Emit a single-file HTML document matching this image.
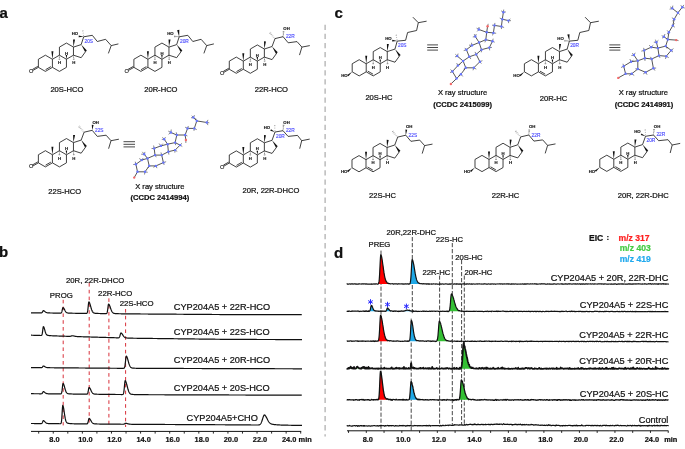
<!DOCTYPE html>
<html><head><meta charset="utf-8"><style>
html,body{margin:0;padding:0;background:#fff;}
svg{display:block;font-family:"Liberation Sans",sans-serif;will-change:transform;}
</style></head><body>
<svg width="685" height="449" viewBox="0 0 685 449">
<rect width="685" height="449" fill="#fff"/>
<line x1="45.40" y1="55.20" x2="38.39" y2="59.25" stroke="#111" stroke-width="0.8"/>
<line x1="38.39" y1="59.25" x2="38.39" y2="67.35" stroke="#111" stroke-width="0.8"/>
<line x1="38.39" y1="67.35" x2="45.40" y2="71.40" stroke="#111" stroke-width="0.8"/>
<line x1="45.40" y1="71.40" x2="52.41" y2="67.35" stroke="#111" stroke-width="0.8"/>
<line x1="52.41" y1="67.35" x2="52.41" y2="59.25" stroke="#111" stroke-width="0.8"/>
<line x1="52.41" y1="59.25" x2="45.40" y2="55.20" stroke="#111" stroke-width="0.8"/>
<line x1="52.41" y1="67.35" x2="59.43" y2="71.40" stroke="#111" stroke-width="0.8"/>
<line x1="59.43" y1="71.40" x2="66.44" y2="67.35" stroke="#111" stroke-width="0.8"/>
<line x1="66.44" y1="67.35" x2="66.44" y2="59.25" stroke="#111" stroke-width="0.8"/>
<line x1="66.44" y1="59.25" x2="59.43" y2="55.20" stroke="#111" stroke-width="0.8"/>
<line x1="59.43" y1="55.20" x2="52.41" y2="59.25" stroke="#111" stroke-width="0.8"/>
<line x1="59.43" y1="55.20" x2="59.43" y2="47.10" stroke="#111" stroke-width="0.8"/>
<line x1="59.43" y1="47.10" x2="66.44" y2="43.05" stroke="#111" stroke-width="0.8"/>
<line x1="66.44" y1="43.05" x2="73.46" y2="47.10" stroke="#111" stroke-width="0.8"/>
<line x1="73.46" y1="47.10" x2="73.46" y2="55.20" stroke="#111" stroke-width="0.8"/>
<line x1="73.46" y1="55.20" x2="66.44" y2="59.25" stroke="#111" stroke-width="0.8"/>
<line x1="73.46" y1="55.20" x2="81.16" y2="57.70" stroke="#111" stroke-width="0.8"/>
<line x1="81.16" y1="57.70" x2="85.93" y2="51.15" stroke="#111" stroke-width="0.8"/>
<line x1="81.16" y1="44.60" x2="73.46" y2="47.10" stroke="#111" stroke-width="0.8"/>
<polygon points="81.16,44.60 84.99,51.83 86.86,50.47" fill="#111"/>
<polygon points="52.41,59.25 53.41,51.25 51.41,51.25" fill="#111"/>
<polygon points="73.46,47.10 75.06,39.58 73.06,39.42" fill="#111"/>
<polygon points="66.44,59.25 67.19,55.05 65.69,55.05" fill="#111"/>
<text x="66.44" y="54.65" font-size="4.3" font-weight="bold" fill="#111" stroke="#111" stroke-width="0.13" text-anchor="middle" >H</text>
<line x1="59.03" y1="56.12" x2="59.83" y2="56.12" stroke="#111" stroke-width="0.55"/>
<line x1="58.95" y1="57.65" x2="59.91" y2="57.65" stroke="#111" stroke-width="0.55"/>
<line x1="58.65" y1="59.19" x2="60.21" y2="59.19" stroke="#111" stroke-width="0.55"/>
<text x="59.43" y="64.00" font-size="4.3" font-weight="bold" fill="#111" stroke="#111" stroke-width="0.13" text-anchor="middle" >H</text>
<line x1="73.12" y1="56.15" x2="73.92" y2="56.09" stroke="#111" stroke-width="0.55"/>
<line x1="73.14" y1="57.68" x2="74.10" y2="57.62" stroke="#111" stroke-width="0.55"/>
<line x1="72.94" y1="59.24" x2="74.50" y2="59.14" stroke="#111" stroke-width="0.55"/>
<text x="73.86" y="64.00" font-size="4.3" font-weight="bold" fill="#111" stroke="#111" stroke-width="0.13" text-anchor="middle" >H</text>
<line x1="45.54" y1="69.70" x2="50.87" y2="66.62" stroke="#111" stroke-width="0.8"/>
<line x1="38.39" y1="67.35" x2="33.09" y2="70.35" stroke="#111" stroke-width="0.8"/>
<line x1="37.84" y1="66.39" x2="32.54" y2="69.39" stroke="#111" stroke-width="0.8"/>
<text x="31.29" y="72.95" font-size="5.6" font-weight="normal" fill="#111" stroke="#111" stroke-width="0.13" text-anchor="middle" >O</text>
<line x1="81.16" y1="44.60" x2="83.70" y2="36.80" stroke="#111" stroke-width="0.8"/>
<line x1="83.70" y1="36.80" x2="92.30" y2="35.30" stroke="#111" stroke-width="0.8"/>
<line x1="92.30" y1="35.30" x2="97.30" y2="41.50" stroke="#111" stroke-width="0.8"/>
<line x1="97.30" y1="41.50" x2="105.60" y2="39.30" stroke="#111" stroke-width="0.8"/>
<line x1="105.60" y1="39.30" x2="111.20" y2="45.60" stroke="#111" stroke-width="0.8"/>
<line x1="111.20" y1="45.60" x2="118.40" y2="43.90" stroke="#111" stroke-width="0.8"/>
<line x1="111.20" y1="45.60" x2="108.40" y2="53.40" stroke="#111" stroke-width="0.8"/>
<polygon points="83.70,36.80 78.77,35.50 78.63,37.30" fill="#111"/>
<line x1="83.90" y1="35.38" x2="83.10" y2="35.50" stroke="#444" stroke-width="0.5"/>
<line x1="83.56" y1="33.12" x2="82.77" y2="33.23" stroke="#444" stroke-width="0.5"/>
<line x1="83.48" y1="30.81" x2="82.19" y2="31.00" stroke="#444" stroke-width="0.5"/>
<text x="78.10" y="35.40" font-size="4.3" font-weight="bold" fill="#111" stroke="#111" stroke-width="0.13" text-anchor="end" >HO</text>
<text x="84.50" y="43.10" font-size="4.8" font-weight="normal" fill="#4a4aff" stroke="#4a4aff" stroke-width="0.13" text-anchor="start" >20S</text>
<line x1="140.90" y1="55.20" x2="133.89" y2="59.25" stroke="#111" stroke-width="0.8"/>
<line x1="133.89" y1="59.25" x2="133.89" y2="67.35" stroke="#111" stroke-width="0.8"/>
<line x1="133.89" y1="67.35" x2="140.90" y2="71.40" stroke="#111" stroke-width="0.8"/>
<line x1="140.90" y1="71.40" x2="147.91" y2="67.35" stroke="#111" stroke-width="0.8"/>
<line x1="147.91" y1="67.35" x2="147.91" y2="59.25" stroke="#111" stroke-width="0.8"/>
<line x1="147.91" y1="59.25" x2="140.90" y2="55.20" stroke="#111" stroke-width="0.8"/>
<line x1="147.91" y1="67.35" x2="154.93" y2="71.40" stroke="#111" stroke-width="0.8"/>
<line x1="154.93" y1="71.40" x2="161.94" y2="67.35" stroke="#111" stroke-width="0.8"/>
<line x1="161.94" y1="67.35" x2="161.94" y2="59.25" stroke="#111" stroke-width="0.8"/>
<line x1="161.94" y1="59.25" x2="154.93" y2="55.20" stroke="#111" stroke-width="0.8"/>
<line x1="154.93" y1="55.20" x2="147.91" y2="59.25" stroke="#111" stroke-width="0.8"/>
<line x1="154.93" y1="55.20" x2="154.93" y2="47.10" stroke="#111" stroke-width="0.8"/>
<line x1="154.93" y1="47.10" x2="161.94" y2="43.05" stroke="#111" stroke-width="0.8"/>
<line x1="161.94" y1="43.05" x2="168.96" y2="47.10" stroke="#111" stroke-width="0.8"/>
<line x1="168.96" y1="47.10" x2="168.96" y2="55.20" stroke="#111" stroke-width="0.8"/>
<line x1="168.96" y1="55.20" x2="161.94" y2="59.25" stroke="#111" stroke-width="0.8"/>
<line x1="168.96" y1="55.20" x2="176.66" y2="57.70" stroke="#111" stroke-width="0.8"/>
<line x1="176.66" y1="57.70" x2="181.43" y2="51.15" stroke="#111" stroke-width="0.8"/>
<line x1="176.66" y1="44.60" x2="168.96" y2="47.10" stroke="#111" stroke-width="0.8"/>
<polygon points="176.66,44.60 180.49,51.83 182.36,50.47" fill="#111"/>
<polygon points="147.91,59.25 148.91,51.25 146.91,51.25" fill="#111"/>
<polygon points="168.96,47.10 170.56,39.58 168.56,39.42" fill="#111"/>
<polygon points="161.94,59.25 162.69,55.05 161.19,55.05" fill="#111"/>
<text x="161.94" y="54.65" font-size="4.3" font-weight="bold" fill="#111" stroke="#111" stroke-width="0.13" text-anchor="middle" >H</text>
<line x1="154.53" y1="56.12" x2="155.33" y2="56.12" stroke="#111" stroke-width="0.55"/>
<line x1="154.45" y1="57.65" x2="155.41" y2="57.65" stroke="#111" stroke-width="0.55"/>
<line x1="154.15" y1="59.19" x2="155.71" y2="59.19" stroke="#111" stroke-width="0.55"/>
<text x="154.93" y="64.00" font-size="4.3" font-weight="bold" fill="#111" stroke="#111" stroke-width="0.13" text-anchor="middle" >H</text>
<line x1="168.62" y1="56.15" x2="169.42" y2="56.09" stroke="#111" stroke-width="0.55"/>
<line x1="168.64" y1="57.68" x2="169.60" y2="57.62" stroke="#111" stroke-width="0.55"/>
<line x1="168.44" y1="59.24" x2="170.00" y2="59.14" stroke="#111" stroke-width="0.55"/>
<text x="169.36" y="64.00" font-size="4.3" font-weight="bold" fill="#111" stroke="#111" stroke-width="0.13" text-anchor="middle" >H</text>
<line x1="141.04" y1="69.70" x2="146.37" y2="66.62" stroke="#111" stroke-width="0.8"/>
<line x1="133.89" y1="67.35" x2="128.59" y2="70.35" stroke="#111" stroke-width="0.8"/>
<line x1="133.34" y1="66.39" x2="128.04" y2="69.39" stroke="#111" stroke-width="0.8"/>
<text x="126.79" y="72.95" font-size="5.6" font-weight="normal" fill="#111" stroke="#111" stroke-width="0.13" text-anchor="middle" >O</text>
<line x1="176.66" y1="44.60" x2="179.20" y2="36.80" stroke="#111" stroke-width="0.8"/>
<line x1="179.20" y1="36.80" x2="187.80" y2="35.30" stroke="#111" stroke-width="0.8"/>
<line x1="187.80" y1="35.30" x2="192.80" y2="41.50" stroke="#111" stroke-width="0.8"/>
<line x1="192.80" y1="41.50" x2="201.10" y2="39.30" stroke="#111" stroke-width="0.8"/>
<line x1="201.10" y1="39.30" x2="206.70" y2="45.60" stroke="#111" stroke-width="0.8"/>
<line x1="206.70" y1="45.60" x2="213.90" y2="43.90" stroke="#111" stroke-width="0.8"/>
<line x1="206.70" y1="45.60" x2="203.90" y2="53.40" stroke="#111" stroke-width="0.8"/>
<line x1="178.48" y1="36.34" x2="178.42" y2="37.14" stroke="#111" stroke-width="0.55"/>
<line x1="177.23" y1="36.24" x2="177.17" y2="37.04" stroke="#111" stroke-width="0.55"/>
<line x1="176.00" y1="35.96" x2="175.90" y2="37.12" stroke="#111" stroke-width="0.55"/>
<line x1="174.76" y1="35.63" x2="174.64" y2="37.25" stroke="#111" stroke-width="0.55"/>
<polygon points="179.20,36.80 179.29,29.84 177.11,30.16" fill="#111"/>
<text x="173.60" y="35.40" font-size="4.3" font-weight="bold" fill="#111" stroke="#111" stroke-width="0.13" text-anchor="end" >HO</text>
<text x="180.00" y="43.10" font-size="4.8" font-weight="normal" fill="#4a4aff" stroke="#4a4aff" stroke-width="0.13" text-anchor="start" >20R</text>
<line x1="236.30" y1="57.10" x2="229.29" y2="61.15" stroke="#111" stroke-width="0.8"/>
<line x1="229.29" y1="61.15" x2="229.29" y2="69.25" stroke="#111" stroke-width="0.8"/>
<line x1="229.29" y1="69.25" x2="236.30" y2="73.30" stroke="#111" stroke-width="0.8"/>
<line x1="236.30" y1="73.30" x2="243.31" y2="69.25" stroke="#111" stroke-width="0.8"/>
<line x1="243.31" y1="69.25" x2="243.31" y2="61.15" stroke="#111" stroke-width="0.8"/>
<line x1="243.31" y1="61.15" x2="236.30" y2="57.10" stroke="#111" stroke-width="0.8"/>
<line x1="243.31" y1="69.25" x2="250.33" y2="73.30" stroke="#111" stroke-width="0.8"/>
<line x1="250.33" y1="73.30" x2="257.34" y2="69.25" stroke="#111" stroke-width="0.8"/>
<line x1="257.34" y1="69.25" x2="257.34" y2="61.15" stroke="#111" stroke-width="0.8"/>
<line x1="257.34" y1="61.15" x2="250.33" y2="57.10" stroke="#111" stroke-width="0.8"/>
<line x1="250.33" y1="57.10" x2="243.31" y2="61.15" stroke="#111" stroke-width="0.8"/>
<line x1="250.33" y1="57.10" x2="250.33" y2="49.00" stroke="#111" stroke-width="0.8"/>
<line x1="250.33" y1="49.00" x2="257.34" y2="44.95" stroke="#111" stroke-width="0.8"/>
<line x1="257.34" y1="44.95" x2="264.36" y2="49.00" stroke="#111" stroke-width="0.8"/>
<line x1="264.36" y1="49.00" x2="264.36" y2="57.10" stroke="#111" stroke-width="0.8"/>
<line x1="264.36" y1="57.10" x2="257.34" y2="61.15" stroke="#111" stroke-width="0.8"/>
<line x1="264.36" y1="57.10" x2="272.06" y2="59.60" stroke="#111" stroke-width="0.8"/>
<line x1="272.06" y1="59.60" x2="276.83" y2="53.05" stroke="#111" stroke-width="0.8"/>
<line x1="272.06" y1="46.50" x2="264.36" y2="49.00" stroke="#111" stroke-width="0.8"/>
<polygon points="272.06,46.50 275.89,53.73 277.76,52.37" fill="#111"/>
<polygon points="243.31,61.15 244.31,53.15 242.31,53.15" fill="#111"/>
<polygon points="264.36,49.00 265.96,41.48 263.96,41.32" fill="#111"/>
<polygon points="257.34,61.15 258.09,56.95 256.59,56.95" fill="#111"/>
<text x="257.34" y="56.55" font-size="4.3" font-weight="bold" fill="#111" stroke="#111" stroke-width="0.13" text-anchor="middle" >H</text>
<line x1="249.93" y1="58.02" x2="250.73" y2="58.02" stroke="#111" stroke-width="0.55"/>
<line x1="249.85" y1="59.55" x2="250.81" y2="59.55" stroke="#111" stroke-width="0.55"/>
<line x1="249.55" y1="61.09" x2="251.11" y2="61.09" stroke="#111" stroke-width="0.55"/>
<text x="250.33" y="65.90" font-size="4.3" font-weight="bold" fill="#111" stroke="#111" stroke-width="0.13" text-anchor="middle" >H</text>
<line x1="264.02" y1="58.05" x2="264.82" y2="57.99" stroke="#111" stroke-width="0.55"/>
<line x1="264.04" y1="59.58" x2="265.00" y2="59.52" stroke="#111" stroke-width="0.55"/>
<line x1="263.84" y1="61.14" x2="265.40" y2="61.04" stroke="#111" stroke-width="0.55"/>
<text x="264.76" y="65.90" font-size="4.3" font-weight="bold" fill="#111" stroke="#111" stroke-width="0.13" text-anchor="middle" >H</text>
<line x1="236.44" y1="71.60" x2="241.77" y2="68.52" stroke="#111" stroke-width="0.8"/>
<line x1="229.29" y1="69.25" x2="223.99" y2="72.25" stroke="#111" stroke-width="0.8"/>
<line x1="228.74" y1="68.29" x2="223.44" y2="71.29" stroke="#111" stroke-width="0.8"/>
<text x="222.19" y="74.85" font-size="5.6" font-weight="normal" fill="#111" stroke="#111" stroke-width="0.13" text-anchor="middle" >O</text>
<line x1="272.06" y1="46.50" x2="275.00" y2="38.60" stroke="#111" stroke-width="0.8"/>
<line x1="275.00" y1="38.60" x2="283.10" y2="36.70" stroke="#111" stroke-width="0.8"/>
<line x1="283.10" y1="36.70" x2="288.20" y2="42.80" stroke="#111" stroke-width="0.8"/>
<line x1="288.20" y1="42.80" x2="297.00" y2="41.60" stroke="#111" stroke-width="0.8"/>
<line x1="297.00" y1="41.60" x2="301.90" y2="47.10" stroke="#111" stroke-width="0.8"/>
<line x1="301.90" y1="47.10" x2="309.80" y2="45.60" stroke="#111" stroke-width="0.8"/>
<line x1="301.90" y1="47.10" x2="299.50" y2="55.10" stroke="#111" stroke-width="0.8"/>
<line x1="274.83" y1="37.82" x2="274.24" y2="38.35" stroke="#555" stroke-width="0.5"/>
<line x1="274.06" y1="36.96" x2="273.47" y2="37.50" stroke="#555" stroke-width="0.5"/>
<line x1="273.29" y1="36.10" x2="272.70" y2="36.64" stroke="#555" stroke-width="0.5"/>
<line x1="272.57" y1="35.20" x2="271.88" y2="35.82" stroke="#555" stroke-width="0.5"/>
<line x1="271.89" y1="34.26" x2="271.01" y2="35.05" stroke="#555" stroke-width="0.5"/>
<line x1="271.22" y1="33.32" x2="270.14" y2="34.28" stroke="#555" stroke-width="0.5"/>
<line x1="270.54" y1="32.38" x2="269.28" y2="33.51" stroke="#555" stroke-width="0.5"/>
<line x1="283.57" y1="35.91" x2="282.78" y2="35.84" stroke="#111" stroke-width="0.55"/>
<line x1="283.70" y1="34.54" x2="282.90" y2="34.46" stroke="#111" stroke-width="0.55"/>
<line x1="284.01" y1="33.18" x2="282.84" y2="33.07" stroke="#111" stroke-width="0.55"/>
<line x1="284.36" y1="31.82" x2="282.74" y2="31.68" stroke="#111" stroke-width="0.55"/>
<text x="283.30" y="29.90" font-size="4.3" font-weight="bold" fill="#111" stroke="#111" stroke-width="0.13" text-anchor="start" >OH</text>
<text x="285.90" y="38.30" font-size="4.8" font-weight="normal" fill="#4a4aff" stroke="#4a4aff" stroke-width="0.13" text-anchor="start" >22R</text>
<line x1="45.40" y1="150.70" x2="38.39" y2="154.75" stroke="#111" stroke-width="0.8"/>
<line x1="38.39" y1="154.75" x2="38.39" y2="162.85" stroke="#111" stroke-width="0.8"/>
<line x1="38.39" y1="162.85" x2="45.40" y2="166.90" stroke="#111" stroke-width="0.8"/>
<line x1="45.40" y1="166.90" x2="52.41" y2="162.85" stroke="#111" stroke-width="0.8"/>
<line x1="52.41" y1="162.85" x2="52.41" y2="154.75" stroke="#111" stroke-width="0.8"/>
<line x1="52.41" y1="154.75" x2="45.40" y2="150.70" stroke="#111" stroke-width="0.8"/>
<line x1="52.41" y1="162.85" x2="59.43" y2="166.90" stroke="#111" stroke-width="0.8"/>
<line x1="59.43" y1="166.90" x2="66.44" y2="162.85" stroke="#111" stroke-width="0.8"/>
<line x1="66.44" y1="162.85" x2="66.44" y2="154.75" stroke="#111" stroke-width="0.8"/>
<line x1="66.44" y1="154.75" x2="59.43" y2="150.70" stroke="#111" stroke-width="0.8"/>
<line x1="59.43" y1="150.70" x2="52.41" y2="154.75" stroke="#111" stroke-width="0.8"/>
<line x1="59.43" y1="150.70" x2="59.43" y2="142.60" stroke="#111" stroke-width="0.8"/>
<line x1="59.43" y1="142.60" x2="66.44" y2="138.55" stroke="#111" stroke-width="0.8"/>
<line x1="66.44" y1="138.55" x2="73.46" y2="142.60" stroke="#111" stroke-width="0.8"/>
<line x1="73.46" y1="142.60" x2="73.46" y2="150.70" stroke="#111" stroke-width="0.8"/>
<line x1="73.46" y1="150.70" x2="66.44" y2="154.75" stroke="#111" stroke-width="0.8"/>
<line x1="73.46" y1="150.70" x2="81.16" y2="153.20" stroke="#111" stroke-width="0.8"/>
<line x1="81.16" y1="153.20" x2="85.93" y2="146.65" stroke="#111" stroke-width="0.8"/>
<line x1="81.16" y1="140.10" x2="73.46" y2="142.60" stroke="#111" stroke-width="0.8"/>
<polygon points="81.16,140.10 84.99,147.33 86.86,145.97" fill="#111"/>
<polygon points="52.41,154.75 53.41,146.75 51.41,146.75" fill="#111"/>
<polygon points="73.46,142.60 75.06,135.08 73.06,134.92" fill="#111"/>
<polygon points="66.44,154.75 67.19,150.55 65.69,150.55" fill="#111"/>
<text x="66.44" y="150.15" font-size="4.3" font-weight="bold" fill="#111" stroke="#111" stroke-width="0.13" text-anchor="middle" >H</text>
<line x1="59.03" y1="151.62" x2="59.83" y2="151.62" stroke="#111" stroke-width="0.55"/>
<line x1="58.95" y1="153.15" x2="59.91" y2="153.15" stroke="#111" stroke-width="0.55"/>
<line x1="58.65" y1="154.69" x2="60.21" y2="154.69" stroke="#111" stroke-width="0.55"/>
<text x="59.43" y="159.50" font-size="4.3" font-weight="bold" fill="#111" stroke="#111" stroke-width="0.13" text-anchor="middle" >H</text>
<line x1="73.12" y1="151.65" x2="73.92" y2="151.59" stroke="#111" stroke-width="0.55"/>
<line x1="73.14" y1="153.18" x2="74.10" y2="153.12" stroke="#111" stroke-width="0.55"/>
<line x1="72.94" y1="154.74" x2="74.50" y2="154.64" stroke="#111" stroke-width="0.55"/>
<text x="73.86" y="159.50" font-size="4.3" font-weight="bold" fill="#111" stroke="#111" stroke-width="0.13" text-anchor="middle" >H</text>
<line x1="45.54" y1="165.20" x2="50.87" y2="162.12" stroke="#111" stroke-width="0.8"/>
<line x1="38.39" y1="162.85" x2="33.09" y2="165.85" stroke="#111" stroke-width="0.8"/>
<line x1="37.84" y1="161.89" x2="32.54" y2="164.89" stroke="#111" stroke-width="0.8"/>
<text x="31.29" y="168.45" font-size="5.6" font-weight="normal" fill="#111" stroke="#111" stroke-width="0.13" text-anchor="middle" >O</text>
<line x1="81.16" y1="140.10" x2="84.10" y2="132.20" stroke="#111" stroke-width="0.8"/>
<line x1="84.10" y1="132.20" x2="92.20" y2="130.30" stroke="#111" stroke-width="0.8"/>
<line x1="92.20" y1="130.30" x2="97.30" y2="136.40" stroke="#111" stroke-width="0.8"/>
<line x1="97.30" y1="136.40" x2="106.10" y2="135.20" stroke="#111" stroke-width="0.8"/>
<line x1="106.10" y1="135.20" x2="111.00" y2="140.70" stroke="#111" stroke-width="0.8"/>
<line x1="111.00" y1="140.70" x2="118.90" y2="139.20" stroke="#111" stroke-width="0.8"/>
<line x1="111.00" y1="140.70" x2="108.60" y2="148.70" stroke="#111" stroke-width="0.8"/>
<line x1="83.93" y1="131.42" x2="83.34" y2="131.95" stroke="#555" stroke-width="0.5"/>
<line x1="83.16" y1="130.56" x2="82.57" y2="131.10" stroke="#555" stroke-width="0.5"/>
<line x1="82.39" y1="129.70" x2="81.80" y2="130.24" stroke="#555" stroke-width="0.5"/>
<line x1="81.67" y1="128.80" x2="80.98" y2="129.42" stroke="#555" stroke-width="0.5"/>
<line x1="80.99" y1="127.86" x2="80.11" y2="128.65" stroke="#555" stroke-width="0.5"/>
<line x1="80.32" y1="126.92" x2="79.24" y2="127.88" stroke="#555" stroke-width="0.5"/>
<line x1="79.64" y1="125.98" x2="78.38" y2="127.11" stroke="#555" stroke-width="0.5"/>
<polygon points="92.20,130.30 93.60,124.88 91.80,124.72" fill="#111"/>
<text x="92.40" y="123.50" font-size="4.3" font-weight="bold" fill="#111" stroke="#111" stroke-width="0.13" text-anchor="start" >OH</text>
<text x="95.00" y="131.90" font-size="4.8" font-weight="normal" fill="#4a4aff" stroke="#4a4aff" stroke-width="0.13" text-anchor="start" >22S</text>
<line x1="236.30" y1="150.90" x2="229.29" y2="154.95" stroke="#111" stroke-width="0.8"/>
<line x1="229.29" y1="154.95" x2="229.29" y2="163.05" stroke="#111" stroke-width="0.8"/>
<line x1="229.29" y1="163.05" x2="236.30" y2="167.10" stroke="#111" stroke-width="0.8"/>
<line x1="236.30" y1="167.10" x2="243.31" y2="163.05" stroke="#111" stroke-width="0.8"/>
<line x1="243.31" y1="163.05" x2="243.31" y2="154.95" stroke="#111" stroke-width="0.8"/>
<line x1="243.31" y1="154.95" x2="236.30" y2="150.90" stroke="#111" stroke-width="0.8"/>
<line x1="243.31" y1="163.05" x2="250.33" y2="167.10" stroke="#111" stroke-width="0.8"/>
<line x1="250.33" y1="167.10" x2="257.34" y2="163.05" stroke="#111" stroke-width="0.8"/>
<line x1="257.34" y1="163.05" x2="257.34" y2="154.95" stroke="#111" stroke-width="0.8"/>
<line x1="257.34" y1="154.95" x2="250.33" y2="150.90" stroke="#111" stroke-width="0.8"/>
<line x1="250.33" y1="150.90" x2="243.31" y2="154.95" stroke="#111" stroke-width="0.8"/>
<line x1="250.33" y1="150.90" x2="250.33" y2="142.80" stroke="#111" stroke-width="0.8"/>
<line x1="250.33" y1="142.80" x2="257.34" y2="138.75" stroke="#111" stroke-width="0.8"/>
<line x1="257.34" y1="138.75" x2="264.36" y2="142.80" stroke="#111" stroke-width="0.8"/>
<line x1="264.36" y1="142.80" x2="264.36" y2="150.90" stroke="#111" stroke-width="0.8"/>
<line x1="264.36" y1="150.90" x2="257.34" y2="154.95" stroke="#111" stroke-width="0.8"/>
<line x1="264.36" y1="150.90" x2="272.06" y2="153.40" stroke="#111" stroke-width="0.8"/>
<line x1="272.06" y1="153.40" x2="276.83" y2="146.85" stroke="#111" stroke-width="0.8"/>
<line x1="272.06" y1="140.30" x2="264.36" y2="142.80" stroke="#111" stroke-width="0.8"/>
<polygon points="272.06,140.30 275.89,147.53 277.76,146.17" fill="#111"/>
<polygon points="243.31,154.95 244.31,146.95 242.31,146.95" fill="#111"/>
<polygon points="264.36,142.80 265.96,135.28 263.96,135.12" fill="#111"/>
<polygon points="257.34,154.95 258.09,150.75 256.59,150.75" fill="#111"/>
<text x="257.34" y="150.35" font-size="4.3" font-weight="bold" fill="#111" stroke="#111" stroke-width="0.13" text-anchor="middle" >H</text>
<line x1="249.93" y1="151.82" x2="250.73" y2="151.82" stroke="#111" stroke-width="0.55"/>
<line x1="249.85" y1="153.35" x2="250.81" y2="153.35" stroke="#111" stroke-width="0.55"/>
<line x1="249.55" y1="154.89" x2="251.11" y2="154.89" stroke="#111" stroke-width="0.55"/>
<text x="250.33" y="159.70" font-size="4.3" font-weight="bold" fill="#111" stroke="#111" stroke-width="0.13" text-anchor="middle" >H</text>
<line x1="264.02" y1="151.85" x2="264.82" y2="151.79" stroke="#111" stroke-width="0.55"/>
<line x1="264.04" y1="153.38" x2="265.00" y2="153.32" stroke="#111" stroke-width="0.55"/>
<line x1="263.84" y1="154.94" x2="265.40" y2="154.84" stroke="#111" stroke-width="0.55"/>
<text x="264.76" y="159.70" font-size="4.3" font-weight="bold" fill="#111" stroke="#111" stroke-width="0.13" text-anchor="middle" >H</text>
<line x1="236.44" y1="165.40" x2="241.77" y2="162.32" stroke="#111" stroke-width="0.8"/>
<line x1="229.29" y1="163.05" x2="223.99" y2="166.05" stroke="#111" stroke-width="0.8"/>
<line x1="228.74" y1="162.09" x2="223.44" y2="165.09" stroke="#111" stroke-width="0.8"/>
<text x="222.19" y="168.65" font-size="5.6" font-weight="normal" fill="#111" stroke="#111" stroke-width="0.13" text-anchor="middle" >O</text>
<line x1="272.06" y1="140.30" x2="275.00" y2="132.00" stroke="#111" stroke-width="0.8"/>
<line x1="275.00" y1="132.00" x2="283.00" y2="130.70" stroke="#111" stroke-width="0.8"/>
<line x1="283.00" y1="130.70" x2="288.10" y2="136.40" stroke="#111" stroke-width="0.8"/>
<line x1="288.10" y1="136.40" x2="297.50" y2="135.40" stroke="#111" stroke-width="0.8"/>
<line x1="297.50" y1="135.40" x2="301.70" y2="140.70" stroke="#111" stroke-width="0.8"/>
<line x1="301.70" y1="140.70" x2="309.70" y2="139.10" stroke="#111" stroke-width="0.8"/>
<line x1="301.70" y1="140.70" x2="299.70" y2="148.70" stroke="#111" stroke-width="0.8"/>
<polygon points="275.00,132.00 270.97,129.18 270.23,130.82" fill="#111"/>
<line x1="275.34" y1="130.52" x2="274.54" y2="130.56" stroke="#444" stroke-width="0.5"/>
<line x1="275.24" y1="128.09" x2="274.44" y2="128.12" stroke="#444" stroke-width="0.5"/>
<line x1="275.39" y1="125.65" x2="274.09" y2="125.70" stroke="#444" stroke-width="0.5"/>
<line x1="283.49" y1="129.84" x2="282.69" y2="129.76" stroke="#111" stroke-width="0.55"/>
<line x1="283.64" y1="128.34" x2="282.84" y2="128.26" stroke="#111" stroke-width="0.55"/>
<line x1="283.97" y1="126.86" x2="282.81" y2="126.74" stroke="#111" stroke-width="0.55"/>
<line x1="284.35" y1="125.38" x2="282.73" y2="125.22" stroke="#111" stroke-width="0.55"/>
<text x="270.10" y="128.70" font-size="4.3" font-weight="bold" fill="#111" stroke="#111" stroke-width="0.13" text-anchor="end" >HO</text>
<text x="283.30" y="123.50" font-size="4.3" font-weight="bold" fill="#111" stroke="#111" stroke-width="0.13" text-anchor="start" >OH</text>
<text x="276.00" y="137.80" font-size="4.8" font-weight="normal" fill="#4a4aff" stroke="#4a4aff" stroke-width="0.13" text-anchor="start" >20R</text>
<text x="285.90" y="131.70" font-size="4.8" font-weight="normal" fill="#4a4aff" stroke="#4a4aff" stroke-width="0.13" text-anchor="start" >22R</text>
<line x1="359.20" y1="59.70" x2="352.19" y2="63.75" stroke="#111" stroke-width="0.8"/>
<line x1="352.19" y1="63.75" x2="352.19" y2="71.85" stroke="#111" stroke-width="0.8"/>
<line x1="352.19" y1="71.85" x2="359.20" y2="75.90" stroke="#111" stroke-width="0.8"/>
<line x1="359.20" y1="75.90" x2="366.21" y2="71.85" stroke="#111" stroke-width="0.8"/>
<line x1="366.21" y1="71.85" x2="366.21" y2="63.75" stroke="#111" stroke-width="0.8"/>
<line x1="366.21" y1="63.75" x2="359.20" y2="59.70" stroke="#111" stroke-width="0.8"/>
<line x1="366.21" y1="71.85" x2="373.23" y2="75.90" stroke="#111" stroke-width="0.8"/>
<line x1="373.23" y1="75.90" x2="380.24" y2="71.85" stroke="#111" stroke-width="0.8"/>
<line x1="380.24" y1="71.85" x2="380.24" y2="63.75" stroke="#111" stroke-width="0.8"/>
<line x1="380.24" y1="63.75" x2="373.23" y2="59.70" stroke="#111" stroke-width="0.8"/>
<line x1="373.23" y1="59.70" x2="366.21" y2="63.75" stroke="#111" stroke-width="0.8"/>
<line x1="373.23" y1="59.70" x2="373.23" y2="51.60" stroke="#111" stroke-width="0.8"/>
<line x1="373.23" y1="51.60" x2="380.24" y2="47.55" stroke="#111" stroke-width="0.8"/>
<line x1="380.24" y1="47.55" x2="387.26" y2="51.60" stroke="#111" stroke-width="0.8"/>
<line x1="387.26" y1="51.60" x2="387.26" y2="59.70" stroke="#111" stroke-width="0.8"/>
<line x1="387.26" y1="59.70" x2="380.24" y2="63.75" stroke="#111" stroke-width="0.8"/>
<line x1="387.26" y1="59.70" x2="394.96" y2="62.20" stroke="#111" stroke-width="0.8"/>
<line x1="394.96" y1="62.20" x2="399.73" y2="55.65" stroke="#111" stroke-width="0.8"/>
<line x1="394.96" y1="49.10" x2="387.26" y2="51.60" stroke="#111" stroke-width="0.8"/>
<polygon points="394.96,49.10 398.79,56.33 400.66,54.97" fill="#111"/>
<polygon points="366.21,63.75 367.21,55.75 365.21,55.75" fill="#111"/>
<polygon points="387.26,51.60 388.86,44.08 386.86,43.92" fill="#111"/>
<polygon points="380.24,63.75 380.99,59.55 379.49,59.55" fill="#111"/>
<text x="380.24" y="59.15" font-size="4.3" font-weight="bold" fill="#111" stroke="#111" stroke-width="0.13" text-anchor="middle" >H</text>
<line x1="372.83" y1="60.62" x2="373.63" y2="60.62" stroke="#111" stroke-width="0.55"/>
<line x1="372.75" y1="62.15" x2="373.71" y2="62.15" stroke="#111" stroke-width="0.55"/>
<line x1="372.45" y1="63.69" x2="374.01" y2="63.69" stroke="#111" stroke-width="0.55"/>
<text x="373.23" y="68.50" font-size="4.3" font-weight="bold" fill="#111" stroke="#111" stroke-width="0.13" text-anchor="middle" >H</text>
<line x1="386.92" y1="60.65" x2="387.72" y2="60.59" stroke="#111" stroke-width="0.55"/>
<line x1="386.94" y1="62.18" x2="387.90" y2="62.12" stroke="#111" stroke-width="0.55"/>
<line x1="386.74" y1="63.74" x2="388.30" y2="63.64" stroke="#111" stroke-width="0.55"/>
<text x="387.66" y="68.50" font-size="4.3" font-weight="bold" fill="#111" stroke="#111" stroke-width="0.13" text-anchor="middle" >H</text>
<line x1="367.76" y1="71.12" x2="373.09" y2="74.20" stroke="#111" stroke-width="0.8"/>
<polygon points="352.19,71.85 347.20,74.97 348.37,76.33" fill="#111"/>
<text x="347.59" y="77.15" font-size="4.3" font-weight="bold" fill="#111" stroke="#111" stroke-width="0.13" text-anchor="end" >HO</text>
<line x1="394.96" y1="49.10" x2="397.20" y2="41.10" stroke="#111" stroke-width="0.8"/>
<line x1="397.20" y1="41.10" x2="405.60" y2="40.30" stroke="#111" stroke-width="0.8"/>
<line x1="405.60" y1="40.30" x2="407.60" y2="32.50" stroke="#111" stroke-width="0.8"/>
<line x1="407.60" y1="32.50" x2="416.60" y2="30.50" stroke="#111" stroke-width="0.8"/>
<line x1="416.60" y1="30.50" x2="418.30" y2="22.70" stroke="#111" stroke-width="0.8"/>
<line x1="418.30" y1="22.70" x2="426.60" y2="21.20" stroke="#111" stroke-width="0.8"/>
<line x1="418.30" y1="22.70" x2="412.90" y2="17.20" stroke="#111" stroke-width="0.8"/>
<polygon points="397.20,41.10 392.27,39.80 392.13,41.60" fill="#111"/>
<line x1="397.40" y1="39.68" x2="396.60" y2="39.80" stroke="#444" stroke-width="0.5"/>
<line x1="397.06" y1="37.42" x2="396.27" y2="37.53" stroke="#444" stroke-width="0.5"/>
<line x1="396.98" y1="35.11" x2="395.69" y2="35.30" stroke="#444" stroke-width="0.5"/>
<text x="391.60" y="39.70" font-size="4.3" font-weight="bold" fill="#111" stroke="#111" stroke-width="0.13" text-anchor="end" >HO</text>
<text x="398.00" y="47.40" font-size="4.8" font-weight="normal" fill="#4a4aff" stroke="#4a4aff" stroke-width="0.13" text-anchor="start" >20S</text>
<line x1="531.40" y1="59.70" x2="524.39" y2="63.75" stroke="#111" stroke-width="0.8"/>
<line x1="524.39" y1="63.75" x2="524.39" y2="71.85" stroke="#111" stroke-width="0.8"/>
<line x1="524.39" y1="71.85" x2="531.40" y2="75.90" stroke="#111" stroke-width="0.8"/>
<line x1="531.40" y1="75.90" x2="538.41" y2="71.85" stroke="#111" stroke-width="0.8"/>
<line x1="538.41" y1="71.85" x2="538.41" y2="63.75" stroke="#111" stroke-width="0.8"/>
<line x1="538.41" y1="63.75" x2="531.40" y2="59.70" stroke="#111" stroke-width="0.8"/>
<line x1="538.41" y1="71.85" x2="545.43" y2="75.90" stroke="#111" stroke-width="0.8"/>
<line x1="545.43" y1="75.90" x2="552.44" y2="71.85" stroke="#111" stroke-width="0.8"/>
<line x1="552.44" y1="71.85" x2="552.44" y2="63.75" stroke="#111" stroke-width="0.8"/>
<line x1="552.44" y1="63.75" x2="545.43" y2="59.70" stroke="#111" stroke-width="0.8"/>
<line x1="545.43" y1="59.70" x2="538.41" y2="63.75" stroke="#111" stroke-width="0.8"/>
<line x1="545.43" y1="59.70" x2="545.43" y2="51.60" stroke="#111" stroke-width="0.8"/>
<line x1="545.43" y1="51.60" x2="552.44" y2="47.55" stroke="#111" stroke-width="0.8"/>
<line x1="552.44" y1="47.55" x2="559.46" y2="51.60" stroke="#111" stroke-width="0.8"/>
<line x1="559.46" y1="51.60" x2="559.46" y2="59.70" stroke="#111" stroke-width="0.8"/>
<line x1="559.46" y1="59.70" x2="552.44" y2="63.75" stroke="#111" stroke-width="0.8"/>
<line x1="559.46" y1="59.70" x2="567.16" y2="62.20" stroke="#111" stroke-width="0.8"/>
<line x1="567.16" y1="62.20" x2="571.93" y2="55.65" stroke="#111" stroke-width="0.8"/>
<line x1="567.16" y1="49.10" x2="559.46" y2="51.60" stroke="#111" stroke-width="0.8"/>
<polygon points="567.16,49.10 570.99,56.33 572.86,54.97" fill="#111"/>
<polygon points="538.41,63.75 539.41,55.75 537.41,55.75" fill="#111"/>
<polygon points="559.46,51.60 561.06,44.08 559.06,43.92" fill="#111"/>
<polygon points="552.44,63.75 553.19,59.55 551.69,59.55" fill="#111"/>
<text x="552.44" y="59.15" font-size="4.3" font-weight="bold" fill="#111" stroke="#111" stroke-width="0.13" text-anchor="middle" >H</text>
<line x1="545.03" y1="60.62" x2="545.83" y2="60.62" stroke="#111" stroke-width="0.55"/>
<line x1="544.95" y1="62.15" x2="545.91" y2="62.15" stroke="#111" stroke-width="0.55"/>
<line x1="544.65" y1="63.69" x2="546.21" y2="63.69" stroke="#111" stroke-width="0.55"/>
<text x="545.43" y="68.50" font-size="4.3" font-weight="bold" fill="#111" stroke="#111" stroke-width="0.13" text-anchor="middle" >H</text>
<line x1="559.12" y1="60.65" x2="559.92" y2="60.59" stroke="#111" stroke-width="0.55"/>
<line x1="559.14" y1="62.18" x2="560.10" y2="62.12" stroke="#111" stroke-width="0.55"/>
<line x1="558.94" y1="63.74" x2="560.50" y2="63.64" stroke="#111" stroke-width="0.55"/>
<text x="559.86" y="68.50" font-size="4.3" font-weight="bold" fill="#111" stroke="#111" stroke-width="0.13" text-anchor="middle" >H</text>
<line x1="539.96" y1="71.12" x2="545.29" y2="74.20" stroke="#111" stroke-width="0.8"/>
<polygon points="524.39,71.85 519.40,74.97 520.57,76.33" fill="#111"/>
<text x="519.79" y="77.15" font-size="4.3" font-weight="bold" fill="#111" stroke="#111" stroke-width="0.13" text-anchor="end" >HO</text>
<line x1="567.16" y1="49.10" x2="569.40" y2="41.10" stroke="#111" stroke-width="0.8"/>
<line x1="569.40" y1="41.10" x2="577.80" y2="40.30" stroke="#111" stroke-width="0.8"/>
<line x1="577.80" y1="40.30" x2="579.80" y2="32.50" stroke="#111" stroke-width="0.8"/>
<line x1="579.80" y1="32.50" x2="588.80" y2="30.50" stroke="#111" stroke-width="0.8"/>
<line x1="588.80" y1="30.50" x2="590.50" y2="22.70" stroke="#111" stroke-width="0.8"/>
<line x1="590.50" y1="22.70" x2="598.80" y2="21.20" stroke="#111" stroke-width="0.8"/>
<line x1="590.50" y1="22.70" x2="585.10" y2="17.20" stroke="#111" stroke-width="0.8"/>
<line x1="568.68" y1="40.64" x2="568.62" y2="41.44" stroke="#111" stroke-width="0.55"/>
<line x1="567.43" y1="40.54" x2="567.37" y2="41.34" stroke="#111" stroke-width="0.55"/>
<line x1="566.20" y1="40.26" x2="566.10" y2="41.42" stroke="#111" stroke-width="0.55"/>
<line x1="564.96" y1="39.93" x2="564.84" y2="41.55" stroke="#111" stroke-width="0.55"/>
<polygon points="569.40,41.10 569.49,34.14 567.31,34.46" fill="#111"/>
<text x="563.80" y="39.70" font-size="4.3" font-weight="bold" fill="#111" stroke="#111" stroke-width="0.13" text-anchor="end" >HO</text>
<text x="570.20" y="47.40" font-size="4.8" font-weight="normal" fill="#4a4aff" stroke="#4a4aff" stroke-width="0.13" text-anchor="start" >20R</text>
<line x1="359.00" y1="155.60" x2="351.99" y2="159.65" stroke="#111" stroke-width="0.8"/>
<line x1="351.99" y1="159.65" x2="351.99" y2="167.75" stroke="#111" stroke-width="0.8"/>
<line x1="351.99" y1="167.75" x2="359.00" y2="171.80" stroke="#111" stroke-width="0.8"/>
<line x1="359.00" y1="171.80" x2="366.01" y2="167.75" stroke="#111" stroke-width="0.8"/>
<line x1="366.01" y1="167.75" x2="366.01" y2="159.65" stroke="#111" stroke-width="0.8"/>
<line x1="366.01" y1="159.65" x2="359.00" y2="155.60" stroke="#111" stroke-width="0.8"/>
<line x1="366.01" y1="167.75" x2="373.03" y2="171.80" stroke="#111" stroke-width="0.8"/>
<line x1="373.03" y1="171.80" x2="380.04" y2="167.75" stroke="#111" stroke-width="0.8"/>
<line x1="380.04" y1="167.75" x2="380.04" y2="159.65" stroke="#111" stroke-width="0.8"/>
<line x1="380.04" y1="159.65" x2="373.03" y2="155.60" stroke="#111" stroke-width="0.8"/>
<line x1="373.03" y1="155.60" x2="366.01" y2="159.65" stroke="#111" stroke-width="0.8"/>
<line x1="373.03" y1="155.60" x2="373.03" y2="147.50" stroke="#111" stroke-width="0.8"/>
<line x1="373.03" y1="147.50" x2="380.04" y2="143.45" stroke="#111" stroke-width="0.8"/>
<line x1="380.04" y1="143.45" x2="387.06" y2="147.50" stroke="#111" stroke-width="0.8"/>
<line x1="387.06" y1="147.50" x2="387.06" y2="155.60" stroke="#111" stroke-width="0.8"/>
<line x1="387.06" y1="155.60" x2="380.04" y2="159.65" stroke="#111" stroke-width="0.8"/>
<line x1="387.06" y1="155.60" x2="394.76" y2="158.10" stroke="#111" stroke-width="0.8"/>
<line x1="394.76" y1="158.10" x2="399.53" y2="151.55" stroke="#111" stroke-width="0.8"/>
<line x1="394.76" y1="145.00" x2="387.06" y2="147.50" stroke="#111" stroke-width="0.8"/>
<polygon points="394.76,145.00 398.59,152.23 400.46,150.87" fill="#111"/>
<polygon points="366.01,159.65 367.01,151.65 365.01,151.65" fill="#111"/>
<polygon points="387.06,147.50 388.66,139.98 386.66,139.82" fill="#111"/>
<polygon points="380.04,159.65 380.79,155.45 379.29,155.45" fill="#111"/>
<text x="380.04" y="155.05" font-size="4.3" font-weight="bold" fill="#111" stroke="#111" stroke-width="0.13" text-anchor="middle" >H</text>
<line x1="372.63" y1="156.52" x2="373.43" y2="156.52" stroke="#111" stroke-width="0.55"/>
<line x1="372.55" y1="158.05" x2="373.51" y2="158.05" stroke="#111" stroke-width="0.55"/>
<line x1="372.25" y1="159.59" x2="373.81" y2="159.59" stroke="#111" stroke-width="0.55"/>
<text x="373.03" y="164.40" font-size="4.3" font-weight="bold" fill="#111" stroke="#111" stroke-width="0.13" text-anchor="middle" >H</text>
<line x1="386.72" y1="156.55" x2="387.52" y2="156.49" stroke="#111" stroke-width="0.55"/>
<line x1="386.74" y1="158.08" x2="387.70" y2="158.02" stroke="#111" stroke-width="0.55"/>
<line x1="386.54" y1="159.64" x2="388.10" y2="159.54" stroke="#111" stroke-width="0.55"/>
<text x="387.46" y="164.40" font-size="4.3" font-weight="bold" fill="#111" stroke="#111" stroke-width="0.13" text-anchor="middle" >H</text>
<line x1="367.56" y1="167.02" x2="372.89" y2="170.10" stroke="#111" stroke-width="0.8"/>
<polygon points="351.99,167.75 347.00,170.87 348.17,172.23" fill="#111"/>
<text x="347.39" y="173.05" font-size="4.3" font-weight="bold" fill="#111" stroke="#111" stroke-width="0.13" text-anchor="end" >HO</text>
<line x1="394.76" y1="145.00" x2="397.70" y2="137.10" stroke="#111" stroke-width="0.8"/>
<line x1="397.70" y1="137.10" x2="405.80" y2="135.20" stroke="#111" stroke-width="0.8"/>
<line x1="405.80" y1="135.20" x2="410.90" y2="141.30" stroke="#111" stroke-width="0.8"/>
<line x1="410.90" y1="141.30" x2="419.70" y2="140.10" stroke="#111" stroke-width="0.8"/>
<line x1="419.70" y1="140.10" x2="424.60" y2="145.60" stroke="#111" stroke-width="0.8"/>
<line x1="424.60" y1="145.60" x2="432.50" y2="144.10" stroke="#111" stroke-width="0.8"/>
<line x1="424.60" y1="145.60" x2="422.20" y2="153.60" stroke="#111" stroke-width="0.8"/>
<line x1="397.53" y1="136.32" x2="396.94" y2="136.85" stroke="#555" stroke-width="0.5"/>
<line x1="396.76" y1="135.46" x2="396.17" y2="136.00" stroke="#555" stroke-width="0.5"/>
<line x1="395.99" y1="134.60" x2="395.40" y2="135.14" stroke="#555" stroke-width="0.5"/>
<line x1="395.27" y1="133.70" x2="394.58" y2="134.32" stroke="#555" stroke-width="0.5"/>
<line x1="394.59" y1="132.76" x2="393.71" y2="133.55" stroke="#555" stroke-width="0.5"/>
<line x1="393.92" y1="131.82" x2="392.84" y2="132.78" stroke="#555" stroke-width="0.5"/>
<line x1="393.24" y1="130.88" x2="391.98" y2="132.01" stroke="#555" stroke-width="0.5"/>
<polygon points="405.80,135.20 407.20,129.78 405.40,129.62" fill="#111"/>
<text x="406.00" y="128.40" font-size="4.3" font-weight="bold" fill="#111" stroke="#111" stroke-width="0.13" text-anchor="start" >OH</text>
<text x="408.60" y="136.80" font-size="4.8" font-weight="normal" fill="#4a4aff" stroke="#4a4aff" stroke-width="0.13" text-anchor="start" >22S</text>
<line x1="482.00" y1="155.40" x2="474.99" y2="159.45" stroke="#111" stroke-width="0.8"/>
<line x1="474.99" y1="159.45" x2="474.99" y2="167.55" stroke="#111" stroke-width="0.8"/>
<line x1="474.99" y1="167.55" x2="482.00" y2="171.60" stroke="#111" stroke-width="0.8"/>
<line x1="482.00" y1="171.60" x2="489.01" y2="167.55" stroke="#111" stroke-width="0.8"/>
<line x1="489.01" y1="167.55" x2="489.01" y2="159.45" stroke="#111" stroke-width="0.8"/>
<line x1="489.01" y1="159.45" x2="482.00" y2="155.40" stroke="#111" stroke-width="0.8"/>
<line x1="489.01" y1="167.55" x2="496.03" y2="171.60" stroke="#111" stroke-width="0.8"/>
<line x1="496.03" y1="171.60" x2="503.04" y2="167.55" stroke="#111" stroke-width="0.8"/>
<line x1="503.04" y1="167.55" x2="503.04" y2="159.45" stroke="#111" stroke-width="0.8"/>
<line x1="503.04" y1="159.45" x2="496.03" y2="155.40" stroke="#111" stroke-width="0.8"/>
<line x1="496.03" y1="155.40" x2="489.01" y2="159.45" stroke="#111" stroke-width="0.8"/>
<line x1="496.03" y1="155.40" x2="496.03" y2="147.30" stroke="#111" stroke-width="0.8"/>
<line x1="496.03" y1="147.30" x2="503.04" y2="143.25" stroke="#111" stroke-width="0.8"/>
<line x1="503.04" y1="143.25" x2="510.06" y2="147.30" stroke="#111" stroke-width="0.8"/>
<line x1="510.06" y1="147.30" x2="510.06" y2="155.40" stroke="#111" stroke-width="0.8"/>
<line x1="510.06" y1="155.40" x2="503.04" y2="159.45" stroke="#111" stroke-width="0.8"/>
<line x1="510.06" y1="155.40" x2="517.76" y2="157.90" stroke="#111" stroke-width="0.8"/>
<line x1="517.76" y1="157.90" x2="522.53" y2="151.35" stroke="#111" stroke-width="0.8"/>
<line x1="517.76" y1="144.80" x2="510.06" y2="147.30" stroke="#111" stroke-width="0.8"/>
<polygon points="517.76,144.80 521.59,152.03 523.46,150.67" fill="#111"/>
<polygon points="489.01,159.45 490.01,151.45 488.01,151.45" fill="#111"/>
<polygon points="510.06,147.30 511.66,139.78 509.66,139.62" fill="#111"/>
<polygon points="503.04,159.45 503.79,155.25 502.29,155.25" fill="#111"/>
<text x="503.04" y="154.85" font-size="4.3" font-weight="bold" fill="#111" stroke="#111" stroke-width="0.13" text-anchor="middle" >H</text>
<line x1="495.63" y1="156.32" x2="496.43" y2="156.32" stroke="#111" stroke-width="0.55"/>
<line x1="495.55" y1="157.85" x2="496.51" y2="157.85" stroke="#111" stroke-width="0.55"/>
<line x1="495.25" y1="159.39" x2="496.81" y2="159.39" stroke="#111" stroke-width="0.55"/>
<text x="496.03" y="164.20" font-size="4.3" font-weight="bold" fill="#111" stroke="#111" stroke-width="0.13" text-anchor="middle" >H</text>
<line x1="509.72" y1="156.35" x2="510.52" y2="156.29" stroke="#111" stroke-width="0.55"/>
<line x1="509.74" y1="157.88" x2="510.70" y2="157.82" stroke="#111" stroke-width="0.55"/>
<line x1="509.54" y1="159.44" x2="511.10" y2="159.34" stroke="#111" stroke-width="0.55"/>
<text x="510.46" y="164.20" font-size="4.3" font-weight="bold" fill="#111" stroke="#111" stroke-width="0.13" text-anchor="middle" >H</text>
<line x1="490.56" y1="166.82" x2="495.89" y2="169.90" stroke="#111" stroke-width="0.8"/>
<polygon points="474.99,167.55 470.00,170.67 471.17,172.03" fill="#111"/>
<text x="470.39" y="172.85" font-size="4.3" font-weight="bold" fill="#111" stroke="#111" stroke-width="0.13" text-anchor="end" >HO</text>
<line x1="517.76" y1="144.80" x2="520.70" y2="136.90" stroke="#111" stroke-width="0.8"/>
<line x1="520.70" y1="136.90" x2="528.80" y2="135.00" stroke="#111" stroke-width="0.8"/>
<line x1="528.80" y1="135.00" x2="533.90" y2="141.10" stroke="#111" stroke-width="0.8"/>
<line x1="533.90" y1="141.10" x2="542.70" y2="139.90" stroke="#111" stroke-width="0.8"/>
<line x1="542.70" y1="139.90" x2="547.60" y2="145.40" stroke="#111" stroke-width="0.8"/>
<line x1="547.60" y1="145.40" x2="555.50" y2="143.90" stroke="#111" stroke-width="0.8"/>
<line x1="547.60" y1="145.40" x2="545.20" y2="153.40" stroke="#111" stroke-width="0.8"/>
<line x1="520.53" y1="136.12" x2="519.94" y2="136.65" stroke="#555" stroke-width="0.5"/>
<line x1="519.76" y1="135.26" x2="519.17" y2="135.80" stroke="#555" stroke-width="0.5"/>
<line x1="518.99" y1="134.40" x2="518.40" y2="134.94" stroke="#555" stroke-width="0.5"/>
<line x1="518.27" y1="133.50" x2="517.58" y2="134.12" stroke="#555" stroke-width="0.5"/>
<line x1="517.59" y1="132.56" x2="516.71" y2="133.35" stroke="#555" stroke-width="0.5"/>
<line x1="516.92" y1="131.62" x2="515.84" y2="132.58" stroke="#555" stroke-width="0.5"/>
<line x1="516.24" y1="130.68" x2="514.98" y2="131.81" stroke="#555" stroke-width="0.5"/>
<line x1="529.27" y1="134.21" x2="528.48" y2="134.14" stroke="#111" stroke-width="0.55"/>
<line x1="529.40" y1="132.84" x2="528.60" y2="132.76" stroke="#111" stroke-width="0.55"/>
<line x1="529.71" y1="131.48" x2="528.54" y2="131.37" stroke="#111" stroke-width="0.55"/>
<line x1="530.06" y1="130.12" x2="528.44" y2="129.98" stroke="#111" stroke-width="0.55"/>
<text x="529.00" y="128.20" font-size="4.3" font-weight="bold" fill="#111" stroke="#111" stroke-width="0.13" text-anchor="start" >OH</text>
<text x="531.60" y="136.60" font-size="4.8" font-weight="normal" fill="#4a4aff" stroke="#4a4aff" stroke-width="0.13" text-anchor="start" >22R</text>
<line x1="606.80" y1="155.20" x2="599.79" y2="159.25" stroke="#111" stroke-width="0.8"/>
<line x1="599.79" y1="159.25" x2="599.79" y2="167.35" stroke="#111" stroke-width="0.8"/>
<line x1="599.79" y1="167.35" x2="606.80" y2="171.40" stroke="#111" stroke-width="0.8"/>
<line x1="606.80" y1="171.40" x2="613.81" y2="167.35" stroke="#111" stroke-width="0.8"/>
<line x1="613.81" y1="167.35" x2="613.81" y2="159.25" stroke="#111" stroke-width="0.8"/>
<line x1="613.81" y1="159.25" x2="606.80" y2="155.20" stroke="#111" stroke-width="0.8"/>
<line x1="613.81" y1="167.35" x2="620.83" y2="171.40" stroke="#111" stroke-width="0.8"/>
<line x1="620.83" y1="171.40" x2="627.84" y2="167.35" stroke="#111" stroke-width="0.8"/>
<line x1="627.84" y1="167.35" x2="627.84" y2="159.25" stroke="#111" stroke-width="0.8"/>
<line x1="627.84" y1="159.25" x2="620.83" y2="155.20" stroke="#111" stroke-width="0.8"/>
<line x1="620.83" y1="155.20" x2="613.81" y2="159.25" stroke="#111" stroke-width="0.8"/>
<line x1="620.83" y1="155.20" x2="620.83" y2="147.10" stroke="#111" stroke-width="0.8"/>
<line x1="620.83" y1="147.10" x2="627.84" y2="143.05" stroke="#111" stroke-width="0.8"/>
<line x1="627.84" y1="143.05" x2="634.86" y2="147.10" stroke="#111" stroke-width="0.8"/>
<line x1="634.86" y1="147.10" x2="634.86" y2="155.20" stroke="#111" stroke-width="0.8"/>
<line x1="634.86" y1="155.20" x2="627.84" y2="159.25" stroke="#111" stroke-width="0.8"/>
<line x1="634.86" y1="155.20" x2="642.56" y2="157.70" stroke="#111" stroke-width="0.8"/>
<line x1="642.56" y1="157.70" x2="647.33" y2="151.15" stroke="#111" stroke-width="0.8"/>
<line x1="642.56" y1="144.60" x2="634.86" y2="147.10" stroke="#111" stroke-width="0.8"/>
<polygon points="642.56,144.60 646.39,151.83 648.26,150.47" fill="#111"/>
<polygon points="613.81,159.25 614.81,151.25 612.81,151.25" fill="#111"/>
<polygon points="634.86,147.10 636.46,139.58 634.46,139.42" fill="#111"/>
<polygon points="627.84,159.25 628.59,155.05 627.09,155.05" fill="#111"/>
<text x="627.84" y="154.65" font-size="4.3" font-weight="bold" fill="#111" stroke="#111" stroke-width="0.13" text-anchor="middle" >H</text>
<line x1="620.43" y1="156.12" x2="621.23" y2="156.12" stroke="#111" stroke-width="0.55"/>
<line x1="620.35" y1="157.65" x2="621.31" y2="157.65" stroke="#111" stroke-width="0.55"/>
<line x1="620.05" y1="159.19" x2="621.61" y2="159.19" stroke="#111" stroke-width="0.55"/>
<text x="620.83" y="164.00" font-size="4.3" font-weight="bold" fill="#111" stroke="#111" stroke-width="0.13" text-anchor="middle" >H</text>
<line x1="634.52" y1="156.15" x2="635.32" y2="156.09" stroke="#111" stroke-width="0.55"/>
<line x1="634.54" y1="157.68" x2="635.50" y2="157.62" stroke="#111" stroke-width="0.55"/>
<line x1="634.34" y1="159.24" x2="635.90" y2="159.14" stroke="#111" stroke-width="0.55"/>
<text x="635.26" y="164.00" font-size="4.3" font-weight="bold" fill="#111" stroke="#111" stroke-width="0.13" text-anchor="middle" >H</text>
<line x1="615.36" y1="166.62" x2="620.69" y2="169.70" stroke="#111" stroke-width="0.8"/>
<polygon points="599.79,167.35 594.80,170.47 595.97,171.83" fill="#111"/>
<text x="595.19" y="172.65" font-size="4.3" font-weight="bold" fill="#111" stroke="#111" stroke-width="0.13" text-anchor="end" >HO</text>
<line x1="642.56" y1="144.60" x2="645.50" y2="136.30" stroke="#111" stroke-width="0.8"/>
<line x1="645.50" y1="136.30" x2="653.50" y2="135.00" stroke="#111" stroke-width="0.8"/>
<line x1="653.50" y1="135.00" x2="658.60" y2="140.70" stroke="#111" stroke-width="0.8"/>
<line x1="658.60" y1="140.70" x2="668.00" y2="139.70" stroke="#111" stroke-width="0.8"/>
<line x1="668.00" y1="139.70" x2="672.20" y2="145.00" stroke="#111" stroke-width="0.8"/>
<line x1="672.20" y1="145.00" x2="680.20" y2="143.40" stroke="#111" stroke-width="0.8"/>
<line x1="672.20" y1="145.00" x2="670.20" y2="153.00" stroke="#111" stroke-width="0.8"/>
<polygon points="645.50,136.30 641.47,133.48 640.73,135.12" fill="#111"/>
<line x1="645.84" y1="134.82" x2="645.04" y2="134.86" stroke="#444" stroke-width="0.5"/>
<line x1="645.74" y1="132.39" x2="644.94" y2="132.42" stroke="#444" stroke-width="0.5"/>
<line x1="645.89" y1="129.95" x2="644.59" y2="130.00" stroke="#444" stroke-width="0.5"/>
<line x1="653.99" y1="134.14" x2="653.19" y2="134.06" stroke="#111" stroke-width="0.55"/>
<line x1="654.14" y1="132.64" x2="653.34" y2="132.56" stroke="#111" stroke-width="0.55"/>
<line x1="654.47" y1="131.16" x2="653.31" y2="131.04" stroke="#111" stroke-width="0.55"/>
<line x1="654.85" y1="129.68" x2="653.23" y2="129.52" stroke="#111" stroke-width="0.55"/>
<text x="640.60" y="133.00" font-size="4.3" font-weight="bold" fill="#111" stroke="#111" stroke-width="0.13" text-anchor="end" >HO</text>
<text x="653.80" y="127.80" font-size="4.3" font-weight="bold" fill="#111" stroke="#111" stroke-width="0.13" text-anchor="start" >OH</text>
<text x="646.50" y="142.10" font-size="4.8" font-weight="normal" fill="#4a4aff" stroke="#4a4aff" stroke-width="0.13" text-anchor="start" >20R</text>
<text x="656.40" y="136.00" font-size="4.8" font-weight="normal" fill="#4a4aff" stroke="#4a4aff" stroke-width="0.13" text-anchor="start" >22R</text>
<line x1="123.50" y1="141.70" x2="135.00" y2="141.70" stroke="#333" stroke-width="0.9"/>
<line x1="123.50" y1="144.30" x2="135.00" y2="144.30" stroke="#333" stroke-width="0.9"/>
<line x1="123.50" y1="146.90" x2="135.00" y2="146.90" stroke="#333" stroke-width="0.9"/>
<line x1="427.20" y1="44.90" x2="438.00" y2="44.90" stroke="#333" stroke-width="0.9"/>
<line x1="427.20" y1="47.50" x2="438.00" y2="47.50" stroke="#333" stroke-width="0.9"/>
<line x1="427.20" y1="50.10" x2="438.00" y2="50.10" stroke="#333" stroke-width="0.9"/>
<line x1="609.30" y1="44.90" x2="620.30" y2="44.90" stroke="#333" stroke-width="0.9"/>
<line x1="609.30" y1="47.50" x2="620.30" y2="47.50" stroke="#333" stroke-width="0.9"/>
<line x1="609.30" y1="50.10" x2="620.30" y2="50.10" stroke="#333" stroke-width="0.9"/>
<line x1="145.00" y1="171.80" x2="147.68" y2="172.29" stroke="#7a7a7a" stroke-width="0.9"/>
<line x1="145.00" y1="171.80" x2="144.52" y2="174.52" stroke="#7a7a7a" stroke-width="0.9"/>
<line x1="149.20" y1="165.90" x2="147.97" y2="168.01" stroke="#7a7a7a" stroke-width="0.9"/>
<line x1="141.70" y1="160.10" x2="139.27" y2="158.52" stroke="#7a7a7a" stroke-width="0.9"/>
<line x1="141.70" y1="160.10" x2="143.20" y2="158.05" stroke="#7a7a7a" stroke-width="0.9"/>
<line x1="135.90" y1="164.30" x2="133.23" y2="164.52" stroke="#7a7a7a" stroke-width="0.9"/>
<line x1="135.90" y1="164.30" x2="135.28" y2="161.69" stroke="#7a7a7a" stroke-width="0.9"/>
<line x1="155.90" y1="165.90" x2="156.97" y2="168.15" stroke="#7a7a7a" stroke-width="0.9"/>
<line x1="155.90" y1="165.90" x2="153.36" y2="167.34" stroke="#7a7a7a" stroke-width="0.9"/>
<line x1="163.40" y1="162.60" x2="166.11" y2="161.73" stroke="#7a7a7a" stroke-width="0.9"/>
<line x1="163.40" y1="162.60" x2="164.14" y2="164.92" stroke="#7a7a7a" stroke-width="0.9"/>
<line x1="161.70" y1="155.10" x2="160.98" y2="152.44" stroke="#7a7a7a" stroke-width="0.9"/>
<line x1="155.00" y1="155.10" x2="156.24" y2="157.18" stroke="#7a7a7a" stroke-width="0.9"/>
<line x1="154.20" y1="148.40" x2="151.52" y2="148.55" stroke="#7a7a7a" stroke-width="0.9"/>
<line x1="154.20" y1="148.40" x2="153.62" y2="145.53" stroke="#7a7a7a" stroke-width="0.9"/>
<line x1="160.90" y1="145.90" x2="159.13" y2="143.54" stroke="#7a7a7a" stroke-width="0.9"/>
<line x1="160.90" y1="145.90" x2="162.75" y2="143.69" stroke="#7a7a7a" stroke-width="0.9"/>
<line x1="168.40" y1="151.70" x2="168.89" y2="154.62" stroke="#7a7a7a" stroke-width="0.9"/>
<line x1="175.10" y1="150.10" x2="177.20" y2="151.38" stroke="#7a7a7a" stroke-width="0.9"/>
<line x1="175.10" y1="150.10" x2="174.84" y2="152.62" stroke="#7a7a7a" stroke-width="0.9"/>
<line x1="180.10" y1="145.10" x2="182.03" y2="143.26" stroke="#7a7a7a" stroke-width="0.9"/>
<line x1="180.10" y1="145.10" x2="182.27" y2="146.49" stroke="#7a7a7a" stroke-width="0.9"/>
<line x1="175.10" y1="142.60" x2="175.68" y2="145.17" stroke="#7a7a7a" stroke-width="0.9"/>
<line x1="176.80" y1="135.00" x2="176.22" y2="132.31" stroke="#7a7a7a" stroke-width="0.9"/>
<line x1="170.90" y1="132.50" x2="168.57" y2="134.30" stroke="#7a7a7a" stroke-width="0.9"/>
<line x1="170.90" y1="132.50" x2="168.29" y2="131.10" stroke="#7a7a7a" stroke-width="0.9"/>
<line x1="170.90" y1="132.50" x2="171.22" y2="129.52" stroke="#7a7a7a" stroke-width="0.9"/>
<line x1="185.10" y1="135.00" x2="187.41" y2="135.96" stroke="#7a7a7a" stroke-width="0.9"/>
<line x1="185.90" y1="140.00" x2="185.84" y2="142.98" stroke="#7a7a7a" stroke-width="0.9"/>
<line x1="187.60" y1="128.40" x2="185.14" y2="127.19" stroke="#7a7a7a" stroke-width="0.9"/>
<line x1="187.60" y1="128.40" x2="188.32" y2="125.98" stroke="#7a7a7a" stroke-width="0.9"/>
<line x1="194.30" y1="128.40" x2="196.74" y2="129.66" stroke="#7a7a7a" stroke-width="0.9"/>
<line x1="194.30" y1="128.40" x2="193.98" y2="130.82" stroke="#7a7a7a" stroke-width="0.9"/>
<line x1="196.80" y1="120.90" x2="195.51" y2="118.20" stroke="#7a7a7a" stroke-width="0.9"/>
<line x1="206.80" y1="122.50" x2="207.98" y2="119.87" stroke="#7a7a7a" stroke-width="0.9"/>
<line x1="206.80" y1="122.50" x2="209.27" y2="122.78" stroke="#7a7a7a" stroke-width="0.9"/>
<line x1="206.80" y1="122.50" x2="207.95" y2="125.12" stroke="#7a7a7a" stroke-width="0.9"/>
<line x1="193.40" y1="117.50" x2="190.99" y2="117.81" stroke="#7a7a7a" stroke-width="0.9"/>
<line x1="193.40" y1="117.50" x2="191.78" y2="115.69" stroke="#7a7a7a" stroke-width="0.9"/>
<line x1="193.40" y1="117.50" x2="194.47" y2="115.13" stroke="#7a7a7a" stroke-width="0.9"/>
<line x1="144.20" y1="154.20" x2="141.21" y2="154.21" stroke="#7a7a7a" stroke-width="0.9"/>
<line x1="144.20" y1="154.20" x2="142.35" y2="151.84" stroke="#7a7a7a" stroke-width="0.9"/>
<line x1="144.20" y1="154.20" x2="145.01" y2="151.89" stroke="#7a7a7a" stroke-width="0.9"/>
<line x1="164.20" y1="139.20" x2="161.79" y2="139.38" stroke="#7a7a7a" stroke-width="0.9"/>
<line x1="164.20" y1="139.20" x2="162.40" y2="137.26" stroke="#7a7a7a" stroke-width="0.9"/>
<line x1="164.20" y1="139.20" x2="165.52" y2="137.08" stroke="#7a7a7a" stroke-width="0.9"/>
<line x1="134.20" y1="177.60" x2="137.50" y2="171.80" stroke="#2a2a2a" stroke-width="0.8"/>
<line x1="137.50" y1="171.80" x2="145.00" y2="171.80" stroke="#2a2a2a" stroke-width="0.8"/>
<line x1="145.00" y1="171.80" x2="149.20" y2="165.90" stroke="#2a2a2a" stroke-width="0.8"/>
<line x1="149.20" y1="165.90" x2="147.50" y2="158.40" stroke="#2a2a2a" stroke-width="0.8"/>
<line x1="147.50" y1="158.40" x2="141.70" y2="160.10" stroke="#2a2a2a" stroke-width="0.8"/>
<line x1="141.70" y1="160.10" x2="135.90" y2="164.30" stroke="#2a2a2a" stroke-width="0.8"/>
<line x1="135.90" y1="164.30" x2="137.50" y2="171.80" stroke="#2a2a2a" stroke-width="0.8"/>
<line x1="149.20" y1="165.90" x2="155.90" y2="165.90" stroke="#2a2a2a" stroke-width="0.8"/>
<line x1="155.90" y1="165.90" x2="163.40" y2="162.60" stroke="#2a2a2a" stroke-width="0.8"/>
<line x1="163.40" y1="162.60" x2="161.70" y2="155.10" stroke="#2a2a2a" stroke-width="0.8"/>
<line x1="161.70" y1="155.10" x2="155.00" y2="155.10" stroke="#2a2a2a" stroke-width="0.8"/>
<line x1="155.00" y1="155.10" x2="147.50" y2="158.40" stroke="#2a2a2a" stroke-width="0.8"/>
<line x1="147.50" y1="158.40" x2="144.20" y2="154.20" stroke="#2a2a2a" stroke-width="0.8"/>
<line x1="155.00" y1="155.10" x2="154.20" y2="148.40" stroke="#2a2a2a" stroke-width="0.8"/>
<line x1="154.20" y1="148.40" x2="160.90" y2="145.90" stroke="#2a2a2a" stroke-width="0.8"/>
<line x1="160.90" y1="145.90" x2="167.60" y2="144.20" stroke="#2a2a2a" stroke-width="0.8"/>
<line x1="167.60" y1="144.20" x2="168.40" y2="151.70" stroke="#2a2a2a" stroke-width="0.8"/>
<line x1="168.40" y1="151.70" x2="161.70" y2="155.10" stroke="#2a2a2a" stroke-width="0.8"/>
<line x1="167.60" y1="144.20" x2="164.20" y2="139.20" stroke="#2a2a2a" stroke-width="0.8"/>
<line x1="168.40" y1="151.70" x2="175.10" y2="150.10" stroke="#2a2a2a" stroke-width="0.8"/>
<line x1="175.10" y1="150.10" x2="180.10" y2="145.10" stroke="#2a2a2a" stroke-width="0.8"/>
<line x1="180.10" y1="145.10" x2="175.10" y2="142.60" stroke="#2a2a2a" stroke-width="0.8"/>
<line x1="175.10" y1="142.60" x2="167.60" y2="144.20" stroke="#2a2a2a" stroke-width="0.8"/>
<line x1="175.10" y1="142.60" x2="176.80" y2="135.00" stroke="#2a2a2a" stroke-width="0.8"/>
<line x1="176.80" y1="135.00" x2="170.90" y2="132.50" stroke="#2a2a2a" stroke-width="0.8"/>
<line x1="176.80" y1="135.00" x2="185.10" y2="135.00" stroke="#2a2a2a" stroke-width="0.8"/>
<line x1="185.10" y1="135.00" x2="187.60" y2="128.40" stroke="#2a2a2a" stroke-width="0.8"/>
<line x1="187.60" y1="128.40" x2="194.30" y2="128.40" stroke="#2a2a2a" stroke-width="0.8"/>
<line x1="194.30" y1="128.40" x2="196.80" y2="120.90" stroke="#2a2a2a" stroke-width="0.8"/>
<line x1="196.80" y1="120.90" x2="206.80" y2="122.50" stroke="#2a2a2a" stroke-width="0.8"/>
<line x1="196.80" y1="120.90" x2="193.40" y2="117.50" stroke="#2a2a2a" stroke-width="0.8"/>
<line x1="185.10" y1="135.00" x2="185.90" y2="140.00" stroke="#2a2a2a" stroke-width="0.8"/>
<circle cx="134.20" cy="177.60" r="1.2" fill="#f46a6a"/>
<circle cx="137.50" cy="171.80" r="1.2" fill="#6675ff"/>
<circle cx="145.00" cy="171.80" r="1.2" fill="#6675ff"/>
<circle cx="149.20" cy="165.90" r="1.2" fill="#6675ff"/>
<circle cx="147.50" cy="158.40" r="1.2" fill="#6675ff"/>
<circle cx="141.70" cy="160.10" r="1.2" fill="#6675ff"/>
<circle cx="135.90" cy="164.30" r="1.2" fill="#6675ff"/>
<circle cx="155.90" cy="165.90" r="1.2" fill="#6675ff"/>
<circle cx="163.40" cy="162.60" r="1.2" fill="#6675ff"/>
<circle cx="161.70" cy="155.10" r="1.2" fill="#6675ff"/>
<circle cx="155.00" cy="155.10" r="1.2" fill="#6675ff"/>
<circle cx="154.20" cy="148.40" r="1.2" fill="#6675ff"/>
<circle cx="160.90" cy="145.90" r="1.2" fill="#6675ff"/>
<circle cx="167.60" cy="144.20" r="1.2" fill="#6675ff"/>
<circle cx="168.40" cy="151.70" r="1.2" fill="#6675ff"/>
<circle cx="175.10" cy="150.10" r="1.2" fill="#6675ff"/>
<circle cx="180.10" cy="145.10" r="1.2" fill="#6675ff"/>
<circle cx="175.10" cy="142.60" r="1.2" fill="#6675ff"/>
<circle cx="176.80" cy="135.00" r="1.2" fill="#6675ff"/>
<circle cx="170.90" cy="132.50" r="1.2" fill="#6675ff"/>
<circle cx="185.10" cy="135.00" r="1.2" fill="#6675ff"/>
<circle cx="185.90" cy="140.00" r="1.2" fill="#f46a6a"/>
<circle cx="187.60" cy="128.40" r="1.2" fill="#6675ff"/>
<circle cx="194.30" cy="128.40" r="1.2" fill="#6675ff"/>
<circle cx="196.80" cy="120.90" r="1.2" fill="#6675ff"/>
<circle cx="206.80" cy="122.50" r="1.2" fill="#6675ff"/>
<circle cx="193.40" cy="117.50" r="1.2" fill="#6675ff"/>
<circle cx="144.20" cy="154.20" r="1.2" fill="#6675ff"/>
<circle cx="164.20" cy="139.20" r="1.2" fill="#6675ff"/>
<line x1="460.90" y1="74.20" x2="462.78" y2="76.43" stroke="#7a7a7a" stroke-width="0.9"/>
<line x1="460.90" y1="74.20" x2="458.51" y2="75.97" stroke="#7a7a7a" stroke-width="0.9"/>
<line x1="452.40" y1="71.50" x2="450.02" y2="72.62" stroke="#7a7a7a" stroke-width="0.9"/>
<line x1="452.40" y1="71.50" x2="450.60" y2="69.47" stroke="#7a7a7a" stroke-width="0.9"/>
<line x1="457.90" y1="65.60" x2="456.70" y2="63.12" stroke="#7a7a7a" stroke-width="0.9"/>
<line x1="457.90" y1="65.60" x2="460.24" y2="64.12" stroke="#7a7a7a" stroke-width="0.9"/>
<line x1="465.80" y1="67.80" x2="463.52" y2="69.25" stroke="#7a7a7a" stroke-width="0.9"/>
<line x1="473.80" y1="67.80" x2="476.31" y2="69.12" stroke="#7a7a7a" stroke-width="0.9"/>
<line x1="473.80" y1="67.80" x2="473.00" y2="70.25" stroke="#7a7a7a" stroke-width="0.9"/>
<line x1="479.90" y1="61.70" x2="482.41" y2="60.67" stroke="#7a7a7a" stroke-width="0.9"/>
<line x1="479.90" y1="61.70" x2="481.40" y2="63.58" stroke="#7a7a7a" stroke-width="0.9"/>
<line x1="476.20" y1="54.40" x2="475.03" y2="51.91" stroke="#7a7a7a" stroke-width="0.9"/>
<line x1="469.30" y1="56.80" x2="470.94" y2="59.03" stroke="#7a7a7a" stroke-width="0.9"/>
<line x1="457.30" y1="56.10" x2="455.00" y2="56.89" stroke="#7a7a7a" stroke-width="0.9"/>
<line x1="457.30" y1="56.10" x2="455.37" y2="54.24" stroke="#7a7a7a" stroke-width="0.9"/>
<line x1="457.30" y1="56.10" x2="458.12" y2="53.62" stroke="#7a7a7a" stroke-width="0.9"/>
<line x1="466.40" y1="49.70" x2="463.71" y2="50.62" stroke="#7a7a7a" stroke-width="0.9"/>
<line x1="466.40" y1="49.70" x2="464.75" y2="47.90" stroke="#7a7a7a" stroke-width="0.9"/>
<line x1="472.00" y1="45.40" x2="469.03" y2="45.14" stroke="#7a7a7a" stroke-width="0.9"/>
<line x1="472.00" y1="45.40" x2="471.48" y2="42.78" stroke="#7a7a7a" stroke-width="0.9"/>
<line x1="481.50" y1="49.70" x2="481.32" y2="52.29" stroke="#7a7a7a" stroke-width="0.9"/>
<line x1="489.30" y1="47.60" x2="491.88" y2="47.43" stroke="#7a7a7a" stroke-width="0.9"/>
<line x1="489.30" y1="47.60" x2="489.67" y2="50.33" stroke="#7a7a7a" stroke-width="0.9"/>
<line x1="492.50" y1="41.20" x2="493.18" y2="38.66" stroke="#7a7a7a" stroke-width="0.9"/>
<line x1="492.50" y1="41.20" x2="494.70" y2="42.20" stroke="#7a7a7a" stroke-width="0.9"/>
<line x1="485.80" y1="39.70" x2="484.91" y2="42.40" stroke="#7a7a7a" stroke-width="0.9"/>
<line x1="475.30" y1="36.50" x2="472.81" y2="36.98" stroke="#7a7a7a" stroke-width="0.9"/>
<line x1="475.30" y1="36.50" x2="474.28" y2="34.17" stroke="#7a7a7a" stroke-width="0.9"/>
<line x1="475.30" y1="36.50" x2="476.28" y2="34.03" stroke="#7a7a7a" stroke-width="0.9"/>
<line x1="487.60" y1="26.20" x2="488.20" y2="23.81" stroke="#7a7a7a" stroke-width="0.9"/>
<line x1="478.90" y1="29.50" x2="477.17" y2="31.44" stroke="#7a7a7a" stroke-width="0.9"/>
<line x1="478.90" y1="29.50" x2="476.58" y2="28.20" stroke="#7a7a7a" stroke-width="0.9"/>
<line x1="478.90" y1="29.50" x2="479.03" y2="27.00" stroke="#7a7a7a" stroke-width="0.9"/>
<line x1="493.40" y1="32.90" x2="496.17" y2="33.27" stroke="#7a7a7a" stroke-width="0.9"/>
<line x1="493.40" y1="32.90" x2="492.52" y2="35.42" stroke="#7a7a7a" stroke-width="0.9"/>
<line x1="494.50" y1="25.40" x2="492.04" y2="25.18" stroke="#7a7a7a" stroke-width="0.9"/>
<line x1="494.50" y1="25.40" x2="494.93" y2="22.92" stroke="#7a7a7a" stroke-width="0.9"/>
<line x1="501.40" y1="26.50" x2="504.12" y2="27.51" stroke="#7a7a7a" stroke-width="0.9"/>
<line x1="501.40" y1="26.50" x2="501.47" y2="29.07" stroke="#7a7a7a" stroke-width="0.9"/>
<line x1="502.30" y1="19.20" x2="499.75" y2="18.07" stroke="#7a7a7a" stroke-width="0.9"/>
<line x1="508.40" y1="20.60" x2="510.36" y2="18.88" stroke="#7a7a7a" stroke-width="0.9"/>
<line x1="508.40" y1="20.60" x2="510.97" y2="20.70" stroke="#7a7a7a" stroke-width="0.9"/>
<line x1="508.40" y1="20.60" x2="508.65" y2="23.15" stroke="#7a7a7a" stroke-width="0.9"/>
<line x1="503.40" y1="12.20" x2="501.14" y2="10.82" stroke="#7a7a7a" stroke-width="0.9"/>
<line x1="503.40" y1="12.20" x2="503.71" y2="9.57" stroke="#7a7a7a" stroke-width="0.9"/>
<line x1="503.40" y1="12.20" x2="505.88" y2="11.94" stroke="#7a7a7a" stroke-width="0.9"/>
<line x1="450.90" y1="84.00" x2="456.60" y2="78.50" stroke="#2a2a2a" stroke-width="0.8"/>
<line x1="456.60" y1="78.50" x2="460.90" y2="74.20" stroke="#2a2a2a" stroke-width="0.8"/>
<line x1="460.90" y1="74.20" x2="465.80" y2="67.80" stroke="#2a2a2a" stroke-width="0.8"/>
<line x1="465.80" y1="67.80" x2="463.10" y2="61.00" stroke="#2a2a2a" stroke-width="0.8"/>
<line x1="463.10" y1="61.00" x2="457.90" y2="65.60" stroke="#2a2a2a" stroke-width="0.8"/>
<line x1="457.90" y1="65.60" x2="452.40" y2="71.50" stroke="#2a2a2a" stroke-width="0.8"/>
<line x1="452.40" y1="71.50" x2="456.60" y2="78.50" stroke="#2a2a2a" stroke-width="0.8"/>
<line x1="465.80" y1="67.80" x2="473.80" y2="67.80" stroke="#2a2a2a" stroke-width="0.8"/>
<line x1="473.80" y1="67.80" x2="479.90" y2="61.70" stroke="#2a2a2a" stroke-width="0.8"/>
<line x1="479.90" y1="61.70" x2="476.20" y2="54.40" stroke="#2a2a2a" stroke-width="0.8"/>
<line x1="476.20" y1="54.40" x2="469.30" y2="56.80" stroke="#2a2a2a" stroke-width="0.8"/>
<line x1="469.30" y1="56.80" x2="463.10" y2="61.00" stroke="#2a2a2a" stroke-width="0.8"/>
<line x1="463.10" y1="61.00" x2="457.30" y2="56.10" stroke="#2a2a2a" stroke-width="0.8"/>
<line x1="469.30" y1="56.80" x2="466.40" y2="49.70" stroke="#2a2a2a" stroke-width="0.8"/>
<line x1="466.40" y1="49.70" x2="472.00" y2="45.40" stroke="#2a2a2a" stroke-width="0.8"/>
<line x1="472.00" y1="45.40" x2="479.10" y2="42.50" stroke="#2a2a2a" stroke-width="0.8"/>
<line x1="479.10" y1="42.50" x2="481.50" y2="49.70" stroke="#2a2a2a" stroke-width="0.8"/>
<line x1="481.50" y1="49.70" x2="476.20" y2="54.40" stroke="#2a2a2a" stroke-width="0.8"/>
<line x1="479.10" y1="42.50" x2="475.30" y2="36.50" stroke="#2a2a2a" stroke-width="0.8"/>
<line x1="481.50" y1="49.70" x2="489.30" y2="47.60" stroke="#2a2a2a" stroke-width="0.8"/>
<line x1="489.30" y1="47.60" x2="492.50" y2="41.20" stroke="#2a2a2a" stroke-width="0.8"/>
<line x1="492.50" y1="41.20" x2="485.80" y2="39.70" stroke="#2a2a2a" stroke-width="0.8"/>
<line x1="485.80" y1="39.70" x2="479.10" y2="42.50" stroke="#2a2a2a" stroke-width="0.8"/>
<line x1="485.80" y1="39.70" x2="486.70" y2="32.30" stroke="#2a2a2a" stroke-width="0.8"/>
<line x1="486.70" y1="32.30" x2="478.90" y2="29.50" stroke="#2a2a2a" stroke-width="0.8"/>
<line x1="486.70" y1="32.30" x2="493.40" y2="32.90" stroke="#2a2a2a" stroke-width="0.8"/>
<line x1="493.40" y1="32.90" x2="494.50" y2="25.40" stroke="#2a2a2a" stroke-width="0.8"/>
<line x1="494.50" y1="25.40" x2="501.40" y2="26.50" stroke="#2a2a2a" stroke-width="0.8"/>
<line x1="501.40" y1="26.50" x2="502.30" y2="19.20" stroke="#2a2a2a" stroke-width="0.8"/>
<line x1="502.30" y1="19.20" x2="508.40" y2="20.60" stroke="#2a2a2a" stroke-width="0.8"/>
<line x1="502.30" y1="19.20" x2="503.40" y2="12.20" stroke="#2a2a2a" stroke-width="0.8"/>
<line x1="486.70" y1="32.30" x2="487.60" y2="26.20" stroke="#2a2a2a" stroke-width="0.8"/>
<circle cx="450.90" cy="84.00" r="1.2" fill="#f46a6a"/>
<circle cx="456.60" cy="78.50" r="1.2" fill="#6675ff"/>
<circle cx="460.90" cy="74.20" r="1.2" fill="#6675ff"/>
<circle cx="452.40" cy="71.50" r="1.2" fill="#6675ff"/>
<circle cx="457.90" cy="65.60" r="1.2" fill="#6675ff"/>
<circle cx="463.10" cy="61.00" r="1.2" fill="#6675ff"/>
<circle cx="465.80" cy="67.80" r="1.2" fill="#6675ff"/>
<circle cx="473.80" cy="67.80" r="1.2" fill="#6675ff"/>
<circle cx="479.90" cy="61.70" r="1.2" fill="#6675ff"/>
<circle cx="476.20" cy="54.40" r="1.2" fill="#6675ff"/>
<circle cx="469.30" cy="56.80" r="1.2" fill="#6675ff"/>
<circle cx="457.30" cy="56.10" r="1.2" fill="#6675ff"/>
<circle cx="466.40" cy="49.70" r="1.2" fill="#6675ff"/>
<circle cx="472.00" cy="45.40" r="1.2" fill="#6675ff"/>
<circle cx="479.10" cy="42.50" r="1.2" fill="#6675ff"/>
<circle cx="481.50" cy="49.70" r="1.2" fill="#6675ff"/>
<circle cx="489.30" cy="47.60" r="1.2" fill="#6675ff"/>
<circle cx="492.50" cy="41.20" r="1.2" fill="#6675ff"/>
<circle cx="485.80" cy="39.70" r="1.2" fill="#6675ff"/>
<circle cx="475.30" cy="36.50" r="1.2" fill="#6675ff"/>
<circle cx="486.70" cy="32.30" r="1.2" fill="#6675ff"/>
<circle cx="487.60" cy="26.20" r="1.2" fill="#f46a6a"/>
<circle cx="478.90" cy="29.50" r="1.2" fill="#6675ff"/>
<circle cx="493.40" cy="32.90" r="1.2" fill="#6675ff"/>
<circle cx="494.50" cy="25.40" r="1.2" fill="#6675ff"/>
<circle cx="501.40" cy="26.50" r="1.2" fill="#6675ff"/>
<circle cx="502.30" cy="19.20" r="1.2" fill="#6675ff"/>
<circle cx="508.40" cy="20.60" r="1.2" fill="#6675ff"/>
<circle cx="503.40" cy="12.20" r="1.2" fill="#6675ff"/>
<line x1="631.70" y1="73.80" x2="634.19" y2="75.41" stroke="#7a7a7a" stroke-width="0.9"/>
<line x1="631.70" y1="73.80" x2="629.28" y2="75.56" stroke="#7a7a7a" stroke-width="0.9"/>
<line x1="623.70" y1="66.20" x2="621.04" y2="67.52" stroke="#7a7a7a" stroke-width="0.9"/>
<line x1="623.70" y1="66.20" x2="622.99" y2="63.77" stroke="#7a7a7a" stroke-width="0.9"/>
<line x1="631.10" y1="61.70" x2="629.88" y2="59.07" stroke="#7a7a7a" stroke-width="0.9"/>
<line x1="631.10" y1="61.70" x2="633.42" y2="60.29" stroke="#7a7a7a" stroke-width="0.9"/>
<line x1="633.90" y1="55.00" x2="631.36" y2="55.59" stroke="#7a7a7a" stroke-width="0.9"/>
<line x1="633.90" y1="55.00" x2="632.28" y2="53.18" stroke="#7a7a7a" stroke-width="0.9"/>
<line x1="633.90" y1="55.00" x2="635.25" y2="52.81" stroke="#7a7a7a" stroke-width="0.9"/>
<line x1="637.80" y1="69.00" x2="635.38" y2="68.77" stroke="#7a7a7a" stroke-width="0.9"/>
<line x1="645.60" y1="72.30" x2="647.07" y2="74.70" stroke="#7a7a7a" stroke-width="0.9"/>
<line x1="645.60" y1="72.30" x2="643.19" y2="73.98" stroke="#7a7a7a" stroke-width="0.9"/>
<line x1="653.40" y1="68.20" x2="656.14" y2="68.04" stroke="#7a7a7a" stroke-width="0.9"/>
<line x1="653.40" y1="68.20" x2="654.94" y2="70.59" stroke="#7a7a7a" stroke-width="0.9"/>
<line x1="651.70" y1="59.00" x2="650.33" y2="56.82" stroke="#7a7a7a" stroke-width="0.9"/>
<line x1="644.80" y1="58.20" x2="645.01" y2="60.91" stroke="#7a7a7a" stroke-width="0.9"/>
<line x1="644.20" y1="50.40" x2="641.33" y2="51.13" stroke="#7a7a7a" stroke-width="0.9"/>
<line x1="644.20" y1="50.40" x2="643.63" y2="47.86" stroke="#7a7a7a" stroke-width="0.9"/>
<line x1="651.20" y1="47.20" x2="649.11" y2="45.17" stroke="#7a7a7a" stroke-width="0.9"/>
<line x1="651.20" y1="47.20" x2="653.28" y2="45.22" stroke="#7a7a7a" stroke-width="0.9"/>
<line x1="659.00" y1="55.60" x2="659.99" y2="57.92" stroke="#7a7a7a" stroke-width="0.9"/>
<line x1="666.20" y1="56.20" x2="668.73" y2="57.60" stroke="#7a7a7a" stroke-width="0.9"/>
<line x1="666.20" y1="56.20" x2="665.48" y2="58.98" stroke="#7a7a7a" stroke-width="0.9"/>
<line x1="671.20" y1="50.40" x2="673.44" y2="48.58" stroke="#7a7a7a" stroke-width="0.9"/>
<line x1="671.20" y1="50.40" x2="672.93" y2="52.07" stroke="#7a7a7a" stroke-width="0.9"/>
<line x1="665.70" y1="46.10" x2="667.16" y2="48.63" stroke="#7a7a7a" stroke-width="0.9"/>
<line x1="656.40" y1="42.20" x2="653.84" y2="42.21" stroke="#7a7a7a" stroke-width="0.9"/>
<line x1="656.40" y1="42.20" x2="655.43" y2="39.66" stroke="#7a7a7a" stroke-width="0.9"/>
<line x1="656.40" y1="42.20" x2="658.35" y2="40.35" stroke="#7a7a7a" stroke-width="0.9"/>
<line x1="676.20" y1="40.10" x2="678.55" y2="40.60" stroke="#7a7a7a" stroke-width="0.9"/>
<line x1="663.90" y1="36.70" x2="662.01" y2="38.29" stroke="#7a7a7a" stroke-width="0.9"/>
<line x1="663.90" y1="36.70" x2="661.69" y2="35.67" stroke="#7a7a7a" stroke-width="0.9"/>
<line x1="663.90" y1="36.70" x2="665.01" y2="34.01" stroke="#7a7a7a" stroke-width="0.9"/>
<line x1="668.90" y1="32.30" x2="666.98" y2="34.20" stroke="#7a7a7a" stroke-width="0.9"/>
<line x1="668.90" y1="32.30" x2="667.16" y2="30.38" stroke="#7a7a7a" stroke-width="0.9"/>
<line x1="672.80" y1="25.60" x2="674.44" y2="23.34" stroke="#7a7a7a" stroke-width="0.9"/>
<line x1="672.80" y1="25.60" x2="674.84" y2="27.23" stroke="#7a7a7a" stroke-width="0.9"/>
<line x1="674.20" y1="19.20" x2="672.59" y2="21.24" stroke="#7a7a7a" stroke-width="0.9"/>
<line x1="674.20" y1="19.20" x2="671.89" y2="17.74" stroke="#7a7a7a" stroke-width="0.9"/>
<line x1="677.90" y1="12.80" x2="679.84" y2="14.58" stroke="#7a7a7a" stroke-width="0.9"/>
<line x1="682.30" y1="7.20" x2="680.79" y2="5.20" stroke="#7a7a7a" stroke-width="0.9"/>
<line x1="682.30" y1="7.20" x2="683.87" y2="4.92" stroke="#7a7a7a" stroke-width="0.9"/>
<line x1="682.30" y1="7.20" x2="684.78" y2="8.07" stroke="#7a7a7a" stroke-width="0.9"/>
<line x1="672.30" y1="8.40" x2="669.64" y2="9.18" stroke="#7a7a7a" stroke-width="0.9"/>
<line x1="672.30" y1="8.40" x2="670.18" y2="6.85" stroke="#7a7a7a" stroke-width="0.9"/>
<line x1="672.30" y1="8.40" x2="672.84" y2="5.63" stroke="#7a7a7a" stroke-width="0.9"/>
<line x1="618.30" y1="77.90" x2="625.60" y2="73.80" stroke="#2a2a2a" stroke-width="0.8"/>
<line x1="625.60" y1="73.80" x2="631.70" y2="73.80" stroke="#2a2a2a" stroke-width="0.8"/>
<line x1="631.70" y1="73.80" x2="637.80" y2="69.00" stroke="#2a2a2a" stroke-width="0.8"/>
<line x1="637.80" y1="69.00" x2="637.80" y2="60.80" stroke="#2a2a2a" stroke-width="0.8"/>
<line x1="637.80" y1="60.80" x2="631.10" y2="61.70" stroke="#2a2a2a" stroke-width="0.8"/>
<line x1="631.10" y1="61.70" x2="623.70" y2="66.20" stroke="#2a2a2a" stroke-width="0.8"/>
<line x1="623.70" y1="66.20" x2="625.60" y2="73.80" stroke="#2a2a2a" stroke-width="0.8"/>
<line x1="637.80" y1="69.00" x2="645.60" y2="72.30" stroke="#2a2a2a" stroke-width="0.8"/>
<line x1="645.60" y1="72.30" x2="653.40" y2="68.20" stroke="#2a2a2a" stroke-width="0.8"/>
<line x1="653.40" y1="68.20" x2="651.70" y2="59.00" stroke="#2a2a2a" stroke-width="0.8"/>
<line x1="651.70" y1="59.00" x2="644.80" y2="58.20" stroke="#2a2a2a" stroke-width="0.8"/>
<line x1="644.80" y1="58.20" x2="637.80" y2="60.80" stroke="#2a2a2a" stroke-width="0.8"/>
<line x1="637.80" y1="60.80" x2="633.90" y2="55.00" stroke="#2a2a2a" stroke-width="0.8"/>
<line x1="644.80" y1="58.20" x2="644.20" y2="50.40" stroke="#2a2a2a" stroke-width="0.8"/>
<line x1="644.20" y1="50.40" x2="651.20" y2="47.20" stroke="#2a2a2a" stroke-width="0.8"/>
<line x1="651.20" y1="47.20" x2="657.90" y2="48.10" stroke="#2a2a2a" stroke-width="0.8"/>
<line x1="657.90" y1="48.10" x2="659.00" y2="55.60" stroke="#2a2a2a" stroke-width="0.8"/>
<line x1="659.00" y1="55.60" x2="651.70" y2="59.00" stroke="#2a2a2a" stroke-width="0.8"/>
<line x1="657.90" y1="48.10" x2="656.40" y2="42.20" stroke="#2a2a2a" stroke-width="0.8"/>
<line x1="659.00" y1="55.60" x2="666.20" y2="56.20" stroke="#2a2a2a" stroke-width="0.8"/>
<line x1="666.20" y1="56.20" x2="671.20" y2="50.40" stroke="#2a2a2a" stroke-width="0.8"/>
<line x1="671.20" y1="50.40" x2="665.70" y2="46.10" stroke="#2a2a2a" stroke-width="0.8"/>
<line x1="665.70" y1="46.10" x2="657.90" y2="48.10" stroke="#2a2a2a" stroke-width="0.8"/>
<line x1="665.70" y1="46.10" x2="667.80" y2="39.50" stroke="#2a2a2a" stroke-width="0.8"/>
<line x1="667.80" y1="39.50" x2="663.90" y2="36.70" stroke="#2a2a2a" stroke-width="0.8"/>
<line x1="667.80" y1="39.50" x2="668.90" y2="32.30" stroke="#2a2a2a" stroke-width="0.8"/>
<line x1="668.90" y1="32.30" x2="672.80" y2="25.60" stroke="#2a2a2a" stroke-width="0.8"/>
<line x1="672.80" y1="25.60" x2="674.20" y2="19.20" stroke="#2a2a2a" stroke-width="0.8"/>
<line x1="674.20" y1="19.20" x2="677.90" y2="12.80" stroke="#2a2a2a" stroke-width="0.8"/>
<line x1="677.90" y1="12.80" x2="682.30" y2="7.20" stroke="#2a2a2a" stroke-width="0.8"/>
<line x1="677.90" y1="12.80" x2="672.30" y2="8.40" stroke="#2a2a2a" stroke-width="0.8"/>
<line x1="667.80" y1="39.50" x2="676.20" y2="40.10" stroke="#2a2a2a" stroke-width="0.8"/>
<circle cx="618.30" cy="77.90" r="1.2" fill="#f46a6a"/>
<circle cx="625.60" cy="73.80" r="1.2" fill="#6675ff"/>
<circle cx="631.70" cy="73.80" r="1.2" fill="#6675ff"/>
<circle cx="623.70" cy="66.20" r="1.2" fill="#6675ff"/>
<circle cx="631.10" cy="61.70" r="1.2" fill="#6675ff"/>
<circle cx="637.80" cy="60.80" r="1.2" fill="#6675ff"/>
<circle cx="633.90" cy="55.00" r="1.2" fill="#6675ff"/>
<circle cx="637.80" cy="69.00" r="1.2" fill="#6675ff"/>
<circle cx="645.60" cy="72.30" r="1.2" fill="#6675ff"/>
<circle cx="653.40" cy="68.20" r="1.2" fill="#6675ff"/>
<circle cx="651.70" cy="59.00" r="1.2" fill="#6675ff"/>
<circle cx="644.80" cy="58.20" r="1.2" fill="#6675ff"/>
<circle cx="644.20" cy="50.40" r="1.2" fill="#6675ff"/>
<circle cx="651.20" cy="47.20" r="1.2" fill="#6675ff"/>
<circle cx="657.90" cy="48.10" r="1.2" fill="#6675ff"/>
<circle cx="659.00" cy="55.60" r="1.2" fill="#6675ff"/>
<circle cx="666.20" cy="56.20" r="1.2" fill="#6675ff"/>
<circle cx="671.20" cy="50.40" r="1.2" fill="#6675ff"/>
<circle cx="665.70" cy="46.10" r="1.2" fill="#6675ff"/>
<circle cx="656.40" cy="42.20" r="1.2" fill="#6675ff"/>
<circle cx="667.80" cy="39.50" r="1.2" fill="#6675ff"/>
<circle cx="676.20" cy="40.10" r="1.2" fill="#f46a6a"/>
<circle cx="663.90" cy="36.70" r="1.2" fill="#6675ff"/>
<circle cx="668.90" cy="32.30" r="1.2" fill="#6675ff"/>
<circle cx="672.80" cy="25.60" r="1.2" fill="#6675ff"/>
<circle cx="674.20" cy="19.20" r="1.2" fill="#6675ff"/>
<circle cx="677.90" cy="12.80" r="1.2" fill="#6675ff"/>
<circle cx="682.30" cy="7.20" r="1.2" fill="#6675ff"/>
<circle cx="672.30" cy="8.40" r="1.2" fill="#6675ff"/>
<text x="50.40" y="91.80" font-size="7.6" font-weight="normal" fill="#111" stroke="#111" stroke-width="0.22" text-anchor="start" >20S-HCO</text>
<text x="144.20" y="92.00" font-size="7.6" font-weight="normal" fill="#111" stroke="#111" stroke-width="0.22" text-anchor="start" >20R-HCO</text>
<text x="254.70" y="92.00" font-size="7.6" font-weight="normal" fill="#111" stroke="#111" stroke-width="0.22" text-anchor="start" >22R-HCO</text>
<text x="48.20" y="194.00" font-size="7.6" font-weight="normal" fill="#111" stroke="#111" stroke-width="0.22" text-anchor="start" >22S-HCO</text>
<text x="242.50" y="193.40" font-size="7.6" font-weight="normal" fill="#111" stroke="#111" stroke-width="0.22" text-anchor="start" >20R, 22R-DHCO</text>
<text x="365.40" y="99.90" font-size="7.6" font-weight="normal" fill="#111" stroke="#111" stroke-width="0.22" text-anchor="start" >20S-HC</text>
<text x="539.70" y="100.60" font-size="7.6" font-weight="normal" fill="#111" stroke="#111" stroke-width="0.22" text-anchor="start" >20R-HC</text>
<text x="369.00" y="197.80" font-size="7.6" font-weight="normal" fill="#111" stroke="#111" stroke-width="0.22" text-anchor="start" >22S-HC</text>
<text x="491.70" y="197.80" font-size="7.6" font-weight="normal" fill="#111" stroke="#111" stroke-width="0.22" text-anchor="start" >22R-HC</text>
<text x="617.70" y="197.50" font-size="7.6" font-weight="normal" fill="#111" stroke="#111" stroke-width="0.22" text-anchor="start" >20R, 22R-DHC</text>
<text x="135.20" y="189.20" font-size="7.6" font-weight="normal" fill="#111" stroke="#111" stroke-width="0.22" text-anchor="start" >X ray structure</text>
<text x="437.90" y="95.10" font-size="7.6" font-weight="normal" fill="#111" stroke="#111" stroke-width="0.22" text-anchor="start" >X ray structure</text>
<text x="618.70" y="95.30" font-size="7.6" font-weight="normal" fill="#111" stroke="#111" stroke-width="0.22" text-anchor="start" >X ray structure</text>
<text x="130.50" y="200.30" font-size="7.6" font-weight="bold" fill="#111" stroke="#111" stroke-width="0.22" text-anchor="start" >(CCDC 2414994)</text>
<text x="433.30" y="106.60" font-size="7.6" font-weight="bold" fill="#111" stroke="#111" stroke-width="0.22" text-anchor="start" >(CCDC 2415099)</text>
<text x="614.70" y="106.60" font-size="7.6" font-weight="bold" fill="#111" stroke="#111" stroke-width="0.22" text-anchor="start" >(CCDC 2414991)</text>
<text x="-0.60" y="18.00" font-size="15" font-weight="bold" fill="#111" stroke="#111" stroke-width="0.22" text-anchor="start" >a</text>
<text x="-1.00" y="257.00" font-size="15" font-weight="bold" fill="#111" stroke="#111" stroke-width="0.22" text-anchor="start" >b</text>
<text x="334.40" y="18.00" font-size="15" font-weight="bold" fill="#111" stroke="#111" stroke-width="0.22" text-anchor="start" >c</text>
<text x="334.00" y="258.00" font-size="15" font-weight="bold" fill="#111" stroke="#111" stroke-width="0.22" text-anchor="start" >d</text>
<line x1="325.1" y1="24.7" x2="325.1" y2="436.6" stroke="#aaa" stroke-width="1.2" stroke-dasharray="5.3 3.8"/>
<line x1="63.2" y1="299.8" x2="63.2" y2="425.4" stroke="#d8303a" stroke-width="1.0" stroke-dasharray="3.6 3.2"/>
<line x1="89.2" y1="283.0" x2="89.2" y2="425.8" stroke="#d8303a" stroke-width="1.0" stroke-dasharray="3.6 3.2"/>
<line x1="108.9" y1="298.3" x2="108.9" y2="427.6" stroke="#d8303a" stroke-width="1.0" stroke-dasharray="3.6 3.2"/>
<line x1="125.6" y1="309.0" x2="125.6" y2="427.0" stroke="#d8303a" stroke-width="1.0" stroke-dasharray="3.6 3.2"/>
<path d="M31.00,312.80 31.50,312.81 31.75,312.81 32.00,312.81 32.25,312.81 32.50,312.82 32.75,312.82 33.00,312.82 33.25,312.82 33.50,312.83 33.75,312.83 34.00,312.83 34.25,312.84 34.50,312.84 34.75,312.84 35.00,312.84 35.25,312.85 35.50,312.85 35.75,312.85 36.00,312.86 36.25,312.86 36.50,312.86 36.75,312.86 37.00,312.87 37.25,312.87 37.50,312.87 37.75,312.88 38.00,312.88 38.25,312.88 38.50,312.88 38.75,312.89 39.00,312.89 39.25,312.89 39.50,312.89 39.75,312.90 40.00,312.90 40.25,312.90 40.50,312.91 40.75,312.91 41.00,312.90 41.25,312.89 41.50,312.86 41.75,312.78 42.00,312.61 42.25,312.33 42.50,311.92 42.75,311.44 43.00,310.98 43.25,310.69 43.50,310.65 43.75,310.73 44.00,310.84 44.25,310.99 44.50,311.17 44.75,311.36 45.00,311.57 45.25,311.77 45.50,311.96 45.75,312.14 46.00,312.30 46.25,312.44 46.50,312.55 46.75,312.64 47.00,312.72 47.25,312.78 47.50,312.82 47.75,312.86 48.00,312.88 48.25,312.90 48.50,312.92 48.75,312.93 49.00,312.94 49.25,312.95 49.50,312.96 49.75,312.97 50.00,312.97 50.25,312.98 50.50,312.98 50.75,312.99 51.00,312.99 51.25,313.00 51.50,313.00 51.75,313.01 52.00,313.01 52.25,313.02 52.50,313.02 52.75,313.03 53.00,313.03 53.25,313.03 53.50,313.04 53.75,313.04 54.00,313.05 54.25,313.05 54.50,313.05 54.75,313.06 55.00,313.06 55.25,313.06 55.50,313.07 55.75,313.07 56.00,313.07 56.25,313.08 56.50,313.08 56.75,313.08 57.00,313.09 57.25,313.09 57.50,313.09 57.75,313.09 58.00,313.10 58.25,313.10 58.50,313.10 58.75,313.11 59.00,313.11 59.25,313.11 59.50,313.12 59.75,313.12 60.00,313.12 60.25,313.12 60.50,313.12 60.75,313.10 61.00,313.04 61.25,312.89 61.50,312.57 61.75,312.00 62.00,311.13 62.25,309.99 62.50,308.81 62.75,307.90 63.00,307.56 63.25,307.68 63.50,307.92 63.75,308.24 64.00,308.65 64.25,309.11 64.50,309.60 64.75,310.09 65.00,310.57 65.25,311.01 65.50,311.41 65.75,311.76 66.00,312.06 66.25,312.30 66.50,312.50 66.75,312.65 67.00,312.77 67.25,312.86 67.50,312.93 67.75,312.98 68.00,313.02 68.25,313.05 68.50,313.07 68.75,313.09 69.00,313.10 69.25,313.12 69.50,313.13 69.75,313.14 70.00,313.15 70.25,313.16 70.50,313.17 70.75,313.18 71.00,313.19 71.25,313.19 71.50,313.20 71.75,313.21 72.00,313.21 72.25,313.22 72.50,313.23 72.75,313.23 73.00,313.24 73.25,313.24 73.50,313.25 73.75,313.25 74.00,313.26 74.25,313.26 74.50,313.27 74.75,313.27 75.00,313.27 75.50,313.28 76.00,313.29 76.50,313.30 77.00,313.30 77.25,313.31 77.50,313.31 77.75,313.31 78.00,313.32 78.25,313.32 78.50,313.32 78.75,313.33 79.00,313.33 79.25,313.33 79.50,313.34 79.75,313.34 80.00,313.34 80.25,313.34 80.50,313.35 80.75,313.35 81.00,313.35 81.25,313.36 81.50,313.36 81.75,313.36 82.00,313.37 82.25,313.37 82.50,313.37 82.75,313.37 83.00,313.38 83.25,313.38 83.50,313.38 83.75,313.39 84.00,313.39 84.25,313.39 84.50,313.39 84.75,313.40 85.00,313.40 85.25,313.40 85.50,313.41 85.75,313.41 86.00,313.41 86.25,313.40 86.50,313.38 86.75,313.32 87.00,313.13 87.25,312.70 87.50,311.86 87.75,310.42 88.00,308.36 88.25,305.90 88.50,303.59 88.75,302.10 89.00,301.92 89.25,302.22 89.50,302.70 89.75,303.32 90.00,304.07 90.25,304.91 90.50,305.80 90.75,306.71 91.00,307.61 91.25,308.47 91.50,309.27 91.75,309.99 92.00,310.62 92.25,311.17 92.50,311.62 92.75,312.00 93.00,312.31 93.25,312.55 93.50,312.74 93.75,312.89 94.00,313.00 94.25,313.09 94.50,313.16 94.75,313.21 95.00,313.25 95.25,313.28 95.50,313.31 95.75,313.33 96.00,313.35 96.25,313.37 96.50,313.39 96.75,313.40 97.00,313.42 97.25,313.43 97.50,313.44 97.75,313.45 98.00,313.46 98.25,313.47 98.50,313.48 98.75,313.49 99.00,313.50 99.25,313.50 99.50,313.51 99.75,313.52 100.00,313.52 100.25,313.53 100.50,313.54 100.75,313.54 101.00,313.55 101.25,313.55 101.50,313.56 101.75,313.56 102.00,313.57 102.25,313.57 102.50,313.58 102.75,313.58 103.00,313.58 103.25,313.59 103.50,313.59 103.75,313.60 104.00,313.60 104.25,313.60 104.50,313.61 104.75,313.61 105.00,313.61 105.25,313.62 105.50,313.62 105.75,313.62 106.00,313.62 106.25,313.60 106.50,313.53 106.75,313.35 107.00,312.94 107.25,312.15 107.50,310.85 107.75,309.06 108.00,307.00 108.25,305.18 108.50,304.16 108.75,304.16 109.00,304.42 109.25,304.81 109.50,305.31 109.75,305.90 110.00,306.55 110.25,307.25 110.50,307.97 110.75,308.68 111.00,309.37 111.25,310.01 111.50,310.60 111.75,311.13 112.00,311.59 112.25,311.99 112.50,312.32 112.75,312.60 113.00,312.82 113.25,313.00 113.50,313.14 113.75,313.25 114.00,313.34 114.25,313.41 114.50,313.46 114.75,313.50 115.00,313.53 115.25,313.56 115.50,313.58 115.75,313.60 116.00,313.62 116.25,313.63 116.50,313.64 116.75,313.66 117.00,313.67 117.25,313.68 117.50,313.69 117.75,313.70 118.00,313.70 118.25,313.71 118.50,313.72 118.75,313.73 119.00,313.73 119.25,313.74 119.50,313.75 119.75,313.75 120.00,313.76 120.25,313.76 120.50,313.77 120.75,313.77 121.25,313.78 121.75,313.79 122.25,313.80 122.75,313.81 123.25,313.81 123.75,313.82 124.25,313.83 124.75,313.84 125.25,313.84 125.75,313.85 126.25,313.85 126.75,313.86 127.25,313.87 127.75,313.87 128.25,313.88 128.75,313.88 129.25,313.89 129.75,313.90 130.25,313.90 130.75,313.90 131.25,313.91 131.75,313.91 132.25,313.92 132.75,313.92 133.25,313.92 133.75,313.93 134.25,313.93 134.75,313.93 135.25,313.94 135.75,313.94 136.25,313.94 136.75,313.95 137.25,313.95 137.75,313.95 138.25,313.96 138.75,313.96 139.25,313.96 139.75,313.97 140.25,313.97 140.75,313.98 141.25,313.98 141.75,313.98 142.25,313.99 142.75,313.99 143.25,313.99 143.75,314.00 144.25,314.00 144.75,314.00 145.25,314.01 145.75,314.01 146.25,314.01 146.75,314.02 147.25,314.02 147.75,314.02 148.25,314.03 148.75,314.03 149.25,314.03 149.75,314.04 150.25,314.04 150.75,314.05 151.25,314.05 151.75,314.05 152.25,314.06 152.75,314.06 153.25,314.06 153.75,314.07 154.25,314.07 154.75,314.07 155.25,314.08 155.75,314.08 156.25,314.08 156.75,314.09 157.25,314.09 157.75,314.09 158.25,314.10 158.75,314.10 159.25,314.10 159.75,314.11 160.25,314.11 160.75,314.12 161.25,314.12 161.75,314.12 162.25,314.13 162.75,314.13 163.25,314.13 163.75,314.14 164.25,314.14 164.75,314.14 165.25,314.15 165.75,314.15 166.25,314.15 166.75,314.16 167.25,314.16 167.75,314.16 168.25,314.17 168.75,314.17 169.25,314.17 169.75,314.18 170.25,314.18 170.75,314.19 171.25,314.19 171.75,314.19 172.25,314.20 172.75,314.20 173.25,314.20 173.75,314.21 174.25,314.21 174.75,314.21 175.25,314.22 175.75,314.22 176.25,314.22 176.75,314.23 177.25,314.23 177.75,314.23 178.25,314.24 178.75,314.24 179.25,314.24 179.75,314.25 180.25,314.25 180.75,314.26 181.25,314.26 181.75,314.26 182.25,314.27 182.75,314.27 183.25,314.27 183.75,314.28 184.25,314.28 184.75,314.28 185.25,314.29 185.75,314.29 186.25,314.29 186.75,314.30 187.25,314.30 187.75,314.30 188.25,314.31 188.75,314.31 189.25,314.31 189.75,314.32 190.25,314.32 190.75,314.33 191.25,314.33 191.75,314.33 192.25,314.34 192.75,314.34 193.25,314.34 193.75,314.35 194.25,314.35 194.75,314.35 195.25,314.36 195.75,314.36 196.25,314.36 196.75,314.37 197.25,314.37 197.75,314.37 198.25,314.38 198.75,314.38 199.25,314.38 199.75,314.39 200.25,314.39 200.75,314.40 201.25,314.40 201.75,314.40 202.25,314.41 202.75,314.41 203.25,314.41 203.75,314.42 204.25,314.42 204.75,314.42 205.25,314.43 205.75,314.43 206.25,314.43 206.75,314.44 207.25,314.44 207.75,314.44 208.25,314.45 208.75,314.45 209.25,314.45 209.75,314.46 210.25,314.46 210.75,314.47 211.25,314.47 211.75,314.47 212.25,314.48 212.75,314.48 213.25,314.48 213.75,314.49 214.25,314.49 214.75,314.49 215.25,314.50 215.75,314.50 216.25,314.50 216.75,314.51 217.25,314.51 217.75,314.51 218.25,314.52 218.75,314.52 219.25,314.52 219.75,314.53 220.25,314.53 220.75,314.54 221.25,314.54 221.75,314.54 222.25,314.55 222.75,314.55 223.25,314.55 223.75,314.56 224.25,314.56 224.75,314.56 225.25,314.57 225.75,314.57 226.25,314.57 226.75,314.58 227.25,314.58 227.75,314.58 228.25,314.59 228.75,314.59 229.25,314.59 229.75,314.60 230.25,314.60 230.75,314.60 231.25,314.60 231.75,314.60 232.25,314.60 232.75,314.60 233.25,314.60 233.75,314.60 234.25,314.60 234.75,314.60 235.25,314.60 235.75,314.60 236.25,314.60 236.75,314.60 237.25,314.60 237.75,314.60 238.25,314.60 238.75,314.60 239.25,314.60 239.75,314.60 240.25,314.60 240.75,314.60 241.25,314.60 241.75,314.60 242.25,314.60 242.75,314.60 243.25,314.60 243.75,314.60 244.25,314.60 244.75,314.60 245.25,314.60 245.75,314.60 246.25,314.60 246.75,314.60 247.25,314.60 247.75,314.60 248.25,314.60 248.75,314.60 249.25,314.60 249.75,314.60 250.25,314.60 250.75,314.60 251.25,314.60 251.75,314.60 252.25,314.60 252.75,314.60 253.25,314.60 253.75,314.60 254.25,314.60 254.75,314.60 255.25,314.60 255.75,314.60 256.25,314.60 256.75,314.60 257.25,314.60 257.75,314.60 258.25,314.60 258.75,314.60 259.25,314.60 259.75,314.60 260.25,314.60 260.75,314.60 261.25,314.60 261.75,314.60 262.25,314.60 262.75,314.60 263.25,314.60 263.75,314.60 264.25,314.60 264.75,314.60 265.25,314.60 265.75,314.60 266.25,314.60 266.75,314.60 267.25,314.60 267.75,314.60 268.25,314.60 268.75,314.60 269.25,314.60 269.75,314.60 270.25,314.60 270.75,314.60 271.25,314.60 271.75,314.60 272.25,314.60 272.75,314.60 273.25,314.60 273.75,314.60 274.25,314.60 274.75,314.60 275.25,314.60 275.75,314.60 276.25,314.60 276.75,314.60 277.25,314.60 277.75,314.60 278.25,314.60 278.75,314.60 279.25,314.60 279.75,314.60 280.25,314.60 280.75,314.60 281.25,314.60 281.75,314.60 282.25,314.60 282.75,314.60 283.25,314.60 283.75,314.60 284.25,314.60 284.75,314.60 285.25,314.60 285.75,314.60 286.25,314.60 286.75,314.60 287.25,314.60 287.75,314.60 288.25,314.60 288.75,314.60 289.25,314.60 289.75,314.60 290.25,314.60 290.75,314.60 291.25,314.60 291.75,314.60 292.25,314.60 292.75,314.60 293.25,314.60 293.75,314.60 294.25,314.60 294.75,314.60 295.25,314.60 295.75,314.60 296.25,314.60 296.75,314.60 297.25,314.60 297.75,314.60 298.25,314.60 298.75,314.60 299.25,314.60 299.75,314.60 300.25,314.60 300.75,314.60 301.25,314.60 301.75,314.60" fill="none" stroke="#111" stroke-width="1.2" stroke-linejoin="round"/>
<path d="M31.00,335.20 31.50,335.22 31.75,335.22 32.00,335.23 32.25,335.24 32.50,335.25 32.75,335.25 33.00,335.26 33.25,335.27 33.50,335.28 33.75,335.28 34.00,335.29 34.25,335.30 34.50,335.31 34.75,335.31 35.00,335.32 35.25,335.33 35.50,335.34 35.75,335.34 36.00,335.35 36.25,335.36 36.50,335.37 36.75,335.37 37.00,335.38 37.25,335.39 37.50,335.40 37.75,335.40 38.00,335.41 38.25,335.42 38.50,335.43 38.75,335.43 39.00,335.44 39.25,335.45 39.50,335.46 39.75,335.47 40.00,335.47 40.25,335.48 40.50,335.49 40.75,335.49 41.00,335.49 41.25,335.47 41.50,335.39 41.75,335.17 42.00,334.65 42.25,333.66 42.50,332.10 42.75,330.10 43.00,328.12 43.25,326.81 43.50,326.64 43.75,326.97 44.00,327.51 44.25,328.22 44.50,329.06 44.75,329.95 45.00,330.85 45.25,331.71 45.50,332.49 45.75,333.16 46.00,333.72 46.25,334.18 46.50,334.53 46.75,334.80 47.00,335.00 47.25,335.14 47.50,335.25 47.75,335.33 48.00,335.39 48.25,335.44 48.50,335.47 48.75,335.51 49.00,335.53 49.25,335.56 49.50,335.58 49.75,335.61 50.00,335.63 50.25,335.65 50.50,335.66 50.75,335.68 51.00,335.70 51.25,335.72 51.50,335.73 51.75,335.75 52.00,335.76 52.25,335.77 52.50,335.79 52.75,335.80 53.00,335.81 53.25,335.82 53.50,335.84 53.75,335.85 54.00,335.86 54.25,335.87 54.50,335.88 54.75,335.89 55.00,335.90 55.25,335.91 55.50,335.92 56.00,335.94 56.50,335.96 57.00,335.97 57.50,335.99 58.00,336.01 58.50,336.02 59.00,336.04 59.50,336.06 60.00,336.07 60.50,336.09 60.75,336.10 61.00,336.11 61.25,336.11 61.50,336.12 61.75,336.13 62.00,336.14 62.25,336.14 62.50,336.15 62.75,336.16 63.00,336.17 63.25,336.18 63.50,336.18 63.75,336.19 64.00,336.20 64.25,336.21 64.50,336.21 64.75,336.22 65.00,336.23 65.25,336.24 65.50,336.24 65.75,336.25 66.00,336.26 66.25,336.27 66.50,336.28 66.75,336.28 67.00,336.29 67.25,336.30 67.50,336.31 67.75,336.31 68.00,336.32 68.25,336.33 68.50,336.34 68.75,336.34 69.00,336.35 69.25,336.35 69.50,336.35 69.75,336.35 70.00,336.33 70.25,336.30 70.50,336.26 70.75,336.19 71.00,336.11 71.25,336.02 71.50,335.92 71.75,335.83 72.00,335.77 72.25,335.75 72.50,335.77 72.75,335.79 73.00,335.83 73.25,335.87 73.50,335.92 73.75,335.97 74.00,336.03 74.25,336.09 74.50,336.14 74.75,336.20 75.00,336.25 75.25,336.30 75.50,336.35 75.75,336.39 76.00,336.43 76.25,336.46 76.50,336.49 76.75,336.51 77.00,336.53 77.25,336.55 77.50,336.57 77.75,336.59 78.00,336.60 78.25,336.61 78.50,336.62 78.75,336.63 79.00,336.64 79.25,336.65 79.50,336.66 79.75,336.67 80.00,336.68 80.25,336.68 80.50,336.69 80.75,336.70 81.00,336.71 81.25,336.72 81.50,336.73 81.75,336.73 82.00,336.74 82.25,336.75 82.50,336.76 82.75,336.76 83.00,336.77 83.25,336.78 83.50,336.79 83.75,336.80 84.00,336.80 84.25,336.81 84.50,336.82 85.00,336.83 85.50,336.85 86.00,336.87 86.50,336.88 87.00,336.90 87.50,336.91 88.00,336.93 88.50,336.94 89.00,336.96 89.50,336.97 90.00,336.99 90.50,337.00 91.00,337.02 91.50,337.03 92.00,337.05 92.50,337.06 93.00,337.08 93.50,337.09 94.00,337.11 94.50,337.12 95.00,337.14 95.50,337.15 96.00,337.17 96.50,337.18 97.00,337.20 97.50,337.22 98.00,337.23 98.50,337.25 99.00,337.26 99.50,337.28 100.00,337.29 100.50,337.31 101.00,337.32 101.50,337.34 102.00,337.35 102.50,337.37 103.00,337.38 103.50,337.40 104.00,337.41 104.50,337.43 105.00,337.44 105.50,337.46 106.00,337.47 106.50,337.49 107.00,337.50 107.50,337.52 108.00,337.53 108.50,337.55 109.00,337.56 109.50,337.58 109.75,337.59 110.00,337.59 110.25,337.60 110.50,337.61 110.75,337.62 111.00,337.62 111.25,337.63 111.50,337.64 111.75,337.65 112.00,337.65 112.25,337.66 112.50,337.67 112.75,337.68 113.00,337.68 113.25,337.69 113.50,337.70 113.75,337.71 114.00,337.72 114.25,337.72 114.50,337.73 114.75,337.74 115.00,337.75 115.25,337.75 115.50,337.76 115.75,337.77 116.00,337.78 116.25,337.78 116.50,337.79 116.75,337.80 117.00,337.81 117.25,337.81 117.50,337.82 117.75,337.83 118.00,337.83 118.25,337.83 118.50,337.81 118.75,337.76 119.00,337.65 119.25,337.42 119.50,337.02 119.75,336.41 120.00,335.61 120.25,334.68 120.50,333.80 120.75,333.16 121.00,332.93 121.25,333.04 121.50,333.22 121.75,333.47 122.00,333.78 122.25,334.13 122.50,334.51 122.75,334.91 123.00,335.31 123.25,335.70 123.50,336.06 123.75,336.39 124.00,336.68 124.25,336.94 124.50,337.16 124.75,337.34 125.00,337.49 125.25,337.61 125.50,337.71 125.75,337.79 126.00,337.85 126.25,337.90 126.50,337.93 126.75,337.97 127.00,337.99 127.25,338.01 127.50,338.03 127.75,338.05 128.00,338.06 128.25,338.08 128.50,338.09 128.75,338.11 129.00,338.12 129.25,338.13 129.50,338.14 129.75,338.15 130.00,338.16 130.25,338.17 130.50,338.17 130.75,338.18 131.00,338.19 131.25,338.19 131.50,338.20 131.75,338.20 132.00,338.20 132.25,338.21 132.50,338.21 132.75,338.22 133.00,338.22 133.50,338.23 134.00,338.24 134.50,338.25 135.00,338.25 135.50,338.26 136.00,338.27 136.50,338.27 137.00,338.28 137.50,338.29 138.00,338.29 138.50,338.30 139.00,338.31 139.50,338.31 140.00,338.32 140.50,338.32 141.00,338.33 141.50,338.34 142.00,338.34 142.50,338.35 143.00,338.36 143.50,338.36 144.00,338.37 144.50,338.37 145.00,338.38 145.50,338.39 146.00,338.39 146.50,338.40 147.00,338.40 147.50,338.41 148.00,338.42 148.50,338.42 149.00,338.43 149.50,338.43 150.00,338.44 150.50,338.45 151.00,338.45 151.50,338.46 152.00,338.46 152.50,338.47 153.00,338.48 153.50,338.48 154.00,338.49 154.50,338.49 155.00,338.50 155.50,338.51 156.00,338.51 156.50,338.52 157.00,338.52 157.50,338.53 158.00,338.54 158.50,338.54 159.00,338.55 159.50,338.55 160.00,338.56 160.50,338.57 161.00,338.57 161.50,338.58 162.00,338.58 162.50,338.59 163.00,338.60 163.50,338.60 164.00,338.61 164.50,338.61 165.00,338.62 165.50,338.63 166.00,338.63 166.50,338.64 167.00,338.64 167.50,338.65 168.00,338.66 168.50,338.66 169.00,338.67 169.50,338.67 170.00,338.68 170.50,338.69 171.00,338.69 171.50,338.70 172.00,338.70 172.50,338.71 173.00,338.72 173.50,338.72 174.00,338.73 174.50,338.73 175.00,338.74 175.50,338.75 176.00,338.75 176.50,338.76 177.00,338.76 177.50,338.77 178.00,338.78 178.50,338.78 179.00,338.79 179.50,338.79 180.00,338.80 180.50,338.81 181.00,338.81 181.50,338.82 182.00,338.82 182.50,338.83 183.00,338.84 183.50,338.84 184.00,338.85 184.50,338.85 185.00,338.86 185.50,338.87 186.00,338.87 186.50,338.88 187.00,338.88 187.50,338.89 188.00,338.90 188.50,338.90 189.00,338.91 189.50,338.91 190.00,338.92 190.50,338.93 191.00,338.93 191.50,338.94 192.00,338.94 192.50,338.95 193.00,338.96 193.50,338.96 194.00,338.97 194.50,338.97 195.00,338.98 195.50,338.99 196.00,338.99 196.50,339.00 197.00,339.00 197.50,339.01 198.00,339.02 198.50,339.02 199.00,339.03 199.50,339.03 200.00,339.04 200.50,339.05 201.00,339.05 201.50,339.06 202.00,339.06 202.50,339.07 203.00,339.08 203.50,339.08 204.00,339.09 204.50,339.09 205.00,339.10 205.50,339.11 206.00,339.11 206.50,339.12 207.00,339.12 207.50,339.13 208.00,339.14 208.50,339.14 209.00,339.15 209.50,339.15 210.00,339.16 210.50,339.17 211.00,339.17 211.50,339.18 212.00,339.18 212.50,339.19 213.00,339.20 213.50,339.20 214.00,339.21 214.50,339.21 215.00,339.22 215.50,339.23 216.00,339.23 216.50,339.24 217.00,339.24 217.50,339.25 218.00,339.26 218.50,339.26 219.00,339.27 219.50,339.27 220.00,339.28 220.50,339.29 221.00,339.29 221.50,339.30 222.00,339.30 222.50,339.31 223.00,339.32 223.50,339.32 224.00,339.33 224.50,339.33 225.00,339.34 225.50,339.35 226.00,339.35 226.50,339.36 227.00,339.36 227.50,339.37 228.00,339.38 228.50,339.38 229.00,339.39 229.50,339.39 230.00,339.40 230.50,339.40 231.00,339.40 231.50,339.40 232.00,339.41 232.50,339.41 233.00,339.41 233.50,339.41 234.00,339.41 234.50,339.41 235.00,339.41 235.50,339.42 236.00,339.42 236.50,339.42 237.00,339.42 237.50,339.42 238.00,339.42 238.50,339.42 239.00,339.42 239.50,339.43 240.00,339.43 240.50,339.43 241.00,339.43 241.50,339.43 242.00,339.43 242.50,339.43 243.00,339.44 243.50,339.44 244.00,339.44 244.50,339.44 245.00,339.44 245.50,339.44 246.00,339.44 246.50,339.45 247.00,339.45 247.50,339.45 248.00,339.45 248.50,339.45 249.00,339.45 249.50,339.45 250.00,339.46 250.50,339.46 251.00,339.46 251.50,339.46 252.00,339.46 252.50,339.46 253.00,339.46 253.50,339.47 254.00,339.47 254.50,339.47 255.00,339.47 255.50,339.47 256.00,339.47 256.50,339.47 257.00,339.48 257.50,339.48 258.00,339.48 258.50,339.48 259.00,339.48 259.50,339.48 260.00,339.48 260.50,339.48 261.00,339.49 261.50,339.49 262.00,339.49 262.50,339.49 263.00,339.49 263.50,339.49 264.00,339.49 264.50,339.50 265.00,339.50 265.50,339.50 266.00,339.50 266.50,339.50 267.00,339.50 267.50,339.50 268.00,339.51 268.50,339.51 269.00,339.51 269.50,339.51 270.00,339.51 270.50,339.51 271.00,339.51 271.50,339.52 272.00,339.52 272.50,339.52 273.00,339.52 273.50,339.52 274.00,339.52 274.50,339.52 275.00,339.52 275.50,339.53 276.00,339.53 276.50,339.53 277.00,339.53 277.50,339.53 278.00,339.53 278.50,339.53 279.00,339.54 279.50,339.54 280.00,339.54 280.50,339.54 281.00,339.54 281.50,339.54 282.00,339.54 282.50,339.55 283.00,339.55 283.50,339.55 284.00,339.55 284.50,339.55 285.00,339.55 285.50,339.55 286.00,339.56 286.50,339.56 287.00,339.56 287.50,339.56 288.00,339.56 288.50,339.56 289.00,339.56 289.50,339.57 290.00,339.57 290.50,339.57 291.00,339.57 291.50,339.57 292.00,339.57 292.50,339.57 293.00,339.58 293.50,339.58 294.00,339.58 294.50,339.58 295.00,339.58 295.50,339.58 296.00,339.58 296.50,339.58 297.00,339.59 297.50,339.59 298.00,339.59 298.50,339.59 299.00,339.59 299.50,339.59 300.00,339.59 300.50,339.60 301.00,339.60 301.50,339.60 302.00,339.60" fill="none" stroke="#111" stroke-width="1.2" stroke-linejoin="round"/>
<path d="M31.00,367.60 31.50,367.60 31.75,367.61 32.00,367.61 32.25,367.61 32.50,367.61 32.75,367.61 33.00,367.62 33.25,367.62 33.50,367.62 33.75,367.62 34.00,367.62 34.25,367.63 34.50,367.63 34.75,367.63 35.00,367.63 35.25,367.63 35.50,367.64 35.75,367.64 36.00,367.64 36.25,367.64 36.50,367.64 36.75,367.65 37.00,367.65 37.25,367.65 37.50,367.65 37.75,367.65 38.00,367.66 38.25,367.66 38.50,367.66 38.75,367.66 39.00,367.66 39.25,367.66 39.50,367.67 39.75,367.67 40.00,367.67 40.25,367.67 40.50,367.67 40.75,367.68 41.00,367.67 41.25,367.67 41.50,367.64 41.75,367.58 42.00,367.46 42.25,367.25 42.50,366.95 42.75,366.59 43.00,366.25 43.25,366.03 43.50,366.01 43.75,366.07 44.00,366.16 44.25,366.28 44.50,366.43 44.75,366.58 45.00,366.74 45.25,366.90 45.50,367.05 45.75,367.18 46.00,367.29 46.25,367.38 46.50,367.46 46.75,367.52 47.00,367.57 47.25,367.60 47.50,367.63 47.75,367.65 48.00,367.67 48.25,367.68 48.50,367.69 48.75,367.69 49.00,367.70 49.25,367.71 49.50,367.71 49.75,367.72 50.00,367.72 50.25,367.73 50.50,367.73 50.75,367.73 51.00,367.74 51.25,367.74 51.50,367.74 51.75,367.75 52.00,367.75 52.25,367.75 52.50,367.76 52.75,367.76 53.00,367.76 53.25,367.77 53.50,367.77 53.75,367.77 54.00,367.77 54.25,367.78 54.50,367.78 54.75,367.78 55.00,367.78 55.25,367.79 55.50,367.79 56.00,367.79 56.50,367.80 57.00,367.80 57.50,367.81 58.00,367.81 58.50,367.81 59.00,367.82 59.50,367.82 60.00,367.83 60.50,367.83 61.00,367.84 61.50,367.84 62.00,367.84 62.50,367.85 63.00,367.85 63.50,367.86 64.00,367.86 64.50,367.86 65.00,367.87 65.50,367.87 66.00,367.88 66.50,367.88 67.00,367.88 67.50,367.89 68.00,367.89 68.50,367.89 69.00,367.90 69.50,367.90 70.00,367.91 70.50,367.91 71.00,367.91 71.50,367.92 72.00,367.92 72.50,367.93 73.00,367.93 73.50,367.93 74.00,367.94 74.50,367.94 75.00,367.95 75.50,367.95 76.00,367.95 76.50,367.96 77.00,367.96 77.50,367.97 78.00,367.97 78.50,367.97 79.00,367.98 79.50,367.98 80.00,367.99 80.50,367.99 81.00,367.99 81.50,368.00 82.00,368.00 82.50,368.01 83.00,368.01 83.50,368.01 84.00,368.02 84.50,368.02 85.00,368.02 85.50,368.03 86.00,368.03 86.50,368.04 87.00,368.04 87.50,368.04 88.00,368.05 88.50,368.05 89.00,368.06 89.50,368.06 90.00,368.06 90.50,368.07 91.00,368.07 91.50,368.08 92.00,368.08 92.50,368.08 93.00,368.09 93.50,368.09 94.00,368.10 94.50,368.10 95.00,368.10 95.50,368.11 96.00,368.11 96.50,368.12 97.00,368.12 97.50,368.12 98.00,368.13 98.50,368.13 99.00,368.13 99.50,368.14 100.00,368.14 100.50,368.15 101.00,368.15 101.50,368.15 102.00,368.16 102.50,368.16 103.00,368.17 103.50,368.17 104.00,368.17 104.50,368.18 105.00,368.18 105.50,368.19 106.00,368.19 106.50,368.19 107.00,368.20 107.50,368.20 108.00,368.21 108.50,368.21 109.00,368.21 109.50,368.22 110.00,368.22 110.50,368.23 111.00,368.23 111.50,368.23 112.00,368.24 112.50,368.24 113.00,368.24 113.50,368.25 114.00,368.25 114.50,368.26 114.75,368.26 115.00,368.26 115.25,368.26 115.50,368.26 115.75,368.27 116.00,368.27 116.25,368.27 116.50,368.27 116.75,368.27 117.00,368.28 117.25,368.28 117.50,368.28 117.75,368.28 118.00,368.28 118.25,368.29 118.50,368.29 118.75,368.29 119.00,368.29 119.25,368.29 119.50,368.30 119.75,368.30 120.00,368.30 120.25,368.30 120.50,368.30 120.75,368.30 121.00,368.30 121.25,368.30 121.50,368.30 121.75,368.30 122.00,368.31 122.25,368.31 122.50,368.31 122.75,368.31 123.00,368.31 123.25,368.31 123.50,368.30 123.75,368.27 124.00,368.20 124.25,368.02 124.50,367.62 124.75,366.86 125.00,365.58 125.25,363.70 125.50,361.35 125.75,358.92 126.00,356.96 126.25,356.04 126.50,356.19 126.75,356.56 127.00,357.09 127.25,357.75 127.50,358.52 127.75,359.37 128.00,360.27 128.25,361.19 128.50,362.09 128.75,362.96 129.00,363.77 129.25,364.50 129.50,365.16 129.75,365.73 130.00,366.22 130.25,366.63 130.50,366.97 130.75,367.24 131.00,367.45 131.25,367.63 131.50,367.76 131.75,367.86 132.00,367.94 132.25,368.00 132.50,368.05 132.75,368.09 133.00,368.12 133.25,368.14 133.50,368.16 133.75,368.18 134.00,368.19 134.25,368.21 134.50,368.22 134.75,368.23 135.00,368.24 135.25,368.25 135.50,368.26 135.75,368.26 136.00,368.27 136.25,368.28 136.50,368.28 136.75,368.29 137.00,368.29 137.25,368.30 137.50,368.30 137.75,368.31 138.00,368.31 138.25,368.32 138.50,368.32 139.00,368.33 139.50,368.33 140.00,368.34 140.50,368.34 141.00,368.34 141.50,368.35 142.00,368.35 142.50,368.35 143.00,368.36 143.50,368.36 144.00,368.36 144.50,368.36 145.00,368.37 145.50,368.37 146.00,368.37 146.50,368.37 147.00,368.37 147.50,368.37 148.00,368.38 148.50,368.38 149.00,368.38 149.50,368.38 150.00,368.38 150.50,368.38 151.00,368.38 151.50,368.39 152.00,368.39 152.50,368.39 153.00,368.39 153.50,368.39 154.00,368.39 154.50,368.39 155.00,368.40 155.50,368.40 156.00,368.40 156.50,368.40 157.00,368.40 157.50,368.40 158.00,368.40 158.50,368.41 159.00,368.41 159.50,368.41 160.00,368.41 160.50,368.41 161.00,368.41 161.50,368.41 162.00,368.42 162.50,368.42 163.00,368.42 163.50,368.42 164.00,368.42 164.50,368.42 165.00,368.42 165.50,368.42 166.00,368.43 166.50,368.43 167.00,368.43 167.50,368.43 168.00,368.43 168.50,368.43 169.00,368.43 169.50,368.44 170.00,368.44 170.50,368.44 171.00,368.44 171.50,368.44 172.00,368.44 172.50,368.44 173.00,368.45 173.50,368.45 174.00,368.45 174.50,368.45 175.00,368.45 175.50,368.45 176.00,368.45 176.50,368.46 177.00,368.46 177.50,368.46 178.00,368.46 178.50,368.46 179.00,368.46 179.50,368.46 180.00,368.46 180.50,368.47 181.00,368.47 181.50,368.47 182.00,368.47 182.50,368.47 183.00,368.47 183.50,368.47 184.00,368.48 184.50,368.48 185.00,368.48 185.50,368.48 186.00,368.48 186.50,368.48 187.00,368.48 187.50,368.49 188.00,368.49 188.50,368.49 189.00,368.49 189.50,368.49 190.00,368.49 190.50,368.49 191.00,368.50 191.50,368.50 192.00,368.50 192.50,368.50 193.00,368.50 193.50,368.50 194.00,368.50 194.50,368.50 195.00,368.51 195.50,368.51 196.00,368.51 196.50,368.51 197.00,368.51 197.50,368.51 198.00,368.51 198.50,368.52 199.00,368.52 199.50,368.52 200.00,368.52 200.50,368.52 201.00,368.52 201.50,368.52 202.00,368.53 202.50,368.53 203.00,368.53 203.50,368.53 204.00,368.53 204.50,368.53 205.00,368.53 205.50,368.53 206.00,368.54 206.50,368.54 207.00,368.54 207.50,368.54 208.00,368.54 208.50,368.54 209.00,368.54 209.50,368.55 210.00,368.55 210.50,368.55 211.00,368.55 211.50,368.55 212.00,368.55 212.50,368.55 213.00,368.56 213.50,368.56 214.00,368.56 214.50,368.56 215.00,368.56 215.50,368.56 216.00,368.56 216.50,368.57 217.00,368.57 217.50,368.57 218.00,368.57 218.50,368.57 219.00,368.57 219.50,368.57 220.00,368.57 220.50,368.58 221.00,368.58 221.50,368.58 222.00,368.58 222.50,368.58 223.00,368.58 223.50,368.58 224.00,368.59 224.50,368.59 225.00,368.59 225.50,368.59 226.00,368.59 226.50,368.59 227.00,368.59 227.50,368.60 228.00,368.60 228.50,368.60 229.00,368.60 229.50,368.60 230.00,368.60 230.50,368.60 231.00,368.60 231.50,368.61 232.00,368.61 232.50,368.61 233.00,368.61 233.50,368.61 234.00,368.61 234.50,368.61 235.00,368.62 235.50,368.62 236.00,368.62 236.50,368.62 237.00,368.62 237.50,368.62 238.00,368.62 238.50,368.63 239.00,368.63 239.50,368.63 240.00,368.63 240.50,368.63 241.00,368.63 241.50,368.63 242.00,368.64 242.50,368.64 243.00,368.64 243.50,368.64 244.00,368.64 244.50,368.64 245.00,368.64 245.50,368.64 246.00,368.65 246.50,368.65 247.00,368.65 247.50,368.65 248.00,368.65 248.50,368.65 249.00,368.65 249.50,368.66 250.00,368.66 250.50,368.66 251.00,368.66 251.50,368.66 252.00,368.66 252.50,368.66 253.00,368.67 253.50,368.67 254.00,368.67 254.50,368.67 255.00,368.67 255.50,368.67 256.00,368.67 256.50,368.68 257.00,368.68 257.50,368.68 258.00,368.68 258.50,368.68 259.00,368.68 259.50,368.68 260.00,368.68 260.50,368.69 261.00,368.69 261.50,368.69 262.00,368.69 262.50,368.69 263.00,368.69 263.50,368.69 264.00,368.70 264.50,368.70 265.00,368.70 265.50,368.70 266.00,368.70 266.50,368.70 267.00,368.70 267.50,368.71 268.00,368.71 268.50,368.71 269.00,368.71 269.50,368.71 270.00,368.71 270.50,368.71 271.00,368.71 271.50,368.72 272.00,368.72 272.50,368.72 273.00,368.72 273.50,368.72 274.00,368.72 274.50,368.72 275.00,368.73 275.50,368.73 276.00,368.73 276.50,368.73 277.00,368.73 277.50,368.73 278.00,368.73 278.50,368.74 279.00,368.74 279.50,368.74 280.00,368.74 280.50,368.74 281.00,368.74 281.50,368.74 282.00,368.75 282.50,368.75 283.00,368.75 283.50,368.75 284.00,368.75 284.50,368.75 285.00,368.75 285.50,368.75 286.00,368.76 286.50,368.76 287.00,368.76 287.50,368.76 288.00,368.76 288.50,368.76 289.00,368.76 289.50,368.77 290.00,368.77 290.50,368.77 291.00,368.77 291.50,368.77 292.00,368.77 292.50,368.77 293.00,368.78 293.50,368.78 294.00,368.78 294.50,368.78 295.00,368.78 295.50,368.78 296.00,368.78 296.50,368.78 297.00,368.79 297.50,368.79 298.00,368.79 298.50,368.79 299.00,368.79 299.50,368.79 300.00,368.79 300.50,368.80 301.00,368.80 301.50,368.80 302.00,368.80" fill="none" stroke="#111" stroke-width="1.2" stroke-linejoin="round"/>
<path d="M31.00,393.70 31.50,393.70 31.75,393.71 32.00,393.71 32.25,393.71 32.50,393.71 32.75,393.72 33.00,393.72 33.25,393.72 33.50,393.72 33.75,393.73 34.00,393.73 34.25,393.73 34.50,393.73 34.75,393.73 35.00,393.74 35.25,393.74 35.50,393.74 35.75,393.74 36.00,393.75 36.25,393.75 36.50,393.75 36.75,393.75 37.00,393.76 37.25,393.76 37.50,393.76 37.75,393.76 38.00,393.76 38.25,393.77 38.50,393.77 38.75,393.77 39.00,393.77 39.25,393.78 39.50,393.78 39.75,393.78 40.00,393.78 40.25,393.78 40.50,393.79 40.75,393.79 41.00,393.79 41.25,393.77 41.50,393.74 41.75,393.66 42.00,393.50 42.25,393.23 42.50,392.84 42.75,392.38 43.00,391.94 43.25,391.66 43.50,391.63 43.75,391.70 44.00,391.82 44.25,391.98 44.50,392.17 44.75,392.37 45.00,392.58 45.25,392.78 45.50,392.97 45.75,393.14 46.00,393.28 46.25,393.40 46.50,393.50 46.75,393.58 47.00,393.64 47.25,393.69 47.50,393.72 47.75,393.75 48.00,393.77 48.25,393.78 48.50,393.79 48.75,393.80 49.00,393.81 49.25,393.82 49.50,393.83 49.75,393.83 50.00,393.84 50.25,393.84 50.50,393.85 50.75,393.85 51.00,393.86 51.25,393.86 51.50,393.87 51.75,393.87 52.00,393.87 52.25,393.88 52.50,393.88 52.75,393.88 53.00,393.89 53.25,393.89 53.50,393.90 53.75,393.90 54.00,393.90 54.25,393.90 54.50,393.91 54.75,393.91 55.00,393.91 55.25,393.92 55.50,393.92 55.75,393.92 56.00,393.92 56.25,393.93 56.50,393.93 56.75,393.93 57.00,393.93 57.25,393.94 57.50,393.94 57.75,393.94 58.00,393.95 58.25,393.95 58.50,393.95 58.75,393.95 59.00,393.96 59.25,393.96 59.50,393.96 59.75,393.96 60.00,393.96 60.25,393.96 60.50,393.96 60.75,393.93 61.00,393.86 61.25,393.65 61.50,393.20 61.75,392.33 62.00,390.90 62.25,388.91 62.50,386.65 62.75,384.64 63.00,383.50 63.25,383.51 63.50,383.87 63.75,384.42 64.00,385.13 64.25,385.96 64.50,386.87 64.75,387.80 65.00,388.72 65.25,389.58 65.50,390.38 65.75,391.08 66.00,391.67 66.25,392.17 66.50,392.57 66.75,392.89 67.00,393.13 67.25,393.32 67.50,393.46 67.75,393.57 68.00,393.65 68.25,393.71 68.50,393.75 68.75,393.79 69.00,393.82 69.25,393.84 69.50,393.86 69.75,393.88 70.00,393.90 70.25,393.91 70.50,393.93 70.75,393.94 71.00,393.95 71.25,393.96 71.50,393.97 71.75,393.98 72.00,393.99 72.25,394.00 72.50,394.01 72.75,394.02 73.00,394.03 73.25,394.03 73.50,394.04 73.75,394.05 74.00,394.05 74.25,394.06 74.50,394.06 74.75,394.07 75.00,394.07 75.25,394.08 75.75,394.09 76.25,394.10 76.75,394.10 77.25,394.11 77.50,394.11 77.75,394.12 78.00,394.12 78.25,394.12 78.50,394.13 78.75,394.13 79.00,394.13 79.25,394.14 79.50,394.14 79.75,394.14 80.00,394.14 80.25,394.15 80.50,394.15 80.75,394.15 81.00,394.15 81.25,394.16 81.50,394.16 81.75,394.16 82.00,394.16 82.25,394.17 82.50,394.17 82.75,394.17 83.00,394.17 83.25,394.18 83.50,394.18 83.75,394.18 84.00,394.18 84.25,394.19 84.50,394.19 84.75,394.19 85.00,394.19 85.25,394.20 85.50,394.20 85.75,394.20 86.00,394.20 86.25,394.20 86.50,394.20 86.75,394.19 87.00,394.14 87.25,394.01 87.50,393.72 87.75,393.16 88.00,392.24 88.25,390.97 88.50,389.52 88.75,388.23 89.00,387.50 89.25,387.50 89.50,387.70 89.75,388.00 90.00,388.38 90.25,388.84 90.50,389.33 90.75,389.86 91.00,390.40 91.25,390.92 91.50,391.42 91.75,391.88 92.00,392.29 92.25,392.65 92.50,392.96 92.75,393.22 93.00,393.44 93.25,393.61 93.50,393.75 93.75,393.85 94.00,393.94 94.25,394.00 94.50,394.05 94.75,394.09 95.00,394.12 95.25,394.14 95.50,394.16 95.75,394.18 96.00,394.19 96.25,394.20 96.50,394.21 96.75,394.22 97.00,394.23 97.25,394.24 97.50,394.25 97.75,394.26 98.00,394.26 98.25,394.27 98.50,394.27 98.75,394.28 99.00,394.29 99.25,394.29 99.50,394.30 99.75,394.30 100.00,394.31 100.25,394.31 100.50,394.31 100.75,394.32 101.00,394.32 101.25,394.33 101.75,394.33 102.25,394.34 102.75,394.35 103.25,394.35 103.75,394.36 104.25,394.37 104.75,394.37 105.25,394.38 105.75,394.38 106.25,394.39 106.75,394.39 107.25,394.40 107.75,394.40 108.25,394.41 108.75,394.41 109.25,394.42 109.75,394.42 110.25,394.43 110.75,394.43 111.25,394.44 111.75,394.44 112.25,394.44 112.75,394.45 113.25,394.45 113.50,394.46 113.75,394.46 114.00,394.46 114.25,394.46 114.50,394.47 114.75,394.47 115.00,394.47 115.25,394.47 115.50,394.48 115.75,394.48 116.00,394.48 116.25,394.48 116.50,394.48 116.75,394.49 117.00,394.49 117.25,394.49 117.50,394.49 117.75,394.50 118.00,394.50 118.25,394.50 118.50,394.50 118.75,394.50 119.00,394.51 119.25,394.51 119.50,394.51 119.75,394.51 120.00,394.52 120.25,394.52 120.50,394.52 120.75,394.52 121.00,394.53 121.25,394.53 121.50,394.53 121.75,394.53 122.00,394.53 122.25,394.53 122.50,394.52 122.75,394.47 123.00,394.35 123.25,394.07 123.50,393.48 123.75,392.39 124.00,390.66 124.25,388.28 124.50,385.50 124.75,382.87 125.00,381.05 125.25,380.60 125.50,380.90 125.75,381.36 126.00,381.98 126.25,382.73 126.50,383.58 126.75,384.51 127.00,385.49 127.25,386.49 127.50,387.47 127.75,388.41 128.00,389.30 128.25,390.11 128.50,390.85 128.75,391.49 129.00,392.05 129.25,392.53 129.50,392.92 129.75,393.25 130.00,393.52 130.25,393.73 130.50,393.90 130.75,394.03 131.00,394.14 131.25,394.22 131.50,394.28 131.75,394.33 132.00,394.37 132.25,394.40 132.50,394.43 132.75,394.45 133.00,394.47 133.25,394.49 133.50,394.51 133.75,394.52 134.00,394.53 134.25,394.54 134.50,394.55 134.75,394.56 135.00,394.57 135.25,394.58 135.50,394.59 135.75,394.60 136.00,394.61 136.25,394.61 136.50,394.62 136.75,394.63 137.00,394.63 137.25,394.64 137.75,394.65 138.25,394.66 138.75,394.67 139.25,394.67 139.75,394.68 140.25,394.69 140.75,394.69 141.25,394.69 141.75,394.70 142.25,394.70 142.75,394.70 143.25,394.70 143.75,394.71 144.25,394.71 144.75,394.71 145.25,394.71 145.75,394.72 146.25,394.72 146.75,394.72 147.25,394.72 147.75,394.72 148.25,394.72 148.75,394.73 149.25,394.73 149.75,394.73 150.25,394.73 150.75,394.73 151.25,394.73 151.75,394.74 152.25,394.74 152.75,394.74 153.25,394.74 153.75,394.74 154.25,394.74 154.75,394.75 155.25,394.75 155.75,394.75 156.25,394.75 156.75,394.75 157.25,394.75 157.75,394.75 158.25,394.76 158.75,394.76 159.25,394.76 159.75,394.76 160.25,394.76 160.75,394.76 161.25,394.77 161.75,394.77 162.25,394.77 162.75,394.77 163.25,394.77 163.75,394.77 164.25,394.77 164.75,394.78 165.25,394.78 165.75,394.78 166.25,394.78 166.75,394.78 167.25,394.78 167.75,394.79 168.25,394.79 168.75,394.79 169.25,394.79 169.75,394.79 170.25,394.79 170.75,394.79 171.25,394.80 171.75,394.80 172.25,394.80 172.75,394.80 173.25,394.80 173.75,394.80 174.25,394.81 174.75,394.81 175.25,394.81 175.75,394.81 176.25,394.81 176.75,394.81 177.25,394.81 177.75,394.82 178.25,394.82 178.75,394.82 179.25,394.82 179.75,394.82 180.25,394.82 180.75,394.83 181.25,394.83 181.75,394.83 182.25,394.83 182.75,394.83 183.25,394.83 183.75,394.84 184.25,394.84 184.75,394.84 185.25,394.84 185.75,394.84 186.25,394.84 186.75,394.84 187.25,394.85 187.75,394.85 188.25,394.85 188.75,394.85 189.25,394.85 189.75,394.85 190.25,394.86 190.75,394.86 191.25,394.86 191.75,394.86 192.25,394.86 192.75,394.86 193.25,394.86 193.75,394.87 194.25,394.87 194.75,394.87 195.25,394.87 195.75,394.87 196.25,394.87 196.75,394.88 197.25,394.88 197.75,394.88 198.25,394.88 198.75,394.88 199.25,394.88 199.75,394.88 200.25,394.89 200.75,394.89 201.25,394.89 201.75,394.89 202.25,394.89 202.75,394.89 203.25,394.90 203.75,394.90 204.25,394.90 204.75,394.90 205.25,394.90 205.75,394.90 206.25,394.90 206.75,394.91 207.25,394.91 207.75,394.91 208.25,394.91 208.75,394.91 209.25,394.91 209.75,394.92 210.25,394.92 210.75,394.92 211.25,394.92 211.75,394.92 212.25,394.92 212.75,394.92 213.25,394.93 213.75,394.93 214.25,394.93 214.75,394.93 215.25,394.93 215.75,394.93 216.25,394.94 216.75,394.94 217.25,394.94 217.75,394.94 218.25,394.94 218.75,394.94 219.25,394.94 219.75,394.95 220.25,394.95 220.75,394.95 221.25,394.95 221.75,394.95 222.25,394.95 222.75,394.96 223.25,394.96 223.75,394.96 224.25,394.96 224.75,394.96 225.25,394.96 225.75,394.96 226.25,394.97 226.75,394.97 227.25,394.97 227.75,394.97 228.25,394.97 228.75,394.97 229.25,394.98 229.75,394.98 230.25,394.98 230.75,394.98 231.25,394.98 231.75,394.98 232.25,394.98 232.75,394.99 233.25,394.99 233.75,394.99 234.25,394.99 234.75,394.99 235.25,394.99 235.75,395.00 236.25,395.00 236.75,395.00 237.25,395.00 237.75,395.00 238.25,395.00 238.75,395.00 239.25,395.01 239.75,395.01 240.25,395.01 240.75,395.01 241.25,395.01 241.75,395.01 242.25,395.02 242.75,395.02 243.25,395.02 243.75,395.02 244.25,395.02 244.75,395.02 245.25,395.02 245.75,395.03 246.25,395.03 246.75,395.03 247.25,395.03 247.75,395.03 248.25,395.03 248.75,395.04 249.25,395.04 249.75,395.04 250.25,395.04 250.75,395.04 251.25,395.04 251.75,395.04 252.25,395.05 252.75,395.05 253.25,395.05 253.75,395.05 254.25,395.05 254.75,395.05 255.25,395.06 255.75,395.06 256.25,395.06 256.75,395.06 257.25,395.06 257.75,395.06 258.25,395.06 258.75,395.07 259.25,395.07 259.75,395.07 260.25,395.07 260.75,395.07 261.25,395.07 261.75,395.08 262.25,395.08 262.75,395.08 263.25,395.08 263.75,395.08 264.25,395.08 264.75,395.09 265.25,395.09 265.75,395.09 266.25,395.09 266.75,395.09 267.25,395.09 267.75,395.09 268.25,395.10 268.75,395.10 269.25,395.10 269.75,395.10 270.25,395.10 270.75,395.10 271.25,395.11 271.75,395.11 272.25,395.11 272.75,395.11 273.25,395.11 273.75,395.11 274.25,395.11 274.75,395.12 275.25,395.12 275.75,395.12 276.25,395.12 276.75,395.12 277.25,395.12 277.75,395.13 278.25,395.13 278.75,395.13 279.25,395.13 279.75,395.13 280.25,395.13 280.75,395.13 281.25,395.14 281.75,395.14 282.25,395.14 282.75,395.14 283.25,395.14 283.75,395.14 284.25,395.15 284.75,395.15 285.25,395.15 285.75,395.15 286.25,395.15 286.75,395.15 287.25,395.15 287.75,395.16 288.25,395.16 288.75,395.16 289.25,395.16 289.75,395.16 290.25,395.16 290.75,395.17 291.25,395.17 291.75,395.17 292.25,395.17 292.75,395.17 293.25,395.17 293.75,395.17 294.25,395.18 294.75,395.18 295.25,395.18 295.75,395.18 296.25,395.18 296.75,395.18 297.25,395.19 297.75,395.19 298.25,395.19 298.75,395.19 299.25,395.19 299.75,395.19 300.25,395.19 300.75,395.20 301.25,395.20 301.75,395.20" fill="none" stroke="#111" stroke-width="1.2" stroke-linejoin="round"/>
<path d="M31.00,423.50 31.50,423.50 31.75,423.51 32.00,423.51 32.25,423.51 32.50,423.51 32.75,423.51 33.00,423.52 33.25,423.52 33.50,423.52 33.75,423.52 34.00,423.52 34.25,423.53 34.50,423.53 34.75,423.53 35.00,423.53 35.25,423.53 35.50,423.54 35.75,423.54 36.00,423.54 36.25,423.54 36.50,423.54 36.75,423.55 37.00,423.55 37.25,423.55 37.50,423.55 37.75,423.55 38.00,423.56 38.25,423.56 38.50,423.56 38.75,423.56 39.00,423.56 39.25,423.57 39.50,423.57 39.75,423.57 40.00,423.57 40.25,423.57 40.50,423.58 40.75,423.58 41.00,423.57 41.25,423.56 41.50,423.51 41.75,423.40 42.00,423.18 42.25,422.81 42.50,422.28 42.75,421.65 43.00,421.05 43.25,420.67 43.50,420.62 43.75,420.72 44.00,420.88 44.25,421.10 44.50,421.35 44.75,421.62 45.00,421.91 45.25,422.18 45.50,422.44 45.75,422.67 46.00,422.86 46.25,423.03 46.50,423.16 46.75,423.27 47.00,423.35 47.25,423.41 47.50,423.46 47.75,423.49 48.00,423.52 48.25,423.54 48.50,423.55 48.75,423.56 49.00,423.57 49.25,423.58 49.50,423.59 49.75,423.60 50.00,423.60 50.25,423.61 50.50,423.62 50.75,423.62 51.00,423.63 51.25,423.63 51.50,423.64 51.75,423.64 52.00,423.64 52.25,423.65 52.50,423.65 52.75,423.66 53.00,423.66 53.25,423.66 53.50,423.67 53.75,423.67 54.00,423.67 54.25,423.68 54.50,423.68 54.75,423.68 55.00,423.68 55.25,423.69 55.50,423.69 55.75,423.69 56.00,423.70 56.25,423.70 56.50,423.70 56.75,423.70 57.00,423.71 57.25,423.71 57.50,423.71 57.75,423.71 58.00,423.71 58.25,423.72 58.50,423.72 58.75,423.72 59.00,423.72 59.25,423.73 59.50,423.73 59.75,423.73 60.00,423.73 60.25,423.73 60.50,423.70 60.75,423.61 61.00,423.34 61.25,422.67 61.50,421.26 61.75,418.76 62.00,415.12 62.25,410.89 62.50,407.21 62.75,405.41 63.00,405.67 63.25,406.43 63.50,407.55 63.75,408.96 64.00,410.56 64.25,412.26 64.50,413.98 64.75,415.61 65.00,417.11 65.25,418.44 65.50,419.56 65.75,420.49 66.00,421.23 66.25,421.80 66.50,422.24 66.75,422.56 67.00,422.80 67.25,422.97 67.50,423.10 67.75,423.20 68.00,423.27 68.25,423.33 68.50,423.38 68.75,423.42 69.00,423.45 69.25,423.49 69.50,423.51 69.75,423.54 70.00,423.56 70.25,423.59 70.50,423.61 70.75,423.63 71.00,423.64 71.25,423.66 71.50,423.68 71.75,423.69 72.00,423.70 72.25,423.72 72.50,423.73 72.75,423.74 73.00,423.75 73.25,423.76 73.50,423.77 73.75,423.77 74.00,423.78 74.25,423.79 74.50,423.80 74.75,423.80 75.00,423.81 75.50,423.82 76.00,423.83 76.50,423.84 77.00,423.85 77.50,423.86 77.75,423.86 78.00,423.86 78.25,423.87 78.50,423.87 78.75,423.87 79.00,423.88 79.25,423.88 79.50,423.88 79.75,423.88 80.00,423.89 80.25,423.89 80.50,423.89 80.75,423.90 81.00,423.90 81.25,423.90 81.50,423.90 81.75,423.91 82.00,423.91 82.25,423.91 82.50,423.91 82.75,423.91 83.00,423.92 83.25,423.92 83.50,423.92 83.75,423.92 84.00,423.93 84.25,423.93 84.50,423.93 84.75,423.93 85.00,423.93 85.25,423.94 85.50,423.94 85.75,423.94 86.00,423.94 86.25,423.94 86.50,423.94 86.75,423.93 87.00,423.89 87.25,423.78 87.50,423.54 87.75,423.09 88.00,422.33 88.25,421.28 88.50,420.09 88.75,419.02 89.00,418.43 89.25,418.43 89.50,418.59 89.75,418.84 90.00,419.15 90.25,419.52 90.50,419.94 90.75,420.37 91.00,420.81 91.25,421.24 91.50,421.65 91.75,422.03 92.00,422.37 92.25,422.67 92.50,422.93 92.75,423.14 93.00,423.32 93.25,423.46 93.50,423.57 93.75,423.66 94.00,423.73 94.25,423.78 94.50,423.82 94.75,423.85 95.00,423.88 95.25,423.90 95.50,423.91 95.75,423.93 96.00,423.94 96.25,423.95 96.50,423.96 96.75,423.97 97.00,423.97 97.25,423.98 97.50,423.99 97.75,423.99 98.00,424.00 98.25,424.00 98.50,424.01 98.75,424.01 99.00,424.02 99.25,424.02 99.50,424.03 99.75,424.03 100.00,424.04 100.25,424.04 100.50,424.04 100.75,424.05 101.00,424.05 101.25,424.05 101.75,424.06 102.25,424.07 102.75,424.07 103.25,424.08 103.75,424.08 104.25,424.09 104.75,424.09 105.25,424.10 105.75,424.10 106.25,424.11 106.75,424.11 107.25,424.11 107.75,424.12 108.25,424.12 108.75,424.13 109.25,424.13 109.75,424.14 110.25,424.14 110.75,424.14 111.25,424.15 111.75,424.15 112.25,424.16 112.75,424.16 113.25,424.16 113.75,424.17 114.00,424.17 114.25,424.17 114.50,424.17 114.75,424.18 115.00,424.18 115.25,424.18 115.50,424.18 115.75,424.18 116.00,424.19 116.25,424.19 116.50,424.19 116.75,424.19 117.00,424.19 117.25,424.20 117.50,424.20 117.75,424.20 118.00,424.20 118.25,424.20 118.50,424.21 118.75,424.21 119.00,424.21 119.25,424.21 119.50,424.22 119.75,424.22 120.00,424.22 120.25,424.22 120.50,424.22 120.75,424.23 121.00,424.23 121.25,424.23 121.50,424.23 121.75,424.23 122.00,424.24 122.25,424.24 122.50,424.24 122.75,424.24 123.00,424.24 123.25,424.23 123.50,424.22 123.75,424.18 124.00,424.12 124.25,424.01 124.50,423.87 124.75,423.69 125.00,423.50 125.25,423.35 125.50,423.27 125.75,423.28 126.00,423.30 126.25,423.34 126.50,423.39 126.75,423.45 127.00,423.52 127.25,423.59 127.50,423.66 127.75,423.73 128.00,423.80 128.25,423.87 128.50,423.93 128.75,423.99 129.00,424.04 129.25,424.09 129.50,424.13 129.75,424.16 130.00,424.19 130.25,424.21 130.50,424.23 130.75,424.25 131.00,424.26 131.25,424.27 131.50,424.28 131.75,424.28 132.00,424.29 132.25,424.29 132.50,424.30 132.75,424.30 133.00,424.30 133.25,424.30 133.50,424.31 133.75,424.31 134.00,424.31 134.25,424.31 134.50,424.31 134.75,424.32 135.00,424.32 135.25,424.32 135.50,424.32 135.75,424.32 136.00,424.33 136.25,424.33 136.50,424.33 136.75,424.33 137.00,424.33 137.25,424.33 137.50,424.33 137.75,424.34 138.25,424.34 138.75,424.34 139.25,424.34 139.75,424.35 140.25,424.35 140.75,424.35 141.25,424.36 141.75,424.36 142.25,424.36 142.75,424.36 143.25,424.37 143.75,424.37 144.25,424.37 144.75,424.37 145.25,424.38 145.75,424.38 146.25,424.38 146.75,424.38 147.25,424.39 147.75,424.39 148.25,424.39 148.75,424.39 149.25,424.40 149.75,424.40 150.25,424.40 150.75,424.40 151.25,424.41 151.75,424.41 152.25,424.41 152.75,424.41 153.25,424.42 153.75,424.42 154.25,424.42 154.75,424.42 155.25,424.43 155.75,424.43 156.25,424.43 156.75,424.43 157.25,424.44 157.75,424.44 158.25,424.44 158.75,424.44 159.25,424.45 159.75,424.45 160.25,424.45 160.75,424.45 161.25,424.46 161.75,424.46 162.25,424.46 162.75,424.46 163.25,424.47 163.75,424.47 164.25,424.47 164.75,424.47 165.25,424.48 165.75,424.48 166.25,424.48 166.75,424.48 167.25,424.49 167.75,424.49 168.25,424.49 168.75,424.49 169.25,424.50 169.75,424.50 170.25,424.50 170.75,424.50 171.25,424.51 171.75,424.51 172.25,424.51 172.75,424.51 173.25,424.52 173.75,424.52 174.25,424.52 174.75,424.52 175.25,424.53 175.75,424.53 176.25,424.53 176.75,424.53 177.25,424.54 177.75,424.54 178.25,424.54 178.75,424.54 179.25,424.55 179.75,424.55 180.25,424.55 180.75,424.55 181.25,424.56 181.75,424.56 182.25,424.56 182.75,424.56 183.25,424.57 183.75,424.57 184.25,424.57 184.75,424.57 185.25,424.58 185.75,424.58 186.25,424.58 186.75,424.58 187.25,424.59 187.75,424.59 188.25,424.59 188.75,424.59 189.25,424.60 189.75,424.60 190.25,424.60 190.75,424.60 191.25,424.61 191.75,424.61 192.25,424.61 192.75,424.61 193.25,424.62 193.75,424.62 194.25,424.62 194.75,424.62 195.25,424.63 195.75,424.63 196.25,424.63 196.75,424.63 197.25,424.64 197.75,424.64 198.25,424.64 198.75,424.64 199.25,424.65 199.75,424.65 200.25,424.65 200.75,424.65 201.25,424.66 201.75,424.66 202.25,424.66 202.75,424.66 203.25,424.67 203.75,424.67 204.25,424.67 204.75,424.67 205.25,424.68 205.75,424.68 206.25,424.68 206.75,424.68 207.25,424.69 207.75,424.69 208.25,424.69 208.75,424.69 209.25,424.70 209.75,424.70 210.25,424.70 210.75,424.70 211.25,424.71 211.75,424.71 212.25,424.71 212.75,424.71 213.25,424.72 213.75,424.72 214.25,424.72 214.75,424.72 215.25,424.73 215.75,424.73 216.25,424.73 216.75,424.73 217.25,424.74 217.75,424.74 218.25,424.74 218.75,424.74 219.25,424.75 219.75,424.75 220.25,424.75 220.75,424.75 221.25,424.76 221.75,424.76 222.25,424.76 222.75,424.76 223.25,424.77 223.75,424.77 224.25,424.77 224.75,424.77 225.25,424.78 225.75,424.78 226.25,424.78 226.75,424.78 227.25,424.79 227.75,424.79 228.25,424.79 228.75,424.79 229.25,424.80 229.75,424.80 230.25,424.80 230.75,424.81 231.25,424.81 231.75,424.81 232.25,424.82 232.75,424.82 233.25,424.83 233.75,424.83 234.25,424.84 234.75,424.84 235.25,424.84 235.75,424.85 236.25,424.85 236.75,424.86 237.25,424.86 237.75,424.86 238.25,424.87 238.75,424.87 239.25,424.88 239.75,424.88 240.25,424.89 240.75,424.89 241.25,424.89 241.75,424.90 242.25,424.90 242.75,424.91 243.25,424.91 243.75,424.91 244.25,424.92 244.75,424.92 245.25,424.93 245.75,424.93 246.25,424.94 246.75,424.94 247.25,424.94 247.75,424.95 248.25,424.95 248.75,424.96 249.25,424.96 249.75,424.96 250.25,424.97 250.75,424.97 251.25,424.98 251.75,424.98 252.25,424.99 252.75,424.99 253.00,424.99 253.25,424.99 253.50,425.00 253.75,425.00 254.00,425.00 254.25,425.00 254.50,425.00 254.75,425.01 255.00,425.01 255.25,425.01 255.50,425.01 255.75,425.01 256.00,425.02 256.25,425.02 256.50,425.02 256.75,425.02 257.00,425.02 257.25,425.02 257.50,425.02 257.75,425.01 258.00,425.00 258.25,424.99 258.50,424.97 258.75,424.93 259.00,424.89 259.25,424.82 259.50,424.73 259.75,424.60 260.00,424.43 260.25,424.22 260.50,423.94 260.75,423.60 261.00,423.19 261.25,422.70 261.50,422.13 261.75,421.49 262.00,420.77 262.25,420.01 262.50,419.21 262.75,418.40 263.00,417.61 263.25,416.86 263.50,416.20 263.75,415.65 264.00,415.23 264.25,414.97 264.50,414.89 264.75,415.05 265.00,415.27 265.25,415.54 265.50,415.87 265.75,416.25 266.00,416.67 266.25,417.12 266.50,417.60 266.75,418.09 267.00,418.59 267.25,419.09 267.50,419.59 267.75,420.07 268.00,420.52 268.25,420.96 268.50,421.36 268.75,421.74 269.00,422.08 269.25,422.39 269.50,422.68 269.75,422.93 270.00,423.15 270.25,423.34 270.50,423.51 270.75,423.66 271.00,423.79 271.25,423.90 271.50,424.00 271.75,424.09 272.00,424.16 272.25,424.23 272.50,424.28 272.75,424.34 273.00,424.38 273.25,424.42 273.50,424.46 273.75,424.50 274.00,424.53 274.25,424.56 274.50,424.59 274.75,424.62 275.00,424.64 275.25,424.67 275.50,424.69 275.75,424.71 276.00,424.73 276.25,424.75 276.50,424.77 277.00,424.81 277.50,424.85 278.00,424.88 278.50,424.91 279.00,424.94 279.50,424.96 280.00,424.99 280.50,425.01 281.00,425.03 281.50,425.05 282.00,425.07 282.50,425.09 283.00,425.10 283.50,425.12 284.00,425.13 284.50,425.15 285.00,425.16 285.50,425.17 286.00,425.18 286.50,425.19 287.00,425.20 287.50,425.21 288.00,425.22 288.50,425.23 289.00,425.24 289.50,425.25 290.00,425.26 290.50,425.26 291.00,425.27 291.50,425.28 292.00,425.29 292.50,425.29 293.00,425.30 293.50,425.30 294.00,425.31 294.50,425.32 295.00,425.32 295.50,425.33 296.00,425.33 296.50,425.34 297.00,425.34 297.50,425.35 298.00,425.36 298.50,425.36 299.00,425.37 299.50,425.37 300.00,425.38 300.50,425.38 301.00,425.38 301.50,425.39 302.00,425.39" fill="none" stroke="#111" stroke-width="1.2" stroke-linejoin="round"/>
<line x1="31.00" y1="431.40" x2="301.20" y2="431.40" stroke="#111" stroke-width="1.0"/>
<line x1="38.70" y1="431.40" x2="38.70" y2="433.60" stroke="#111" stroke-width="0.9"/>
<line x1="53.26" y1="431.40" x2="53.26" y2="433.60" stroke="#111" stroke-width="0.9"/>
<line x1="67.81" y1="431.40" x2="67.81" y2="433.60" stroke="#111" stroke-width="0.9"/>
<line x1="82.37" y1="431.40" x2="82.37" y2="433.60" stroke="#111" stroke-width="0.9"/>
<line x1="96.92" y1="431.40" x2="96.92" y2="433.60" stroke="#111" stroke-width="0.9"/>
<line x1="111.48" y1="431.40" x2="111.48" y2="433.60" stroke="#111" stroke-width="0.9"/>
<line x1="126.04" y1="431.40" x2="126.04" y2="433.60" stroke="#111" stroke-width="0.9"/>
<line x1="140.59" y1="431.40" x2="140.59" y2="433.60" stroke="#111" stroke-width="0.9"/>
<line x1="155.15" y1="431.40" x2="155.15" y2="433.60" stroke="#111" stroke-width="0.9"/>
<line x1="169.70" y1="431.40" x2="169.70" y2="433.60" stroke="#111" stroke-width="0.9"/>
<line x1="184.26" y1="431.40" x2="184.26" y2="433.60" stroke="#111" stroke-width="0.9"/>
<line x1="198.82" y1="431.40" x2="198.82" y2="433.60" stroke="#111" stroke-width="0.9"/>
<line x1="213.37" y1="431.40" x2="213.37" y2="433.60" stroke="#111" stroke-width="0.9"/>
<line x1="227.93" y1="431.40" x2="227.93" y2="433.60" stroke="#111" stroke-width="0.9"/>
<line x1="242.48" y1="431.40" x2="242.48" y2="433.60" stroke="#111" stroke-width="0.9"/>
<line x1="257.04" y1="431.40" x2="257.04" y2="433.60" stroke="#111" stroke-width="0.9"/>
<line x1="271.60" y1="431.40" x2="271.60" y2="433.60" stroke="#111" stroke-width="0.9"/>
<line x1="286.15" y1="431.40" x2="286.15" y2="433.60" stroke="#111" stroke-width="0.9"/>
<line x1="300.71" y1="431.40" x2="300.71" y2="433.60" stroke="#111" stroke-width="0.9"/>
<text x="54.46" y="441.60" font-size="7.4" font-weight="bold" fill="#111" stroke="#111" stroke-width="0.22" text-anchor="middle" >8.0</text>
<text x="85.37" y="441.60" font-size="7.4" font-weight="bold" fill="#111" stroke="#111" stroke-width="0.22" text-anchor="middle" >10.0</text>
<text x="114.48" y="441.60" font-size="7.4" font-weight="bold" fill="#111" stroke="#111" stroke-width="0.22" text-anchor="middle" >12.0</text>
<text x="143.59" y="441.60" font-size="7.4" font-weight="bold" fill="#111" stroke="#111" stroke-width="0.22" text-anchor="middle" >14.0</text>
<text x="172.70" y="441.60" font-size="7.4" font-weight="bold" fill="#111" stroke="#111" stroke-width="0.22" text-anchor="middle" >16.0</text>
<text x="201.82" y="441.60" font-size="7.4" font-weight="bold" fill="#111" stroke="#111" stroke-width="0.22" text-anchor="middle" >18.0</text>
<text x="230.93" y="441.60" font-size="7.4" font-weight="bold" fill="#111" stroke="#111" stroke-width="0.22" text-anchor="middle" >20.0</text>
<text x="260.04" y="441.60" font-size="7.4" font-weight="bold" fill="#111" stroke="#111" stroke-width="0.22" text-anchor="middle" >22.0</text>
<text x="289.15" y="441.60" font-size="7.4" font-weight="bold" fill="#111" stroke="#111" stroke-width="0.22" text-anchor="middle" >24.0</text>
<text x="298.60" y="441.60" font-size="7.4" font-weight="bold" fill="#111" stroke="#111" stroke-width="0.22" text-anchor="start" >min</text>
<text x="49.80" y="297.70" font-size="7.8" font-weight="normal" fill="#111" stroke="#111" stroke-width="0.22" text-anchor="start" >PROG</text>
<text x="65.90" y="282.50" font-size="7.8" font-weight="normal" fill="#111" stroke="#111" stroke-width="0.22" text-anchor="start" >20R, 22R-DHCO</text>
<text x="98.10" y="296.20" font-size="7.8" font-weight="normal" fill="#111" stroke="#111" stroke-width="0.22" text-anchor="start" >22R-HCO</text>
<text x="119.70" y="306.40" font-size="7.8" font-weight="normal" fill="#111" stroke="#111" stroke-width="0.22" text-anchor="start" >22S-HCO</text>
<text x="173.80" y="310.20" font-size="9.2" font-weight="normal" fill="#111" stroke="#111" stroke-width="0.22" text-anchor="start" >CYP204A5 + 22R-HCO</text>
<text x="173.80" y="335.40" font-size="9.2" font-weight="normal" fill="#111" stroke="#111" stroke-width="0.22" text-anchor="start" >CYP204A5 + 22S-HCO</text>
<text x="173.80" y="363.40" font-size="9.2" font-weight="normal" fill="#111" stroke="#111" stroke-width="0.22" text-anchor="start" >CYP204A5 + 20R-HCO</text>
<text x="173.80" y="390.50" font-size="9.2" font-weight="normal" fill="#111" stroke="#111" stroke-width="0.22" text-anchor="start" >CYP204A5 + 20S-HCO</text>
<text x="186.60" y="420.90" font-size="9.2" font-weight="normal" fill="#111" stroke="#111" stroke-width="0.22" text-anchor="start" >CYP204A5+CHO</text>
<line x1="381.0" y1="250.6" x2="381.0" y2="430.5" stroke="#333" stroke-width="0.9" stroke-dasharray="4.2 1.8"/>
<line x1="412.3" y1="237.0" x2="412.3" y2="315.0" stroke="#333" stroke-width="0.9" stroke-dasharray="4.2 1.8"/>
<line x1="411.2" y1="318.6" x2="411.2" y2="430.5" stroke="#333" stroke-width="0.9" stroke-dasharray="4.2 1.8"/>
<line x1="439.6" y1="275.5" x2="439.6" y2="424.5" stroke="#333" stroke-width="0.9" stroke-dasharray="4.2 1.8"/>
<line x1="452.3" y1="243.0" x2="452.3" y2="424.5" stroke="#333" stroke-width="0.9" stroke-dasharray="4.2 1.8"/>
<line x1="461.6" y1="260.0" x2="461.6" y2="424.5" stroke="#333" stroke-width="0.9" stroke-dasharray="4.2 1.8"/>
<line x1="464.3" y1="275.5" x2="464.3" y2="424.5" stroke="#333" stroke-width="0.9" stroke-dasharray="4.2 1.8"/>
<path d="M378.00,284.00 378.00,283.94 378.25,283.82 378.50,283.53 378.75,282.90 379.00,281.67 379.25,279.52 379.50,276.18 379.75,271.62 380.00,266.23 380.25,260.87 380.50,256.69 380.75,254.76 381.00,254.97 381.25,255.56 381.50,256.43 381.75,257.55 382.00,258.89 382.25,260.42 382.50,262.08 382.75,263.84 383.00,265.65 383.25,267.47 383.50,269.26 383.75,270.99 384.00,272.62 384.25,274.15 384.50,275.54 384.75,276.79 385.00,277.90 385.25,278.88 385.50,279.72 385.75,280.44 386.00,281.04 386.25,281.54 386.50,281.96 386.75,282.30 387.00,282.57 387.25,282.79 387.50,282.97 387.75,283.11 388.00,283.23 388.00,284.00Z" fill="#ff0000" stroke="none"/>
<path d="M409.40,284.00 409.40,283.95 409.65,283.85 409.90,283.61 410.15,283.08 410.40,282.04 410.65,280.23 410.90,277.43 411.15,273.60 411.40,269.08 411.65,264.58 411.90,261.07 412.15,259.45 412.40,259.63 412.65,260.12 412.90,260.85 413.15,261.79 413.40,262.92 413.65,264.20 413.90,265.60 414.15,267.07 414.40,268.60 414.65,270.12 414.90,271.63 415.15,273.08 415.40,274.45 415.65,275.73 415.90,276.89 416.15,277.95 416.40,278.88 416.65,279.70 416.90,280.41 417.15,281.01 417.40,281.51 417.65,281.94 417.90,282.29 418.15,282.57 418.40,282.80 418.65,282.99 418.90,283.14 419.15,283.26 419.40,283.35 419.40,284.00Z" fill="#1fa8e6" stroke="none"/>
<path d="M346.70,284.16 347.20,283.91 347.70,284.09 348.20,283.98 348.70,284.18 349.20,284.04 349.70,283.89 350.20,283.95 350.70,284.22 351.20,283.89 351.70,283.89 352.20,284.05 352.70,283.83 353.20,284.13 353.70,284.01 354.20,283.87 354.70,283.84 355.20,283.85 355.70,284.13 356.20,284.21 356.70,283.95 357.20,284.17 357.70,284.02 358.20,284.15 358.70,283.87 359.20,283.90 359.70,283.93 360.20,284.00 360.70,283.99 361.20,284.04 361.70,283.95 362.20,283.97 362.70,283.94 363.20,284.05 363.70,283.77 364.20,283.97 364.70,283.83 365.20,283.84 365.70,284.11 366.20,284.20 366.70,283.85 367.20,284.05 367.70,283.99 368.20,284.03 368.70,283.98 369.20,284.14 369.70,284.01 370.20,284.06 370.70,284.00 371.20,284.28 371.70,283.90 372.20,283.96 372.70,284.21 373.20,284.09 373.45,284.00 373.70,283.92 373.95,284.00 374.20,283.83 374.45,284.00 374.70,284.12 374.95,284.08 375.20,283.91 375.45,284.07 375.70,283.90 375.95,283.88 376.20,283.93 376.45,283.88 376.70,284.02 376.95,284.00 377.20,284.07 377.45,284.07 377.70,284.17 377.95,284.02 378.20,283.98 378.45,283.78 378.70,283.05 378.95,281.92 379.20,280.08 379.45,276.78 379.70,272.50 379.95,267.21 380.20,261.96 380.45,257.55 380.70,254.86 380.95,254.85 381.20,255.33 381.45,256.19 381.70,257.16 381.95,258.64 382.20,260.02 382.45,261.85 382.70,263.76 382.95,265.34 383.20,266.93 383.45,269.11 383.70,270.53 383.95,272.39 384.20,273.90 384.45,275.26 384.70,276.52 384.95,277.81 385.20,278.68 385.45,279.51 385.70,280.20 385.95,281.02 386.20,281.26 386.45,281.65 386.70,281.95 386.95,282.68 387.20,282.73 387.45,283.16 387.70,283.04 387.95,283.14 388.20,283.44 388.45,283.57 388.70,283.42 388.95,283.42 389.45,283.67 389.95,283.66 390.45,283.98 390.95,283.81 391.45,283.74 391.95,283.77 392.45,283.62 392.95,283.97 393.45,284.12 393.95,283.81 394.45,283.96 394.95,283.86 395.45,283.82 395.95,283.85 396.45,283.76 396.95,283.78 397.45,284.15 397.95,283.96 398.45,283.72 398.95,284.01 399.45,283.85 399.95,283.98 400.45,284.02 400.95,283.79 401.45,283.85 401.95,284.01 402.45,283.88 402.95,284.14 403.45,284.07 403.95,283.88 404.45,283.99 404.70,284.12 404.95,283.94 405.20,283.95 405.45,283.84 405.70,283.88 405.95,284.03 406.20,284.05 406.45,284.01 406.70,284.02 406.95,283.82 407.20,283.80 407.45,283.83 407.70,283.95 407.95,284.03 408.20,283.89 408.45,284.04 408.70,283.97 408.95,284.19 409.20,284.03 409.45,283.76 409.70,283.93 409.95,283.71 410.20,282.94 410.45,281.55 410.70,279.58 410.95,276.78 411.20,272.79 411.45,268.16 411.70,263.87 411.95,260.57 412.20,259.43 412.45,259.88 412.70,260.32 412.95,261.06 413.20,262.11 413.45,263.30 413.70,264.36 413.95,265.66 414.20,267.41 414.45,268.95 414.70,270.37 414.95,271.95 415.20,273.45 415.45,274.55 415.70,276.09 415.95,277.20 416.20,278.22 416.45,279.16 416.70,279.88 416.95,280.46 417.20,280.94 417.45,281.53 417.70,282.01 417.95,282.50 418.20,282.63 418.45,282.95 418.70,283.03 418.95,283.04 419.20,283.25 419.45,283.39 419.70,283.53 419.95,283.50 420.20,283.54 420.70,283.74 421.20,283.74 421.70,283.62 422.20,283.96 422.70,283.84 423.20,283.95 423.70,283.65 424.20,283.78 424.70,283.81 425.20,283.84 425.70,283.86 426.20,283.88 426.70,284.11 427.20,283.90 427.70,283.87 428.20,284.12 428.70,283.85 429.20,283.88 429.70,284.15 430.20,284.02 430.70,284.01 431.20,284.04 431.70,283.93 432.20,284.13 432.70,284.01 433.20,283.96 433.70,283.90 434.20,283.98 434.70,284.02 435.20,283.91 435.70,284.23 436.20,283.88 436.70,284.03 437.20,284.14 437.70,284.05 438.20,284.22 438.70,284.24 439.20,284.04 439.70,284.09 440.20,283.91 440.70,284.10 441.20,284.15 441.70,284.11 442.20,283.79 442.70,284.00 443.20,284.07 443.70,284.12 444.20,284.13 444.70,284.02 445.20,283.95 445.70,283.86 446.20,283.86 446.70,283.97 447.20,284.08 447.70,284.10 448.20,284.28 448.70,284.12 449.20,283.95 449.70,284.04 450.20,283.96 450.70,284.16 451.20,283.89 451.70,283.96 452.20,283.99 452.70,283.95 453.20,284.27 453.70,284.07 454.20,284.11 454.70,283.78 455.20,284.02 455.70,284.06 456.20,283.90 456.70,284.13 457.20,283.83 457.70,284.08 458.20,284.01 458.70,284.11 459.20,283.90 459.70,284.26 460.20,283.92 460.70,284.10 461.20,283.99 461.70,284.14 462.20,283.97 462.70,283.98 463.20,283.93 463.70,283.96 464.20,283.93 464.70,283.88 465.20,284.05 465.70,284.14 466.20,284.15 466.70,283.92 467.20,284.05 467.70,283.87 468.20,283.99 468.70,284.12 469.20,283.89 469.70,283.77 470.20,284.02 470.70,284.11 471.20,284.10 471.70,283.89 472.20,284.07 472.70,284.05 473.20,283.92 473.70,284.00 474.20,283.99 474.70,284.07 475.20,284.08 475.70,283.98 476.20,283.98 476.70,283.93 477.20,284.06 477.70,283.96 478.20,283.94 478.70,283.99 479.20,283.93 479.70,283.88 480.20,283.98 480.70,283.99 481.20,284.12 481.70,283.96 482.20,284.01 482.70,284.04 483.20,284.10 483.70,283.93 484.20,283.69 484.70,283.95 485.20,283.99 485.70,283.95 486.20,284.07 486.70,283.99 487.20,284.08 487.70,284.08 488.20,283.97 488.70,283.97 489.20,284.01 489.70,284.10 490.20,283.97 490.70,284.13 491.20,283.91 491.70,284.04 492.20,284.00 492.70,283.91 493.20,283.93 493.70,284.16 494.20,284.03 494.70,283.96 495.20,284.13 495.70,284.29 496.20,284.01 496.70,284.01 497.20,283.95 497.70,283.99 498.20,283.98 498.70,283.97 499.20,283.84 499.70,283.94 500.20,283.93 500.70,284.05 501.20,283.87 501.70,284.02 502.20,283.91 502.70,284.25 503.20,283.97 503.70,284.01 504.20,284.06 504.70,283.85 505.20,283.95 505.70,284.02 506.20,284.06 506.70,283.77 507.20,283.91 507.70,283.92 508.20,284.09 508.70,283.84 509.20,283.93 509.70,284.03 510.20,284.01 510.70,284.19 511.20,283.92 511.70,284.13 512.20,283.90 512.70,284.05 513.20,284.07 513.70,283.96 514.20,283.97 514.70,284.14 515.20,284.01 515.70,283.93 516.20,284.03 516.70,284.16 517.20,284.03 517.70,284.12 518.20,284.07 518.70,283.99 519.20,284.01 519.70,284.03 520.20,284.20 520.70,283.96 521.20,284.02 521.70,284.05 522.20,283.98 522.70,283.77 523.20,284.15 523.70,284.19 524.20,283.91 524.70,284.09 525.20,283.84 525.70,284.12 526.20,284.06 526.70,283.90 527.20,283.89 527.70,283.95 528.20,283.95 528.70,284.02 529.20,284.05 529.70,284.02 530.20,283.85 530.70,283.92 531.20,284.00 531.70,283.96 532.20,283.90 532.70,283.86 533.20,284.02 533.70,284.01 534.20,283.96 534.70,283.69 535.20,283.97 535.70,283.85 536.20,284.18 536.70,283.90 537.20,284.17 537.70,284.13 538.20,284.08 538.70,284.02 539.20,283.98 539.70,283.96 540.20,283.97 540.70,284.05 541.20,283.69 541.70,283.95 542.20,283.92 542.70,283.76 543.20,283.88 543.70,283.93 544.20,283.96 544.70,283.78 545.20,284.13 545.70,284.11 546.20,283.98 546.70,284.24 547.20,284.09 547.70,283.87 548.20,284.05 548.70,283.98 549.20,283.92 549.70,284.14 550.20,283.97 550.70,284.07 551.20,284.13 551.70,284.03 552.20,284.01 552.70,284.05 553.20,284.08 553.70,283.89 554.20,283.86 554.70,283.93 555.20,284.01 555.70,284.13 556.20,284.10 556.70,284.13 557.20,283.98 557.70,283.89 558.20,283.89 558.70,284.00 559.20,284.05 559.70,283.98 560.20,283.99 560.70,283.93 561.20,283.82 561.70,284.08 562.20,283.75 562.70,284.25 563.20,284.21 563.70,284.18 564.20,284.12 564.70,284.03 565.20,283.75 565.70,284.08 566.20,283.87 566.70,284.04 567.20,283.98 567.70,284.12 568.20,283.73 568.70,284.00 569.20,284.07 569.70,283.73 570.20,283.98 570.70,283.95 571.20,284.02 571.70,284.10 572.20,284.17 572.70,284.02 573.20,283.81 573.70,283.95 574.20,284.02 574.70,283.87 575.20,284.11 575.70,283.84 576.20,284.00 576.70,284.10 577.20,283.92 577.70,283.94 578.20,284.04 578.70,283.97 579.20,283.88 579.70,283.83 580.20,284.10 580.70,284.31 581.20,283.76 581.70,284.03 582.20,284.05 582.70,283.95 583.20,284.05 583.70,283.88 584.20,284.15 584.70,284.02 585.20,284.15 585.70,283.82 586.20,284.03 586.70,283.87 587.20,283.84 587.70,284.14 588.20,284.03 588.70,283.91 589.20,283.99 589.70,284.02 590.20,283.90 590.70,283.89 591.20,284.07 591.70,284.02 592.20,283.92 592.70,283.97 593.20,283.98 593.70,284.13 594.20,283.79 594.70,284.03 595.20,283.97 595.70,284.00 596.20,283.99 596.70,283.98 597.20,284.10 597.70,283.96 598.20,283.86 598.70,283.95 599.20,283.91 599.70,283.94 600.20,284.00 600.70,283.78 601.20,284.08 601.70,283.95 602.20,283.88 602.70,283.97 603.20,284.13 603.70,284.13 604.20,283.81 604.70,284.11 605.20,284.00 605.70,283.94 606.20,283.99 606.70,284.21 607.20,284.23 607.70,284.01 608.20,284.09 608.70,284.03 609.20,283.99 609.70,283.98 610.20,284.16 610.70,284.20 611.20,283.89 611.70,284.07 612.20,284.14 612.70,284.24 613.20,283.94 613.70,284.15 614.20,284.12 614.70,283.93 615.20,283.96 615.70,283.93 616.20,284.15 616.70,284.34 617.20,284.12 617.70,284.04 618.20,284.08 618.70,283.89 619.20,283.96 619.70,284.12 620.20,283.93 620.70,284.02 621.20,284.06 621.70,283.87 622.20,284.20 622.70,283.88 623.20,283.87 623.70,284.25 624.20,284.02 624.70,284.02 625.20,284.14 625.70,284.07 626.20,284.10 626.70,283.99 627.20,284.07 627.70,284.26 628.20,283.86 628.70,283.89 629.20,284.10 629.70,283.90 630.20,283.76 630.70,284.19 631.20,284.05 631.70,284.06 632.20,283.93 632.70,284.04 633.20,284.17 633.70,283.85 634.20,284.04 634.70,283.91 635.20,283.73 635.70,284.09 636.20,284.05 636.70,283.89 637.20,284.01 637.70,283.94 638.20,284.00 638.70,283.66 639.20,283.92 639.70,283.96 640.20,283.98 640.70,283.95 641.20,284.20 641.70,284.03 642.20,283.91 642.70,284.14 643.20,283.99 643.70,284.01 644.20,284.06 644.70,283.70 645.20,283.91 645.70,283.96 646.20,284.09 646.70,283.99 647.20,284.04 647.70,284.01 648.20,283.97 648.70,283.70 649.20,283.84 649.70,283.79 650.20,283.84 650.70,283.66 651.20,284.08 651.70,284.15 652.20,283.97 652.70,283.97 653.20,284.00 653.70,284.07 654.20,283.92 654.70,283.79 655.20,283.97 655.70,284.03 656.20,283.86 656.70,284.04 657.20,284.04 657.70,283.96 658.20,284.27 658.70,283.77 659.20,284.01 659.70,283.94 660.20,283.96 660.70,283.95 661.20,284.16 661.70,283.79 662.20,283.93 662.70,283.96 663.20,283.62 663.70,284.15 664.20,283.91 664.70,284.01 665.20,284.18 665.70,283.77 666.20,284.19 666.70,283.98 667.20,284.01 667.70,283.98 668.20,284.11 668.70,283.84" fill="none" stroke="#111" stroke-width="1.2" stroke-linejoin="round"/>
<path d="M368.95,311.23 368.95,311.22 369.20,311.19 369.45,311.11 369.70,310.93 369.95,310.55 370.20,309.90 370.45,308.92 370.70,307.71 370.95,306.51 371.20,305.66 371.45,305.44 371.70,305.62 371.95,305.96 372.20,306.44 372.45,307.01 372.70,307.63 372.95,308.25 373.20,308.83 373.45,309.34 373.70,309.77 373.95,310.12 374.20,310.38 374.45,310.58 374.70,310.72 374.95,310.82 375.20,310.89 375.45,310.94 375.45,311.23Z" fill="#1fa8e6" stroke="none"/>
<path d="M385.05,311.25 385.05,311.24 385.30,311.23 385.55,311.18 385.80,311.08 386.05,310.88 386.30,310.51 386.55,309.98 386.80,309.31 387.05,308.65 387.30,308.18 387.55,308.06 387.80,308.15 388.05,308.34 388.30,308.61 388.55,308.92 388.80,309.27 389.05,309.61 389.30,309.93 389.55,310.21 389.80,310.45 390.05,310.64 390.30,310.78 390.55,310.89 390.80,310.97 391.05,311.02 391.30,311.06 391.55,311.09 391.55,311.25Z" fill="#1fa8e6" stroke="none"/>
<path d="M400.50,311.28 400.50,311.27 400.75,311.27 401.00,311.27 401.25,311.27 401.50,311.26 401.75,311.26 402.00,311.25 402.25,311.24 402.50,311.23 402.75,311.21 403.00,311.19 403.25,311.16 403.50,311.13 403.75,311.09 404.00,311.04 404.25,310.98 404.50,310.92 404.75,310.85 405.00,310.77 405.25,310.69 405.50,310.61 405.75,310.53 406.00,310.45 406.25,310.37 406.50,310.30 406.75,310.25 407.00,310.21 407.25,310.18 407.50,310.18 407.75,310.19 408.00,310.21 408.25,310.24 408.50,310.28 408.75,310.32 409.00,310.38 409.25,310.43 409.50,310.49 409.75,310.55 410.00,310.62 410.25,310.68 410.50,310.74 410.75,310.80 411.00,310.86 411.25,310.91 411.50,310.96 411.75,311.00 412.00,311.04 412.25,311.08 412.50,311.11 412.75,311.13 413.00,311.16 413.25,311.18 413.50,311.19 413.75,311.21 414.00,311.22 414.25,311.23 414.50,311.23 414.75,311.24 415.00,311.24 415.25,311.25 415.50,311.25 415.50,311.28Z" fill="#1fa8e6" stroke="none"/>
<path d="M448.60,311.33 448.60,311.29 448.85,311.22 449.10,311.05 449.35,310.67 449.60,309.94 449.85,308.65 450.10,306.66 450.35,303.93 450.60,300.72 450.85,297.51 451.10,295.02 451.35,293.86 451.60,293.97 451.85,294.25 452.10,294.64 452.35,295.14 452.60,295.73 452.85,296.40 453.10,297.15 453.35,297.96 453.60,298.81 453.85,299.69 454.10,300.59 454.35,301.48 454.60,302.37 454.85,303.24 455.10,304.07 455.35,304.85 455.60,305.60 455.85,306.28 456.10,306.92 456.35,307.49 456.60,308.01 456.85,308.48 457.10,308.89 457.35,309.25 457.60,309.56 457.85,309.83 458.10,310.06 458.35,310.25 458.60,310.42 458.85,310.56 459.10,310.67 459.35,310.77 459.60,310.85 459.85,310.91 460.10,310.97 460.35,311.01 460.35,311.33Z" fill="#33c033" stroke="none"/>
<path d="M346.70,311.16 347.20,311.38 347.70,311.37 348.20,311.16 348.70,311.36 349.20,311.14 349.70,311.16 350.20,311.29 350.70,311.47 351.20,311.39 351.70,311.16 352.20,311.28 352.70,310.95 353.20,311.27 353.70,311.15 354.20,311.11 354.70,311.20 355.20,311.17 355.70,311.07 356.20,311.23 356.70,311.16 357.20,311.26 357.70,310.93 358.20,311.19 358.70,311.10 359.20,311.63 359.70,311.28 360.20,311.37 360.70,311.21 361.20,311.28 361.70,311.36 362.20,311.26 362.70,311.10 363.20,311.07 363.70,311.29 363.95,311.07 364.20,311.31 364.45,311.13 364.70,311.34 364.95,311.08 365.20,310.90 365.45,311.26 365.70,311.05 365.95,311.43 366.20,311.31 366.45,310.85 366.70,311.23 366.95,311.15 367.20,311.45 367.45,311.23 367.70,311.34 367.95,311.06 368.20,311.30 368.45,310.87 368.70,311.38 368.95,311.17 369.20,311.47 369.45,311.16 369.70,310.75 369.95,310.56 370.20,310.08 370.45,308.85 370.70,307.58 370.95,306.45 371.20,305.52 371.45,305.64 371.70,305.36 371.95,305.86 372.20,306.73 372.45,306.75 372.70,307.70 372.95,308.18 373.20,309.11 373.45,309.43 373.70,310.03 373.95,310.00 374.20,310.42 374.45,310.71 374.70,310.78 374.95,310.67 375.20,311.00 375.45,310.86 375.70,311.14 375.95,311.23 376.20,311.09 376.45,311.08 376.70,311.03 376.95,310.93 377.20,311.13 377.45,311.14 377.70,310.99 377.95,311.04 378.20,311.12 378.45,311.09 378.70,311.43 378.95,311.21 379.20,311.36 379.45,311.20 379.95,311.03 380.20,311.40 380.45,311.04 380.70,311.25 380.95,311.21 381.20,311.25 381.45,311.09 381.70,311.28 381.95,311.48 382.20,311.15 382.45,311.22 382.70,311.11 382.95,311.12 383.20,311.38 383.45,311.18 383.70,311.20 383.95,311.23 384.20,311.20 384.45,311.18 384.70,311.30 384.95,311.24 385.20,311.07 385.45,311.33 385.70,311.12 385.95,311.10 386.20,310.81 386.45,310.25 386.70,309.54 386.95,308.67 387.20,308.35 387.45,307.92 387.70,308.02 387.95,308.24 388.20,308.92 388.45,308.77 388.70,309.11 388.95,309.61 389.20,309.78 389.45,309.89 389.70,310.51 389.95,310.63 390.20,310.60 390.45,311.10 390.70,311.09 390.95,310.96 391.20,310.92 391.45,310.91 391.70,311.00 391.95,310.80 392.20,311.08 392.45,311.32 392.70,311.18 392.95,311.07 393.20,311.11 393.45,311.44 393.70,311.12 393.95,311.29 394.20,311.21 394.45,310.98 394.70,311.22 394.95,311.29 395.20,311.22 395.45,311.30 395.70,310.92 396.20,311.10 396.70,311.09 397.20,311.32 397.70,311.32 398.20,311.20 398.70,311.55 399.20,311.10 399.70,311.43 399.95,311.23 400.20,311.20 400.45,311.36 400.70,311.20 400.95,311.15 401.20,310.98 401.45,311.19 401.70,310.99 401.95,311.17 402.20,311.25 402.45,311.09 402.70,311.27 402.95,311.16 403.20,311.07 403.45,310.96 403.70,311.04 403.95,311.24 404.20,310.80 404.45,310.90 404.70,310.90 404.95,310.89 405.20,310.62 405.45,310.57 405.70,310.44 405.95,310.47 406.20,310.16 406.45,310.35 406.70,310.20 406.95,310.18 407.20,310.04 407.45,310.27 407.70,310.22 407.95,310.23 408.20,310.33 408.45,310.36 408.70,310.48 408.95,310.26 409.20,310.21 409.45,310.62 409.70,310.44 409.95,310.77 410.20,310.78 410.45,310.78 410.70,310.78 410.95,310.79 411.20,311.17 411.45,311.14 411.70,310.99 411.95,311.07 412.20,310.78 412.45,311.15 412.70,311.23 412.95,310.99 413.20,311.55 413.45,311.46 413.70,310.83 413.95,311.31 414.20,311.22 414.45,311.27 414.70,311.37 414.95,311.27 415.20,311.44 415.45,311.13 415.70,311.16 416.20,311.17 416.70,311.40 417.20,311.55 417.70,311.35 418.20,311.43 418.70,311.23 419.20,311.51 419.70,311.41 420.20,311.27 420.70,311.23 421.20,311.28 421.70,311.47 422.20,311.39 422.70,311.01 423.20,311.16 423.70,311.41 424.20,311.03 424.70,311.31 425.20,311.30 425.70,311.41 426.20,311.09 426.70,311.28 427.20,311.31 427.70,311.43 428.20,311.48 428.70,311.28 429.20,311.30 429.70,311.09 430.20,311.43 430.70,311.36 431.20,311.17 431.70,311.19 432.20,311.40 432.70,311.10 433.20,311.24 433.70,311.18 434.20,311.26 434.70,311.17 435.20,311.37 435.70,311.34 436.20,311.16 436.70,311.26 437.20,311.26 437.70,311.15 438.20,311.28 438.70,311.26 439.20,311.62 439.70,311.39 440.20,311.20 440.70,311.44 441.20,311.36 441.70,311.29 442.20,311.34 442.70,311.20 443.20,311.25 443.70,311.35 443.95,311.17 444.20,311.37 444.45,311.42 444.70,311.28 444.95,311.23 445.20,311.34 445.45,311.47 445.70,311.40 445.95,311.29 446.20,311.23 446.45,311.08 446.70,311.35 446.95,311.36 447.20,311.63 447.45,311.15 447.70,311.20 447.95,311.32 448.20,311.42 448.45,311.67 448.70,311.17 448.95,311.28 449.20,310.72 449.45,310.33 449.70,309.32 449.95,307.96 450.20,305.48 450.45,302.88 450.70,299.19 450.95,296.40 451.20,294.53 451.45,293.92 451.70,294.21 451.95,294.36 452.20,294.93 452.45,295.54 452.70,296.04 452.95,296.73 453.20,297.44 453.45,298.20 453.70,298.99 453.95,299.99 454.20,300.72 454.45,302.19 454.70,302.74 454.95,303.45 455.20,304.58 455.45,305.19 455.70,305.85 455.95,306.77 456.20,307.24 456.45,307.63 456.70,308.26 456.95,308.44 457.20,308.71 457.45,309.39 457.70,309.84 457.95,309.94 458.20,310.23 458.45,310.53 458.70,310.54 458.95,310.68 459.20,310.77 459.45,310.68 459.95,310.80 460.45,310.98 460.95,311.15 461.45,311.09 461.95,311.18 462.45,311.17 462.95,311.36 463.45,311.67 463.95,311.13 464.45,311.35 464.95,311.35 465.45,311.29 465.95,311.30 466.45,311.34 466.95,311.09 467.45,311.29 467.95,311.29 468.45,311.45 468.95,311.34 469.45,311.27 469.95,311.34 470.45,311.29 470.95,311.47 471.45,311.29 471.95,311.49 472.45,311.41 472.95,311.46 473.45,311.32 473.95,311.20 474.45,311.31 474.95,311.48 475.45,311.34 475.95,311.21 476.45,311.26 476.95,311.29 477.45,311.52 477.95,311.44 478.45,311.46 478.95,311.43 479.45,311.33 479.95,311.36 480.45,311.41 480.95,311.29 481.45,311.47 481.95,311.41 482.45,311.35 482.95,311.56 483.45,311.49 483.95,311.56 484.45,311.52 484.95,311.39 485.45,311.39 485.95,311.33 486.45,311.33 486.95,311.53 487.45,311.12 487.95,311.19 488.45,311.55 488.95,311.47 489.45,311.44 489.95,311.35 490.45,311.29 490.95,311.38 491.45,311.74 491.95,310.98 492.45,311.26 492.95,311.27 493.45,311.49 493.95,311.37 494.45,311.25 494.95,311.45 495.45,311.23 495.95,311.37 496.45,311.17 496.95,311.38 497.45,311.18 497.95,311.61 498.45,311.19 498.95,311.33 499.45,311.44 499.95,311.24 500.45,311.43 500.95,311.28 501.45,311.26 501.95,311.25 502.45,311.09 502.95,311.20 503.45,311.05 503.95,311.30 504.45,311.37 504.95,311.34 505.45,311.40 505.95,311.57 506.45,311.38 506.95,311.56 507.45,311.44 507.95,311.44 508.45,311.48 508.95,311.55 509.45,311.39 509.95,311.41 510.45,311.21 510.95,311.32 511.45,311.27 511.95,311.47 512.45,311.45 512.95,311.58 513.45,311.53 513.95,311.31 514.45,311.44 514.95,311.43 515.45,311.49 515.95,311.19 516.45,311.42 516.95,311.25 517.45,311.42 517.95,311.28 518.45,311.55 518.95,311.60 519.45,311.26 519.95,311.46 520.45,311.38 520.95,311.30 521.45,311.32 521.95,311.38 522.45,311.58 522.95,311.52 523.45,311.41 523.95,311.33 524.45,311.35 524.95,311.37 525.45,311.53 525.95,311.42 526.45,311.29 526.95,311.54 527.45,311.50 527.95,311.30 528.45,311.21 528.95,311.37 529.45,311.43 529.95,311.56 530.45,311.45 530.95,311.54 531.45,311.41 531.95,311.33 532.45,311.37 532.95,311.25 533.45,311.57 533.95,311.61 534.45,311.24 534.95,311.29 535.45,311.57 535.95,311.42 536.45,311.58 536.95,311.44 537.45,311.39 537.95,311.30 538.45,311.57 538.95,311.62 539.45,311.36 539.95,311.49 540.45,311.25 540.95,311.60 541.45,311.53 541.95,311.82 542.45,311.29 542.95,311.26 543.45,311.39 543.95,311.49 544.45,311.73 544.95,311.64 545.45,311.52 545.95,311.18 546.45,311.32 546.95,311.53 547.45,311.39 547.95,311.37 548.45,311.38 548.95,311.58 549.45,311.51 549.95,311.31 550.45,311.36 550.95,311.50 551.45,311.11 551.95,311.42 552.45,311.51 552.95,311.33 553.45,311.34 553.95,311.47 554.45,311.21 554.95,311.31 555.45,311.46 555.95,311.36 556.45,311.37 556.95,311.50 557.45,311.36 557.95,311.54 558.45,311.50 558.95,311.37 559.45,311.64 559.95,311.51 560.45,311.60 560.95,311.37 561.45,311.55 561.95,311.21 562.45,311.25 562.95,311.56 563.45,311.45 563.95,311.52 564.45,311.47 564.95,311.38 565.45,311.26 565.95,311.17 566.45,311.22 566.95,311.65 567.45,311.54 567.95,311.50 568.45,311.52 568.95,311.46 569.45,311.39 569.95,311.54 570.45,311.56 570.95,311.15 571.45,311.38 571.95,311.18 572.45,311.56 572.95,311.29 573.45,311.25 573.95,311.30 574.45,311.59 574.95,311.41 575.45,311.59 575.95,311.64 576.45,311.49 576.95,311.41 577.45,311.51 577.95,311.50 578.45,311.40 578.95,311.58 579.45,311.43 579.95,311.38 580.45,311.40 580.95,311.41 581.45,311.63 581.95,311.53 582.45,311.55 582.95,311.39 583.45,311.74 583.95,311.47 584.45,311.72 584.95,311.40 585.45,311.57 585.95,311.49 586.45,311.37 586.95,311.26 587.45,311.64 587.95,311.48 588.45,311.77 588.95,311.53 589.45,311.60 589.95,311.41 590.45,311.52 590.95,311.49 591.45,311.66 591.95,311.55 592.45,311.66 592.95,311.50 593.45,311.73 593.95,311.47 594.45,311.35 594.95,311.14 595.45,311.30 595.95,311.32 596.45,311.40 596.95,311.29 597.45,311.52 597.95,311.46 598.45,311.77 598.95,311.58 599.45,311.35 599.95,311.75 600.45,311.47 600.95,311.52 601.45,311.56 601.95,311.47 602.45,311.51 602.95,311.67 603.45,311.53 603.95,311.77 604.45,311.31 604.95,311.52 605.45,311.40 605.95,311.65 606.45,311.26 606.95,311.38 607.45,311.47 607.95,311.49 608.45,311.47 608.95,311.63 609.45,311.54 609.95,311.56 610.45,311.47 610.95,311.31 611.45,311.37 611.95,311.49 612.45,311.44 612.95,311.57 613.45,311.60 613.95,311.75 614.45,311.71 614.95,311.70 615.45,311.54 615.95,311.56 616.45,311.47 616.95,311.37 617.45,311.44 617.95,311.56 618.45,311.60 618.95,311.58 619.45,311.45 619.95,311.66 620.45,311.75 620.95,311.57 621.45,311.39 621.95,311.37 622.45,311.46 622.95,311.81 623.45,311.56 623.95,311.44 624.45,311.39 624.95,311.29 625.45,311.68 625.95,311.49 626.45,311.76 626.95,311.58 627.45,311.60 627.95,311.43 628.45,311.53 628.95,311.79 629.45,311.57 629.95,311.50 630.45,311.35 630.95,311.65 631.45,311.67 631.95,311.63 632.45,311.41 632.95,311.59 633.45,311.54 633.95,311.49 634.45,311.67 634.95,311.41 635.45,311.78 635.95,311.30 636.45,311.65 636.95,311.69 637.45,311.66 637.95,311.72 638.45,311.68 638.95,311.67 639.45,311.72 639.95,311.59 640.45,311.52 640.95,311.65 641.45,311.54 641.95,311.68 642.45,311.54 642.95,311.61 643.45,311.72 643.95,311.55 644.45,311.59 644.95,311.66 645.45,311.58 645.95,311.50 646.45,311.74 646.95,311.64 647.45,311.49 647.95,311.57 648.45,311.47 648.95,311.24 649.45,311.75 649.95,311.53 650.45,311.63 650.95,311.38 651.45,311.50 651.95,311.77 652.45,311.43 652.95,311.58 653.45,311.62 653.95,311.58 654.45,311.55 654.95,311.70 655.45,311.64 655.95,311.40 656.45,311.73 656.95,311.67 657.45,311.48 657.95,311.72 658.45,311.62 658.95,311.55 659.45,311.71 659.95,311.63 660.45,311.72 660.95,311.62 661.45,311.55 661.95,311.59 662.45,311.56 662.95,311.54 663.45,311.48 663.95,311.74 664.45,311.58 664.95,311.38 665.45,311.63 665.95,311.63 666.45,311.60 666.95,311.70 667.45,311.52 667.95,311.60 668.45,311.62" fill="none" stroke="#111" stroke-width="1.2" stroke-linejoin="round"/>
<path d="M377.80,341.15 377.80,341.10 378.05,340.99 378.30,340.74 378.55,340.18 378.80,339.08 379.05,337.17 379.30,334.21 379.55,330.17 379.80,325.38 380.05,320.63 380.30,316.92 380.55,315.20 380.80,315.39 381.05,315.92 381.30,316.69 381.55,317.68 381.80,318.87 382.05,320.22 382.30,321.70 382.55,323.26 382.80,324.87 383.05,326.49 383.30,328.08 383.55,329.61 383.80,331.06 384.05,332.41 384.30,333.64 384.55,334.75 384.80,335.74 385.05,336.61 385.30,337.35 385.55,337.99 385.80,338.53 386.05,338.97 386.30,339.34 386.55,339.64 386.80,339.89 387.05,340.08 387.30,340.24 387.55,340.37 387.80,340.47 387.80,341.15Z" fill="#ff0000" stroke="none"/>
<path d="M408.95,341.20 408.95,341.16 409.20,341.05 409.45,340.77 409.70,340.12 409.95,338.78 410.20,336.44 410.45,332.96 410.70,328.65 410.95,324.36 411.20,321.33 411.45,320.54 411.70,320.96 411.95,321.75 412.20,322.86 412.45,324.24 412.70,325.81 412.95,327.49 413.20,329.22 413.45,330.91 413.70,332.51 413.95,333.97 414.20,335.27 414.45,336.40 414.70,337.34 414.95,338.12 415.20,338.74 415.45,339.23 415.70,339.61 415.95,339.90 416.20,340.11 416.45,340.28 416.70,340.40 416.70,341.20Z" fill="#1fa8e6" stroke="none"/>
<path d="M436.25,341.24 436.25,341.20 436.50,341.13 436.75,340.98 437.00,340.67 437.25,340.08 437.50,339.07 437.75,337.48 438.00,335.22 438.25,332.31 438.50,328.99 438.75,325.68 439.00,322.94 439.25,321.32 439.50,321.12 439.75,321.41 440.00,321.85 440.25,322.43 440.50,323.15 440.75,323.98 441.00,324.91 441.25,325.92 441.50,326.98 441.75,328.08 442.00,329.20 442.25,330.31 442.50,331.39 442.75,332.44 443.00,333.44 443.25,334.38 443.50,335.25 443.75,336.04 444.00,336.76 444.25,337.40 444.50,337.97 444.75,338.47 445.00,338.90 445.25,339.27 445.50,339.58 445.75,339.85 446.00,340.07 446.25,340.25 446.50,340.41 446.75,340.53 447.00,340.63 447.25,340.72 447.50,340.79 447.50,341.24Z" fill="#33c033" stroke="none"/>
<path d="M346.70,341.00 347.20,340.93 347.70,341.30 348.20,341.17 348.70,341.14 349.20,341.30 349.70,341.01 350.20,340.81 350.70,340.99 351.20,340.93 351.70,341.38 352.20,341.17 352.70,341.29 353.20,341.00 353.70,341.13 354.20,341.14 354.70,341.04 355.20,341.01 355.70,340.89 356.20,340.92 356.70,340.99 357.20,341.34 357.70,340.94 358.20,341.10 358.70,341.33 359.20,341.10 359.70,341.15 360.20,341.13 360.70,340.99 361.20,341.31 361.70,341.03 362.20,340.96 362.70,341.28 363.20,340.93 363.70,341.22 364.20,341.23 364.70,341.00 365.20,341.13 365.70,341.39 366.20,341.22 366.70,341.04 367.20,341.21 367.70,341.20 368.20,341.13 368.70,341.14 369.20,341.23 369.70,341.27 370.20,341.07 370.70,340.97 371.20,341.49 371.70,341.08 372.20,341.00 372.70,341.26 372.95,340.94 373.20,341.35 373.45,341.01 373.70,340.92 373.95,340.93 374.20,341.51 374.45,341.13 374.70,341.28 374.95,341.09 375.20,340.95 375.45,341.09 375.70,340.92 375.95,341.38 376.20,341.26 376.45,341.22 376.70,341.05 376.95,340.98 377.20,341.26 377.45,341.27 377.70,340.99 377.95,341.23 378.20,340.78 378.45,340.56 378.70,339.61 378.95,337.76 379.20,335.56 379.45,331.89 379.70,327.46 379.95,322.38 380.20,317.99 380.45,315.52 380.70,315.43 380.95,315.63 381.20,316.14 381.45,317.40 381.70,318.40 381.95,319.80 382.20,321.18 382.45,322.77 382.70,324.42 382.95,325.78 383.20,327.46 383.45,329.31 383.70,330.64 383.95,331.99 384.20,333.32 384.45,334.31 384.70,335.40 384.95,336.23 385.20,337.26 385.45,337.86 385.70,338.39 385.95,338.87 386.20,339.26 386.45,339.64 386.70,339.82 386.95,339.79 387.20,340.30 387.45,340.56 387.70,340.40 387.95,340.66 388.20,340.49 388.45,340.51 388.70,340.47 389.20,340.76 389.70,341.07 390.20,340.66 390.70,340.79 391.20,340.77 391.70,340.96 392.20,341.05 392.70,341.02 393.20,341.30 393.70,340.92 394.20,341.16 394.70,341.17 395.20,341.04 395.70,341.23 396.20,341.00 396.70,341.21 397.20,340.80 397.70,340.96 398.20,341.05 398.70,341.10 399.20,341.14 399.70,341.22 400.20,341.43 400.70,341.24 401.20,341.28 401.70,341.24 402.20,341.16 402.70,341.44 403.20,341.35 403.70,341.27 403.95,341.24 404.20,341.05 404.45,340.81 404.70,341.20 404.95,341.09 405.20,341.18 405.45,341.15 405.70,340.94 405.95,341.16 406.20,341.11 406.45,341.18 406.70,341.27 406.95,341.04 407.20,341.21 407.45,340.98 407.70,341.35 407.95,341.13 408.20,340.95 408.45,341.28 408.70,341.13 408.95,340.94 409.20,340.98 409.45,340.88 409.70,340.16 409.95,338.73 410.20,336.51 410.45,333.01 410.70,328.62 410.95,324.53 411.20,321.09 411.45,320.62 411.70,320.96 411.95,321.73 412.20,322.66 412.45,324.29 412.70,325.52 412.95,327.23 413.20,329.11 413.45,331.10 413.70,332.69 413.95,334.01 414.20,335.24 414.45,336.31 414.70,337.17 414.95,338.06 415.20,338.74 415.45,339.18 415.70,339.90 415.95,339.74 416.20,340.33 416.45,340.55 416.70,340.50 416.95,340.56 417.20,340.74 417.45,340.66 417.70,340.66 417.95,340.63 418.20,340.69 418.45,340.85 418.70,340.79 418.95,340.65 419.20,340.89 419.45,340.90 419.95,341.22 420.45,340.91 420.95,340.70 421.45,340.91 421.95,341.07 422.45,340.88 422.95,340.90 423.45,340.90 423.95,341.27 424.45,341.28 424.95,341.03 425.45,341.07 425.95,341.09 426.45,341.37 426.95,341.06 427.45,340.91 427.95,341.02 428.45,340.83 428.95,341.13 429.45,341.18 429.95,340.95 430.45,341.06 430.95,341.53 431.45,341.43 431.70,341.18 431.95,341.29 432.20,340.96 432.45,341.00 432.70,341.04 432.95,341.26 433.20,341.25 433.45,341.11 433.70,341.27 433.95,341.13 434.20,341.18 434.45,341.12 434.70,341.21 434.95,341.33 435.20,341.64 435.45,341.42 435.70,341.43 435.95,341.12 436.20,341.40 436.45,341.22 436.70,340.94 436.95,340.64 437.20,340.07 437.45,339.24 437.70,337.62 437.95,335.80 438.20,332.77 438.45,329.86 438.70,326.37 438.95,323.35 439.20,321.44 439.45,321.11 439.70,321.43 439.95,321.92 440.20,322.62 440.45,323.27 440.70,323.58 440.95,324.97 441.20,325.93 441.45,327.00 441.70,327.90 441.95,329.01 442.20,330.17 442.45,331.37 442.70,332.26 442.95,333.45 443.20,334.16 443.45,334.88 443.70,336.03 443.95,336.60 444.20,337.36 444.45,337.93 444.70,338.57 444.95,338.82 445.20,339.21 445.45,339.35 445.70,339.47 445.95,340.19 446.20,340.07 446.45,340.51 446.70,340.60 446.95,340.79 447.20,340.65 447.45,340.61 447.95,340.91 448.45,340.93 448.95,341.13 449.45,341.10 449.95,341.27 450.45,341.12 450.95,341.41 451.45,340.82 451.95,340.98 452.45,341.25 452.95,341.25 453.45,341.26 453.95,341.19 454.45,341.18 454.95,340.95 455.45,341.29 455.95,341.50 456.45,341.20 456.95,341.18 457.45,341.36 457.95,341.14 458.45,341.28 458.95,341.37 459.45,341.27 459.95,341.45 460.45,341.32 460.95,341.03 461.45,341.10 461.95,341.19 462.45,341.26 462.95,341.24 463.45,341.44 463.95,341.25 464.45,341.38 464.95,341.37 465.45,341.06 465.95,341.39 466.45,341.28 466.95,341.27 467.45,341.15 467.95,341.32 468.45,341.22 468.95,341.23 469.45,341.32 469.95,341.37 470.45,341.44 470.95,341.14 471.45,341.42 471.95,341.13 472.45,341.06 472.95,341.37 473.45,341.43 473.95,341.44 474.45,341.37 474.95,341.11 475.45,341.41 475.95,341.45 476.45,341.53 476.95,341.29 477.45,341.24 477.95,341.09 478.45,341.27 478.95,341.31 479.45,341.31 479.95,340.90 480.45,341.08 480.95,341.18 481.45,341.36 481.95,341.34 482.45,341.32 482.95,341.32 483.45,341.24 483.95,341.41 484.45,341.05 484.95,341.45 485.45,341.22 485.95,341.21 486.45,341.18 486.95,341.12 487.45,341.27 487.95,341.29 488.45,341.11 488.95,341.14 489.45,341.32 489.95,341.20 490.45,341.49 490.95,341.27 491.45,341.61 491.95,341.15 492.45,341.41 492.95,341.19 493.45,341.26 493.95,341.41 494.45,341.21 494.95,341.09 495.45,341.45 495.95,341.06 496.45,341.27 496.95,341.45 497.45,341.37 497.95,341.28 498.45,341.23 498.95,341.44 499.45,341.38 499.95,341.26 500.45,341.30 500.95,341.06 501.45,341.22 501.95,341.21 502.45,341.46 502.95,341.46 503.45,341.48 503.95,341.35 504.45,341.25 504.95,341.10 505.45,341.20 505.95,341.46 506.45,341.35 506.95,341.04 507.45,341.32 507.95,341.27 508.45,341.54 508.95,341.54 509.45,341.41 509.95,341.38 510.45,341.27 510.95,341.37 511.45,341.59 511.95,341.01 512.45,341.30 512.95,341.59 513.45,341.12 513.95,341.23 514.45,341.38 514.95,341.35 515.45,341.28 515.95,341.68 516.45,341.22 516.95,341.32 517.45,341.26 517.95,341.44 518.45,341.45 518.95,341.14 519.45,341.83 519.95,341.19 520.45,341.20 520.95,341.59 521.45,341.40 521.95,341.46 522.45,341.44 522.95,341.54 523.45,341.55 523.95,341.36 524.45,341.41 524.95,341.29 525.45,341.26 525.95,341.45 526.45,341.08 526.95,341.14 527.45,341.59 527.95,341.40 528.45,341.42 528.95,341.32 529.45,341.52 529.95,341.15 530.45,341.43 530.95,341.08 531.45,341.49 531.95,341.11 532.45,341.32 532.95,341.25 533.45,341.34 533.95,341.33 534.45,341.52 534.95,341.41 535.45,341.49 535.95,341.42 536.45,341.44 536.95,341.28 537.45,341.35 537.95,341.43 538.45,341.64 538.95,341.26 539.45,341.50 539.95,341.45 540.45,341.33 540.95,341.40 541.45,341.39 541.95,341.38 542.45,341.66 542.95,341.30 543.45,341.43 543.95,341.29 544.45,341.39 544.95,341.46 545.45,341.20 545.95,341.39 546.45,341.26 546.95,341.32 547.45,341.30 547.95,341.26 548.45,341.32 548.95,341.54 549.45,341.44 549.95,341.22 550.45,341.43 550.95,341.46 551.45,341.41 551.95,341.28 552.45,341.53 552.95,341.42 553.45,341.48 553.95,341.51 554.45,341.31 554.95,341.50 555.45,341.41 555.95,341.37 556.45,341.36 556.95,341.36 557.45,341.32 557.95,341.53 558.45,341.76 558.95,341.31 559.45,341.20 559.95,341.48 560.45,341.42 560.95,341.31 561.45,341.54 561.95,341.44 562.45,341.49 562.95,341.36 563.45,341.42 563.95,341.20 564.45,341.56 564.95,341.53 565.45,341.63 565.95,341.41 566.45,341.45 566.95,341.47 567.45,341.36 567.95,341.57 568.45,341.64 568.95,341.15 569.45,341.44 569.95,341.58 570.45,341.30 570.95,341.43 571.45,341.58 571.95,341.40 572.45,341.30 572.95,341.35 573.45,341.46 573.95,341.22 574.45,341.57 574.95,341.48 575.45,341.39 575.95,341.59 576.45,341.36 576.95,341.40 577.45,341.32 577.95,341.41 578.45,341.18 578.95,341.64 579.45,341.51 579.95,341.53 580.45,341.46 580.95,341.37 581.45,341.60 581.95,341.32 582.45,341.31 582.95,341.44 583.45,341.65 583.95,341.38 584.45,341.40 584.95,341.59 585.45,341.56 585.95,341.54 586.45,341.66 586.95,341.42 587.45,341.31 587.95,341.42 588.45,341.56 588.95,341.48 589.45,341.47 589.95,341.22 590.45,341.53 590.95,341.40 591.45,341.52 591.95,341.31 592.45,341.59 592.95,341.41 593.45,341.53 593.95,341.40 594.45,341.67 594.95,341.49 595.45,341.33 595.95,341.39 596.45,341.63 596.95,341.13 597.45,341.42 597.95,341.52 598.45,341.53 598.95,341.61 599.45,341.27 599.95,341.31 600.45,341.29 600.95,341.63 601.45,341.75 601.95,341.79 602.45,341.69 602.95,341.57 603.45,341.66 603.95,341.73 604.45,341.43 604.95,341.59 605.45,341.46 605.95,341.33 606.45,341.61 606.95,341.57 607.45,341.33 607.95,341.71 608.45,341.57 608.95,341.67 609.45,341.54 609.95,341.60 610.45,341.48 610.95,341.58 611.45,341.35 611.95,341.62 612.45,341.53 612.95,341.42 613.45,341.64 613.95,341.61 614.45,341.54 614.95,341.58 615.45,341.41 615.95,341.62 616.45,341.73 616.95,341.43 617.45,341.64 617.95,341.62 618.45,341.56 618.95,341.37 619.45,341.42 619.95,341.50 620.45,341.49 620.95,341.59 621.45,341.29 621.95,341.39 622.45,341.65 622.95,341.41 623.45,341.72 623.95,341.65 624.45,341.63 624.95,341.31 625.45,341.26 625.95,341.53 626.45,341.61 626.95,341.35 627.45,341.61 627.95,341.32 628.45,341.67 628.95,341.40 629.45,341.65 629.95,341.30 630.45,341.52 630.95,341.63 631.45,341.53 631.95,341.88 632.45,341.54 632.95,341.45 633.45,341.22 633.95,341.70 634.45,341.38 634.95,341.37 635.45,341.45 635.95,341.60 636.45,341.53 636.95,341.67 637.45,341.51 637.95,341.71 638.45,341.62 638.95,341.54 639.45,341.68 639.95,341.73 640.45,341.57 640.95,341.52 641.45,341.47 641.95,341.50 642.45,341.33 642.95,341.56 643.45,341.38 643.95,341.70 644.45,341.47 644.95,341.46 645.45,341.30 645.95,341.65 646.45,341.31 646.95,341.58 647.45,341.62 647.95,341.80 648.45,341.44 648.95,341.64 649.45,341.45 649.95,341.55 650.45,341.46 650.95,341.56 651.45,341.67 651.95,341.63 652.45,341.57 652.95,341.51 653.45,341.68 653.95,341.45 654.45,341.86 654.95,341.76 655.45,341.48 655.95,341.53 656.45,341.29 656.95,341.43 657.45,341.72 657.95,341.73 658.45,341.58 658.95,341.59 659.45,341.48 659.95,341.66 660.45,341.69 660.95,341.69 661.45,341.59 661.95,341.71 662.45,341.61 662.95,341.49 663.45,341.62 663.95,341.75 664.45,341.52 664.95,341.49 665.45,341.72 665.95,341.65 666.45,341.82 666.95,341.75 667.45,341.76 667.95,341.79 668.45,341.69" fill="none" stroke="#111" stroke-width="1.2" stroke-linejoin="round"/>
<path d="M348.40,368.60 348.40,368.60 348.65,368.59 348.90,368.57 349.15,368.52 349.40,368.42 349.65,368.24 349.90,368.00 350.15,367.76 350.40,367.62 350.65,367.62 350.90,367.72 351.15,367.87 351.40,368.04 351.65,368.20 351.90,368.33 352.15,368.42 352.40,368.48 352.65,368.51 352.90,368.53 352.90,368.60Z" fill="#33c033" stroke="none"/>
<path d="M355.10,368.61 355.10,368.60 355.35,368.59 355.60,368.55 355.85,368.45 356.10,368.23 356.35,367.87 356.60,367.39 356.85,366.92 357.10,366.63 357.35,366.64 357.60,366.79 357.85,367.05 358.10,367.35 358.35,367.65 358.60,367.91 358.85,368.12 359.10,368.27 359.35,368.36 359.60,368.42 359.85,368.46 359.85,368.61Z" fill="#33c033" stroke="none"/>
<path d="M360.90,368.61 360.90,368.61 361.15,368.60 361.40,368.58 361.65,368.53 361.90,368.42 362.15,368.24 362.40,368.00 362.65,367.77 362.90,367.62 363.15,367.63 363.40,367.72 363.65,367.88 363.90,368.05 364.15,368.21 364.40,368.34 364.65,368.43 364.90,368.48 365.15,368.52 365.40,368.53 365.40,368.61Z" fill="#33c033" stroke="none"/>
<path d="M460.45,368.67 460.45,368.62 460.70,368.54 460.95,368.36 461.20,367.99 461.45,367.29 461.70,366.09 461.95,364.20 462.20,361.51 462.45,358.06 462.70,354.12 462.95,350.18 463.20,346.93 463.45,345.00 463.70,344.76 463.95,345.09 464.20,345.59 464.45,346.25 464.70,347.05 464.95,347.98 465.20,349.02 465.45,350.16 465.70,351.36 465.95,352.61 466.20,353.88 466.45,355.16 466.70,356.42 466.95,357.64 467.20,358.82 467.45,359.93 467.70,360.97 467.95,361.93 468.20,362.81 468.45,363.61 468.70,364.32 468.95,364.95 469.20,365.50 469.45,365.99 469.70,366.40 469.95,366.75 470.20,367.05 470.45,367.31 470.70,367.52 470.95,367.69 471.20,367.84 471.45,367.96 471.70,368.06 471.95,368.14 472.20,368.20 472.20,368.67Z" fill="#33c033" stroke="none"/>
<path d="M346.70,368.40 346.95,368.65 347.20,368.79 347.45,368.57 347.70,368.55 347.95,368.59 348.20,368.17 348.45,368.48 348.70,367.92 348.95,368.74 349.20,368.37 349.45,368.30 349.70,367.71 349.95,368.12 350.20,367.23 350.45,367.62 350.70,366.68 350.95,367.88 351.20,367.67 351.45,367.51 351.70,368.29 351.95,368.32 352.20,368.31 352.45,368.48 352.70,368.24 352.95,367.76 353.20,368.72 353.45,367.30 353.70,368.62 353.95,368.23 354.20,366.97 354.45,368.66 354.70,368.33 354.95,368.54 355.20,368.63 355.45,368.65 355.70,368.54 355.95,368.46 356.20,368.27 356.45,367.44 356.70,367.15 356.95,366.80 357.20,366.58 357.45,366.73 357.70,366.97 357.95,367.12 358.20,367.61 358.45,367.79 358.70,367.89 358.95,368.06 359.20,368.42 359.45,368.33 359.70,368.34 359.95,368.34 360.20,368.65 360.45,368.57 360.70,368.49 360.95,368.64 361.20,367.94 361.45,368.64 361.70,368.51 361.95,367.62 362.20,367.89 362.45,367.30 362.70,367.82 362.95,366.90 363.20,366.78 363.45,367.81 363.70,367.92 363.95,367.14 364.20,368.35 364.45,367.20 364.70,368.19 364.95,368.51 365.20,368.34 365.45,368.67 365.70,367.65 365.95,367.75 366.20,368.70 366.45,367.51 366.70,367.48 366.95,367.80 367.20,368.74 367.45,368.50 367.70,367.96 367.95,368.02 368.20,368.70 368.45,366.93 368.70,368.61 368.95,368.50 369.20,368.68 369.45,367.97 369.70,368.57 369.95,368.29 370.20,368.34 370.45,368.24 370.70,368.54 370.95,368.40 371.20,368.25 371.70,368.47 372.20,367.98 372.70,368.55 373.20,368.53 373.70,368.54 374.20,368.74 374.70,368.59 375.20,368.79 375.70,368.55 376.20,368.73 376.70,368.63 377.20,368.35 377.70,368.76 378.20,368.41 378.70,368.81 379.20,368.53 379.70,368.75 380.20,368.50 380.70,368.76 381.20,368.06 381.70,368.56 382.20,368.53 382.70,368.77 383.20,368.52 383.70,368.68 384.20,367.52 384.70,368.62 385.20,368.40 385.70,368.50 386.20,368.43 386.70,368.77 387.20,368.65 387.70,368.60 388.20,368.55 388.70,368.60 389.20,368.60 389.70,368.72 390.20,368.75 390.70,368.21 391.20,368.58 391.70,367.34 392.20,368.50 392.70,368.81 393.20,368.45 393.70,368.80 394.20,368.78 394.70,368.51 395.20,368.18 395.70,368.57 396.20,367.61 396.70,368.49 397.20,368.16 397.70,368.38 398.20,367.95 398.70,368.50 399.20,368.83 399.70,367.89 400.20,368.62 400.70,368.51 401.20,368.28 401.70,368.60 402.20,368.49 402.70,367.99 403.20,368.71 403.45,368.79 403.70,368.66 403.95,366.85 404.20,368.38 404.45,368.55 404.70,368.47 404.95,368.77 405.20,368.22 405.45,368.73 405.70,368.19 405.95,368.58 406.20,368.50 406.45,368.05 406.70,368.71 406.95,368.50 407.20,368.56 407.45,368.67 407.70,368.61 407.95,368.59 408.20,368.68 408.45,368.72 408.70,367.90 408.95,368.74 409.20,368.68 409.45,368.68 409.70,368.42 409.95,368.04 410.20,368.67 410.45,368.16 410.70,367.13 410.95,363.56 411.20,363.01 411.45,364.97 411.70,366.83 411.95,367.96 412.20,367.73 412.45,367.98 412.70,368.07 412.95,368.13 413.20,368.37 413.45,367.36 413.70,368.37 413.95,368.05 414.20,367.73 414.45,367.78 414.70,368.54 414.95,368.43 415.20,368.47 415.45,368.42 415.70,368.41 415.95,368.53 416.20,368.55 416.45,368.43 416.70,368.57 416.95,368.61 417.20,368.62 417.45,368.55 417.70,368.69 417.95,368.65 418.20,368.53 418.45,368.38 418.70,368.72 418.95,368.57 419.20,368.25 419.70,368.49 420.20,367.78 420.70,368.69 421.20,368.15 421.70,368.50 422.20,368.47 422.70,368.52 423.20,367.60 423.70,368.72 424.20,368.61 424.70,368.46 425.20,368.18 425.70,368.33 426.20,368.70 426.70,368.46 427.20,368.23 427.70,368.72 428.20,368.15 428.70,368.76 429.20,368.01 429.70,368.66 430.20,368.59 430.70,368.33 431.20,368.83 431.70,368.57 432.20,366.90 432.70,368.61 433.20,368.82 433.70,368.42 434.20,368.62 434.70,368.85 435.20,368.70 435.70,368.51 436.20,368.35 436.70,367.94 437.20,368.24 437.70,368.84 438.20,368.53 438.70,368.63 439.20,368.53 439.70,368.58 440.20,368.75 440.70,368.69 441.20,368.53 441.70,368.20 442.20,368.28 442.70,368.63 443.20,368.84 443.70,368.59 444.20,368.56 444.70,368.76 445.20,368.21 445.70,368.73 446.20,368.65 446.70,368.03 447.20,367.88 447.70,368.19 448.20,368.52 448.70,368.81 449.20,368.43 449.70,368.27 450.20,368.56 450.70,368.83 451.20,368.70 451.70,368.80 452.20,368.23 452.70,368.14 453.20,368.81 453.70,368.60 454.20,367.74 454.70,368.82 455.20,368.70 455.70,368.73 455.95,368.78 456.20,368.22 456.45,368.79 456.70,367.87 456.95,368.63 457.20,368.46 457.45,368.54 457.70,368.78 457.95,368.85 458.20,368.69 458.45,368.85 458.70,368.64 458.95,368.84 459.20,368.84 459.45,368.12 459.70,367.75 459.95,368.82 460.20,368.58 460.45,368.70 460.70,367.97 460.95,368.52 461.20,367.32 461.45,367.26 461.70,365.64 461.95,364.34 462.20,361.62 462.45,357.90 462.70,354.15 462.95,349.67 463.20,345.39 463.45,344.61 463.70,342.89 463.95,345.14 464.20,345.64 464.45,346.25 464.70,346.11 464.95,348.15 465.20,349.09 465.45,350.09 465.70,351.23 465.95,352.32 466.20,353.91 466.45,355.23 466.70,356.51 466.95,357.72 467.20,357.82 467.45,360.00 467.70,360.88 467.95,362.04 468.20,362.27 468.45,363.66 468.70,364.47 468.95,364.49 469.20,364.62 469.45,366.04 469.70,366.22 469.95,366.86 470.20,367.06 470.45,367.19 470.70,367.63 470.95,367.74 471.20,367.21 471.45,367.81 471.70,368.19 472.20,368.26 472.70,367.55 473.20,368.27 473.70,368.52 474.20,368.52 474.70,368.52 475.20,368.70 475.70,368.52 476.20,368.17 476.70,368.74 477.20,368.60 477.70,368.76 478.20,368.46 478.70,368.76 479.20,368.12 479.70,367.89 480.20,368.66 480.70,368.57 481.20,368.23 481.70,368.63 482.20,367.74 482.70,368.27 483.20,368.33 483.70,368.85 484.20,367.95 484.70,368.53 485.20,368.27 485.70,368.76 486.20,367.49 486.70,368.86 487.20,367.70 487.70,368.47 488.20,368.70 488.70,368.48 489.20,368.86 489.70,368.73 490.20,368.42 490.70,368.80 491.20,368.49 491.70,368.80 492.20,368.79 492.70,368.25 493.20,367.67 493.70,368.71 494.20,368.83 494.70,368.65 495.20,368.80 495.70,368.78 496.20,368.67 496.70,368.63 497.20,368.79 497.70,368.65 498.20,367.65 498.70,368.58 499.20,368.75 499.70,368.75 500.20,368.66 500.70,368.15 501.20,367.89 501.70,368.72 502.20,367.30 502.70,368.57 503.20,368.68 503.70,368.03 504.20,368.19 504.70,368.89 505.20,368.88 505.70,368.57 506.20,368.73 506.70,368.74 507.20,368.77 507.70,368.67 508.20,368.81 508.70,368.32 509.20,368.83 509.70,368.78 510.20,368.87 510.70,368.73 511.20,368.82 511.70,368.64 512.20,368.80 512.70,368.83 513.20,368.58 513.70,368.69 514.20,368.75 514.70,368.54 515.20,368.70 515.70,367.95 516.20,368.21 516.70,368.63 517.20,368.89 517.70,368.90 518.20,367.64 518.70,368.73 519.20,368.89 519.70,368.87 520.20,368.80 520.70,368.67 521.20,368.90 521.70,368.60 522.20,368.19 522.70,368.76 523.20,368.38 523.70,368.83 524.20,368.78 524.70,368.77 525.20,367.81 525.70,368.03 526.20,367.91 526.70,367.83 527.20,368.22 527.70,368.75 528.20,368.08 528.70,368.29 529.20,368.03 529.70,368.91 530.20,368.77 530.70,368.21 531.20,367.78 531.70,368.39 532.20,368.32 532.70,368.88 533.20,368.82 533.70,368.83 534.20,368.90 534.70,368.17 535.20,368.71 535.70,368.75 536.20,368.56 536.70,368.88 537.20,368.75 537.70,368.88 538.20,368.74 538.70,368.64 539.20,367.77 539.70,368.65 540.20,368.82 540.70,368.84 541.20,368.30 541.70,368.87 542.20,368.81 542.70,368.83 543.20,368.91 543.70,368.61 544.20,368.67 544.70,368.51 545.20,368.64 545.70,368.44 546.20,368.90 546.70,368.28 547.20,368.85 547.70,368.53 548.20,368.72 548.70,368.83 549.20,368.44 549.70,368.40 550.20,368.75 550.70,368.82 551.20,368.57 551.70,368.31 552.20,368.66 552.70,368.86 553.20,368.28 553.70,368.43 554.20,368.92 554.70,368.77 555.20,368.48 555.70,368.68 556.20,368.83 556.70,367.74 557.20,368.83 557.70,368.90 558.20,368.58 558.70,368.91 559.20,368.84 559.70,368.78 560.20,368.49 560.70,367.49 561.20,368.65 561.70,368.28 562.20,368.09 562.70,368.56 563.20,368.88 563.70,368.79 564.20,368.56 564.70,368.79 565.20,368.54 565.70,368.76 566.20,368.40 566.70,368.71 567.20,368.27 567.70,368.28 568.20,368.92 568.70,368.32 569.20,368.81 569.70,367.81 570.20,368.68 570.70,368.94 571.20,368.61 571.70,368.91 572.20,368.93 572.70,368.65 573.20,368.75 573.70,368.79 574.20,368.93 574.70,368.46 575.20,368.89 575.70,368.78 576.20,368.62 576.70,368.64 577.20,368.87 577.70,368.61 578.20,367.97 578.70,368.81 579.20,368.82 579.70,368.76 580.20,368.91 580.70,368.07 581.20,368.83 581.70,367.92 582.20,368.56 582.70,368.07 583.20,368.86 583.70,368.76 584.20,368.90 584.70,368.94 585.20,368.64 585.70,368.77 586.20,368.88 586.70,368.92 587.20,368.81 587.70,368.73 588.20,368.68 588.70,368.46 589.20,368.87 589.70,368.26 590.20,368.04 590.70,368.59 591.20,368.47 591.70,368.64 592.20,368.80 592.70,368.72 593.20,368.38 593.70,368.88 594.20,368.81 594.70,368.34 595.20,368.08 595.70,368.82 596.20,368.95 596.70,368.52 597.20,368.73 597.70,368.58 598.20,368.92 598.70,368.83 599.20,367.99 599.70,368.93 600.20,368.39 600.70,368.93 601.20,368.93 601.70,368.69 602.20,368.00 602.70,368.27 603.20,368.85 603.70,368.78 604.20,368.87 604.70,368.81 605.20,368.86 605.70,368.00 606.20,368.94 606.70,367.74 607.20,368.31 607.70,368.78 608.20,368.75 608.70,368.94 609.20,368.77 609.70,368.61 610.20,368.73 610.70,368.88 611.20,368.79 611.70,368.01 612.20,368.84 612.70,367.78 613.20,368.89 613.70,367.75 614.20,368.94 614.70,368.79 615.20,368.78 615.70,368.41 616.20,368.74 616.70,368.93 617.20,368.88 617.70,368.94 618.20,368.96 618.70,368.44 619.20,368.49 619.70,368.15 620.20,368.43 620.70,368.61 621.20,368.76 621.70,368.42 622.20,368.71 622.70,368.58 623.20,368.80 623.70,368.84 624.20,368.44 624.70,368.85 625.20,367.73 625.70,368.18 626.20,368.96 626.70,368.82 627.20,368.55 627.70,368.42 628.20,368.51 628.70,368.34 629.20,368.89 629.70,368.80 630.20,368.97 630.70,368.09 631.20,368.73 631.70,368.81 632.20,368.09 632.70,368.91 633.20,367.29 633.70,368.57 634.20,368.97 634.70,368.60 635.20,368.82 635.70,368.89 636.20,368.82 636.70,368.32 637.20,367.89 637.70,368.61 638.20,368.64 638.70,368.72 639.20,368.95 639.70,368.20 640.20,368.78 640.70,368.96 641.20,368.38 641.70,368.67 642.20,368.84 642.70,368.84 643.20,368.76 643.70,368.59 644.20,368.67 644.70,368.87 645.20,368.96 645.70,368.89 646.20,368.74 646.70,368.74 647.20,368.98 647.70,368.77 648.20,368.58 648.70,367.54 649.20,368.63 649.70,368.66 650.20,368.57 650.70,368.98 651.20,368.98 651.70,368.79 652.20,368.96 652.70,368.24 653.20,368.86 653.70,368.96 654.20,368.99 654.70,368.96 655.20,368.95 655.70,366.97 656.20,368.81 656.70,368.80 657.20,368.21 657.70,368.64 658.20,368.61 658.70,368.72 659.20,368.77 659.70,368.84 660.20,368.71 660.70,368.77 661.20,368.91 661.70,368.84 662.20,367.76 662.70,368.92 663.20,368.84 663.70,368.67 664.20,368.70 664.70,368.21 665.20,368.68 665.70,368.84 666.20,368.65 666.70,368.96 667.20,368.57 667.70,368.76 668.20,368.87 668.70,368.08" fill="none" stroke="#111" stroke-width="1.7" stroke-linejoin="round"/>
<path d="M378.05,399.82 378.05,399.76 378.30,399.62 378.55,399.23 378.80,398.33 379.05,396.50 379.30,393.29 379.55,388.51 379.80,382.60 380.05,376.72 380.30,372.56 380.55,371.47 380.80,371.98 381.05,372.88 381.30,374.16 381.55,375.75 381.80,377.58 382.05,379.59 382.30,381.69 382.55,383.82 382.80,385.89 383.05,387.86 383.30,389.69 383.55,391.34 383.80,392.80 384.05,394.06 384.30,395.12 384.55,396.01 384.80,396.73 385.05,397.31 385.30,397.77 385.55,398.13 385.80,398.40 386.05,398.62 386.30,398.78 386.55,398.91 386.55,399.82Z" fill="#ff0000" stroke="none"/>
<path d="M408.65,399.84 408.65,399.80 408.90,399.71 409.15,399.47 409.40,398.90 409.65,397.73 409.90,395.70 410.15,392.67 410.40,388.92 410.65,385.20 410.90,382.56 411.15,381.87 411.40,382.16 411.65,382.65 411.90,383.34 412.15,384.20 412.40,385.20 412.65,386.31 412.90,387.49 413.15,388.71 413.40,389.93 413.65,391.12 413.90,392.26 414.15,393.32 414.40,394.29 414.65,395.16 414.90,395.92 415.15,396.59 415.40,397.16 415.65,397.63 415.90,398.03 416.15,398.35 416.40,398.61 416.65,398.82 416.90,398.98 417.15,399.11 417.40,399.22 417.65,399.30 417.65,399.84Z" fill="#1fa8e6" stroke="none"/>
<path d="M458.60,399.87 458.60,399.83 458.85,399.75 459.10,399.55 459.35,399.12 459.60,398.28 459.85,396.81 460.10,394.53 460.35,391.42 460.60,387.74 460.85,384.08 461.10,381.23 461.35,379.91 461.60,380.04 461.85,380.39 462.10,380.88 462.35,381.52 462.60,382.27 462.85,383.14 463.10,384.09 463.35,385.11 463.60,386.18 463.85,387.28 464.10,388.38 464.35,389.48 464.60,390.54 464.85,391.56 465.10,392.53 465.35,393.43 465.60,394.26 465.85,395.01 466.10,395.70 466.35,396.30 466.60,396.84 466.85,397.30 467.10,397.70 467.35,398.05 467.60,398.34 467.85,398.58 468.10,398.79 468.35,398.95 468.60,399.09 468.85,399.21 469.10,399.30 469.35,399.38 469.60,399.44 469.60,399.87Z" fill="#33c033" stroke="none"/>
<path d="M346.70,399.62 347.20,399.88 347.70,399.65 348.20,399.79 348.70,399.74 349.20,399.74 349.70,399.56 350.20,399.94 350.70,399.92 351.20,399.94 351.70,399.92 352.20,399.79 352.70,399.83 353.20,399.74 353.70,400.23 354.20,400.05 354.70,399.94 355.20,399.69 355.70,399.82 356.20,399.61 356.70,399.67 357.20,399.85 357.70,400.05 358.20,400.02 358.70,399.79 359.20,400.20 359.70,399.71 360.20,399.54 360.70,399.69 361.20,399.49 361.70,399.60 362.20,399.84 362.70,399.45 363.20,399.93 363.70,399.55 364.20,400.31 364.70,399.84 365.20,400.05 365.70,399.77 366.20,399.96 366.70,399.81 367.20,399.64 367.70,399.88 368.20,399.73 368.70,399.70 369.20,399.90 369.70,400.24 370.20,400.23 370.70,400.09 371.20,399.75 371.70,399.40 372.20,399.80 372.70,399.95 372.95,399.64 373.20,399.70 373.45,400.02 373.70,399.70 373.95,399.84 374.20,399.96 374.45,399.82 374.70,399.64 374.95,399.70 375.20,399.63 375.45,399.95 375.70,399.91 375.95,399.61 376.20,399.57 376.45,399.48 376.70,399.61 376.95,399.93 377.20,399.91 377.45,399.43 377.70,399.79 377.95,399.45 378.20,399.64 378.45,399.73 378.70,398.84 378.95,397.27 379.20,394.45 379.45,390.61 379.70,384.77 379.95,378.70 380.20,373.97 380.45,371.41 380.70,371.60 380.95,372.79 381.20,373.40 381.45,375.02 381.70,377.01 381.95,378.93 382.20,380.94 382.45,383.14 382.70,385.06 382.95,386.91 383.20,389.05 383.45,390.82 383.70,391.99 383.95,393.56 384.20,394.62 384.45,396.03 384.70,396.33 384.95,397.20 385.20,397.48 385.45,398.06 385.70,398.04 385.95,398.57 386.20,398.48 386.45,398.93 386.70,398.98 386.95,399.23 387.20,398.80 387.45,399.11 387.70,398.92 387.95,399.08 388.20,399.22 388.45,399.61 388.70,399.25 389.20,399.34 389.70,399.48 390.20,399.89 390.70,399.31 391.20,399.99 391.70,399.63 392.20,400.22 392.70,399.78 393.20,399.33 393.70,399.51 394.20,399.72 394.70,399.59 395.20,399.95 395.70,399.79 396.20,399.30 396.70,399.79 397.20,399.80 397.70,399.93 398.20,399.77 398.70,399.58 399.20,399.86 399.70,399.68 400.20,399.77 400.70,399.66 401.20,399.84 401.70,399.72 402.20,400.00 402.70,399.36 403.20,399.68 403.45,400.06 403.70,399.37 403.95,399.95 404.20,399.77 404.45,399.79 404.70,399.95 404.95,399.62 405.20,399.78 405.45,399.83 405.70,399.94 405.95,400.17 406.20,399.86 406.45,399.49 406.70,399.77 406.95,399.90 407.20,399.96 407.45,400.02 407.70,399.82 407.95,399.95 408.20,399.85 408.45,399.85 408.70,399.58 408.95,399.63 409.20,399.51 409.45,398.54 409.70,397.24 409.95,394.54 410.20,392.16 410.45,388.02 410.70,384.81 410.95,381.93 411.20,381.68 411.45,381.84 411.70,382.63 411.95,383.12 412.20,384.63 412.45,385.30 412.70,386.51 412.95,387.37 413.20,388.89 413.45,389.83 413.70,391.58 413.95,392.83 414.20,393.16 414.45,394.49 414.70,395.15 414.95,395.74 415.20,396.42 415.45,397.04 415.70,397.62 415.95,398.15 416.20,398.06 416.45,398.57 416.70,399.04 416.95,398.77 417.20,398.94 417.45,399.67 417.70,399.70 417.95,399.42 418.20,399.13 418.45,399.65 418.70,399.80 418.95,399.20 419.20,399.93 419.70,399.38 420.20,399.79 420.70,399.50 421.20,399.58 421.70,399.67 422.20,399.51 422.70,399.82 423.20,399.77 423.70,399.98 424.20,399.80 424.70,400.02 425.20,399.68 425.70,399.66 426.20,399.88 426.70,399.89 427.20,399.75 427.70,399.84 428.20,400.19 428.70,399.98 429.20,399.84 429.70,399.94 430.20,399.59 430.70,399.64 431.20,399.91 431.70,399.79 432.20,399.63 432.70,399.63 433.20,399.68 433.70,399.82 434.20,399.71 434.70,399.90 435.20,399.82 435.70,399.89 436.20,399.83 436.70,399.79 437.20,399.88 437.70,400.11 438.20,399.81 438.70,400.22 439.20,399.87 439.70,399.95 440.20,399.91 440.70,399.84 441.20,399.80 441.70,400.04 442.20,400.27 442.70,399.76 443.20,399.59 443.70,399.87 444.20,400.17 444.70,399.60 445.20,399.78 445.70,399.98 446.20,400.33 446.70,399.72 447.20,399.42 447.70,399.91 448.20,399.98 448.70,399.85 449.20,399.76 449.70,399.95 450.20,400.02 450.70,399.98 451.20,399.76 451.70,400.02 452.20,400.14 452.70,399.60 453.20,399.97 453.70,400.58 453.95,399.79 454.20,399.79 454.45,399.97 454.70,400.08 454.95,399.69 455.20,400.01 455.45,399.65 455.70,399.80 455.95,399.86 456.20,399.51 456.45,399.72 456.70,400.24 456.95,399.67 457.20,399.71 457.45,399.69 457.70,399.34 457.95,399.70 458.20,399.63 458.45,399.87 458.70,399.93 458.95,399.77 459.20,399.46 459.45,398.69 459.70,397.73 459.95,395.81 460.20,393.28 460.45,390.19 460.70,386.64 460.95,382.81 461.20,380.26 461.45,379.97 461.70,380.32 461.95,380.64 462.20,380.94 462.45,381.71 462.70,382.77 462.95,383.50 463.20,384.60 463.45,385.60 463.70,386.47 463.95,387.71 464.20,388.71 464.45,390.20 464.70,390.73 464.95,392.29 465.20,393.43 465.45,393.84 465.70,394.42 465.95,395.29 466.20,395.72 466.45,396.27 466.70,396.78 466.95,397.52 467.20,397.82 467.45,398.38 467.70,398.45 467.95,398.61 468.20,398.70 468.45,399.36 468.70,399.78 468.95,399.38 469.20,399.43 469.45,399.24 469.95,399.48 470.45,399.57 470.95,399.43 471.45,399.83 471.95,399.65 472.45,399.49 472.95,399.35 473.45,399.46 473.95,399.88 474.45,399.55 474.95,399.91 475.45,399.82 475.95,400.03 476.45,400.03 476.95,400.16 477.45,399.93 477.95,400.19 478.45,399.99 478.95,399.97 479.45,399.72 479.95,400.26 480.45,399.85 480.95,399.75 481.45,399.72 481.95,399.86 482.45,399.82 482.95,399.75 483.45,399.79 483.95,399.73 484.45,399.63 484.95,399.43 485.45,399.85 485.95,399.87 486.45,399.71 486.95,399.98 487.45,399.89 487.95,400.06 488.45,399.83 488.95,399.88 489.45,399.83 489.95,399.92 490.45,400.03 490.95,399.83 491.45,400.01 491.95,400.04 492.45,399.84 492.95,400.02 493.45,400.43 493.95,400.03 494.45,400.38 494.95,399.99 495.45,399.50 495.95,399.77 496.45,400.42 496.95,399.46 497.45,399.94 497.95,400.04 498.45,399.88 498.95,400.01 499.45,400.22 499.95,399.95 500.45,399.86 500.95,399.84 501.45,399.83 501.95,400.01 502.45,399.88 502.95,400.12 503.45,399.76 503.95,399.53 504.45,400.01 504.95,399.79 505.45,399.42 505.95,400.26 506.45,400.16 506.95,399.43 507.45,399.62 507.95,399.68 508.45,400.03 508.95,399.98 509.45,400.04 509.95,399.80 510.45,400.00 510.95,400.09 511.45,400.17 511.95,399.77 512.45,399.95 512.95,399.84 513.45,400.30 513.95,399.89 514.45,399.89 514.95,399.75 515.45,399.80 515.95,399.97 516.45,399.74 516.95,399.95 517.45,399.82 517.95,399.60 518.45,399.73 518.95,400.05 519.45,399.92 519.95,399.80 520.45,399.60 520.95,399.89 521.45,399.92 521.95,400.08 522.45,400.24 522.95,399.85 523.45,400.01 523.95,400.20 524.45,399.78 524.95,399.98 525.45,399.63 525.95,399.96 526.45,400.04 526.95,399.64 527.45,399.98 527.95,399.72 528.45,399.75 528.95,400.24 529.45,400.21 529.95,400.12 530.45,399.78 530.95,400.06 531.45,399.49 531.95,399.70 532.45,399.71 532.95,399.84 533.45,399.72 533.95,399.77 534.45,399.91 534.95,399.97 535.45,400.12 535.95,399.91 536.45,400.13 536.95,400.29 537.45,399.95 537.95,399.98 538.45,400.05 538.95,399.74 539.45,399.71 539.95,399.58 540.45,400.04 540.95,399.78 541.45,399.86 541.95,399.68 542.45,399.89 542.95,400.01 543.45,400.09 543.95,399.92 544.45,399.74 544.95,399.85 545.45,400.10 545.95,400.13 546.45,399.61 546.95,399.93 547.45,399.63 547.95,400.06 548.45,400.10 548.95,400.32 549.45,399.70 549.95,400.18 550.45,400.00 550.95,399.78 551.45,399.90 551.95,399.96 552.45,400.22 552.95,399.68 553.45,399.99 553.95,399.70 554.45,400.09 554.95,399.70 555.45,399.90 555.95,399.99 556.45,400.26 556.95,399.72 557.45,400.40 557.95,399.65 558.45,399.96 558.95,399.70 559.45,399.75 559.95,399.58 560.45,400.30 560.95,399.89 561.45,399.99 561.95,400.08 562.45,399.89 562.95,399.99 563.45,399.62 563.95,400.09 564.45,399.93 564.95,399.67 565.45,400.07 565.95,399.75 566.45,399.73 566.95,400.01 567.45,399.99 567.95,399.97 568.45,399.72 568.95,399.86 569.45,400.35 569.95,399.72 570.45,400.32 570.95,400.12 571.45,400.35 571.95,400.15 572.45,399.96 572.95,399.90 573.45,399.94 573.95,400.23 574.45,399.90 574.95,399.81 575.45,400.36 575.95,399.87 576.45,400.05 576.95,400.13 577.45,400.11 577.95,400.02 578.45,400.04 578.95,399.87 579.45,399.96 579.95,399.99 580.45,400.03 580.95,399.96 581.45,399.73 581.95,399.68 582.45,399.79 582.95,400.13 583.45,399.64 583.95,400.02 584.45,400.21 584.95,400.01 585.45,399.86 585.95,399.94 586.45,399.95 586.95,400.14 587.45,399.80 587.95,399.98 588.45,399.98 588.95,399.82 589.45,399.72 589.95,400.06 590.45,399.95 590.95,399.88 591.45,399.98 591.95,399.97 592.45,399.88 592.95,400.04 593.45,399.92 593.95,400.35 594.45,400.02 594.95,399.70 595.45,400.04 595.95,400.16 596.45,400.31 596.95,399.74 597.45,399.97 597.95,399.70 598.45,399.70 598.95,399.94 599.45,399.76 599.95,399.99 600.45,399.97 600.95,400.14 601.45,400.10 601.95,399.82 602.45,399.83 602.95,400.08 603.45,399.72 603.95,399.89 604.45,400.20 604.95,400.10 605.45,400.13 605.95,399.93 606.45,399.99 606.95,400.11 607.45,399.97 607.95,399.84 608.45,399.84 608.95,399.91 609.45,400.05 609.95,400.14 610.45,400.10 610.95,399.93 611.45,399.98 611.95,399.66 612.45,399.86 612.95,400.01 613.45,400.15 613.95,400.44 614.45,400.37 614.95,400.09 615.45,399.82 615.95,399.65 616.45,399.86 616.95,399.88 617.45,399.95 617.95,399.96 618.45,399.96 618.95,400.15 619.45,400.18 619.95,399.72 620.45,399.98 620.95,399.57 621.45,399.75 621.95,399.47 622.45,399.81 622.95,400.14 623.45,399.62 623.95,400.12 624.45,399.81 624.95,400.02 625.45,400.12 625.95,399.89 626.45,400.21 626.95,399.89 627.45,399.86 627.95,400.11 628.45,400.13 628.95,400.03 629.45,400.04 629.95,399.95 630.45,400.24 630.95,400.05 631.45,400.31 631.95,400.20 632.45,400.14 632.95,400.00 633.45,399.79 633.95,400.04 634.45,399.90 634.95,399.76 635.45,400.03 635.95,400.13 636.45,399.97 636.95,399.90 637.45,400.16 637.95,400.05 638.45,399.95 638.95,400.09 639.45,400.07 639.95,400.06 640.45,399.95 640.95,399.89 641.45,400.18 641.95,400.24 642.45,400.33 642.95,399.84 643.45,399.86 643.95,400.36 644.45,400.12 644.95,400.16 645.45,400.29 645.95,399.81 646.45,400.03 646.95,399.84 647.45,399.52 647.95,399.99 648.45,400.20 648.95,400.30 649.45,399.66 649.95,399.87 650.45,400.13 650.95,400.08 651.45,400.04 651.95,399.69 652.45,399.71 652.95,400.16 653.45,399.74 653.95,399.92 654.45,400.07 654.95,399.87 655.45,399.74 655.95,399.90 656.45,400.01 656.95,399.81 657.45,400.42 657.95,399.99 658.45,400.04 658.95,399.74 659.45,400.20 659.95,400.26 660.45,399.91 660.95,400.11 661.45,399.94 661.95,400.06 662.45,400.31 662.95,399.91 663.45,399.85 663.95,400.11 664.45,400.13 664.95,400.28 665.45,399.68 665.95,399.90 666.45,399.94 666.95,400.09 667.45,400.09 667.95,399.81 668.45,399.54" fill="none" stroke="#111" stroke-width="1.3" stroke-linejoin="round"/>
<path d="M346.70,426.09 347.20,425.82 347.70,425.71 348.20,425.85 348.70,425.85 349.20,425.79 349.70,425.43 350.20,425.78 350.70,425.96 351.20,426.09 351.70,426.08 352.20,426.25 352.70,425.76 353.20,425.74 353.70,425.79 354.20,425.55 354.70,425.58 355.20,425.81 355.70,426.08 356.20,425.54 356.70,425.66 357.20,425.79 357.70,426.26 358.20,425.59 358.70,425.97 359.20,426.22 359.70,425.84 360.20,425.61 360.70,425.56 361.20,425.93 361.70,425.65 362.20,425.83 362.70,425.86 363.20,426.04 363.70,425.53 364.20,426.20 364.70,425.59 365.20,425.87 365.70,425.98 366.20,426.02 366.70,425.83 367.20,426.00 367.70,426.10 368.20,425.91 368.70,425.83 369.20,425.75 369.70,425.92 370.20,426.07 370.70,426.10 371.20,425.88 371.70,425.80 372.20,425.90 372.70,425.84 373.20,425.75 373.70,425.69 374.20,425.69 374.70,425.58 375.20,425.81 375.70,426.02 376.20,425.73 376.70,425.83 377.20,425.89 377.70,425.65 378.20,426.09 378.70,425.87 379.20,425.83 379.70,425.59 380.20,425.93 380.70,425.67 381.20,425.48 381.70,425.67 382.20,425.58 382.70,425.75 383.20,425.75 383.70,425.58 384.20,425.88 384.70,426.12 385.20,425.59 385.70,425.98 386.20,425.78 386.70,425.74 387.20,425.52 387.70,425.43 388.20,425.91 388.70,425.63 389.20,425.87 389.70,425.62 390.20,425.70 390.70,425.61 391.20,425.97 391.70,425.71 392.20,425.66 392.70,425.72 393.20,425.53 393.70,425.71 394.20,426.00 394.70,426.07 395.20,425.96 395.70,425.58 396.20,425.69 396.70,425.98 397.20,425.85 397.70,425.76 398.20,425.87 398.70,426.03 399.20,425.83 399.70,425.45 400.20,425.70 400.70,425.63 401.20,425.85 401.70,425.50 402.20,425.84 402.70,425.62 403.20,425.42 403.70,425.79 404.20,425.73 404.70,425.64 405.20,425.81 405.70,426.15 406.20,425.77 406.70,426.01 407.20,425.40 407.70,425.77 408.20,425.54 408.70,425.54 409.20,425.91 409.70,425.54 410.20,425.54 410.70,425.46 411.20,425.74 411.70,425.84 412.20,425.82 412.70,425.82 413.20,425.79 413.70,425.88 414.20,425.47 414.70,425.74 415.20,425.61 415.70,425.66 416.20,425.71 416.70,425.76 417.20,425.65 417.70,425.90 418.20,425.79 418.70,425.50 419.20,425.53 419.70,425.87 420.20,425.86 420.70,425.55 421.20,425.85 421.70,425.76 422.20,425.71 422.70,425.85 423.20,425.68 423.70,425.55 424.20,425.77 424.70,425.61 425.20,425.61 425.70,425.53 426.20,425.92 426.70,425.30 427.20,425.80 427.70,425.65 428.20,425.86 428.70,425.60 429.20,425.29 429.70,425.52 430.20,426.24 430.70,425.66 431.20,425.73 431.70,425.74 432.20,425.53 432.70,425.63 433.20,425.57 433.70,425.52 434.20,425.56 434.70,425.53 435.20,425.53 435.70,425.68 436.20,425.72 436.70,425.60 437.20,425.64 437.70,425.53 438.20,425.72 438.70,425.48 439.20,425.69 439.70,426.20 440.20,425.51 440.70,425.37 441.20,426.00 441.70,425.94 442.20,425.26 442.70,425.39 443.20,425.69 443.70,425.34 444.20,425.55 444.70,425.74 445.20,425.70 445.70,425.17 446.20,425.52 446.70,425.45 447.20,425.31 447.70,425.22 448.20,425.18 448.70,425.68 449.20,425.15 449.70,425.05 450.20,425.20 450.70,425.21 451.20,425.33 451.70,425.44 452.20,425.39 452.70,425.09 453.20,425.35 453.70,425.09 454.20,425.23 454.70,424.65 455.20,424.85 455.70,424.96 456.20,424.98 456.70,424.87 457.20,424.92 457.70,424.98 458.20,425.03 458.70,425.01 459.20,425.20 459.70,424.80 460.20,425.01 460.70,424.95 461.20,425.05 461.70,424.79 462.20,424.73 462.70,425.22 463.20,425.12 463.70,425.00 464.20,425.27 464.70,424.49 465.20,424.85 465.70,425.15 466.20,424.57 466.70,424.45 467.20,424.84 467.70,424.95 468.20,424.55 468.70,424.73 469.20,424.44 469.70,424.44 470.20,424.51 470.70,424.08 471.20,424.39 471.70,424.70 472.20,424.48 472.70,424.83 473.20,424.35 473.70,424.69 474.20,424.38 474.70,423.96 475.20,424.56 475.70,424.45 476.20,424.49 476.70,424.82 477.20,424.43 477.70,424.63 478.20,424.18 478.70,424.69 479.20,424.53 479.70,424.53 480.20,424.48 480.70,424.69 481.20,424.37 481.70,424.35 482.20,424.31 482.70,424.53 483.20,424.89 483.70,424.37 484.20,424.50 484.70,424.64 485.20,424.57 485.70,424.22 486.20,424.75 486.70,424.51 487.20,424.51 487.70,424.52 488.20,424.17 488.70,424.67 489.20,424.52 489.70,424.40 490.20,424.78 490.70,424.28 491.20,424.41 491.70,424.21 492.20,424.50 492.70,424.68 493.20,424.27 493.70,424.54 494.20,424.37 494.70,424.50 495.20,424.06 495.70,424.25 496.20,424.30 496.70,423.92 497.20,424.41 497.70,424.16 498.20,424.29 498.70,424.35 499.20,424.13 499.70,424.34 500.20,424.13 500.70,424.27 501.20,424.21 501.70,424.22 502.20,424.59 502.70,424.35 503.20,424.09 503.70,423.71 504.20,424.31 504.70,424.30 505.20,424.39 505.70,424.39 506.20,424.32 506.70,424.49 507.20,424.14 507.70,424.40 508.20,424.49 508.70,424.36 509.20,424.58 509.70,424.44 510.20,424.26 510.70,424.37 511.20,424.47 511.70,424.31 512.20,425.13 512.70,424.49 513.20,424.72 513.70,424.69 514.20,424.61 514.70,424.33 515.20,424.59 515.70,424.18 516.20,424.23 516.70,424.74 517.20,424.86 517.70,424.43 518.20,424.70 518.70,424.27 519.20,424.50 519.70,424.67 520.20,424.09 520.70,424.32 521.20,424.97 521.70,424.82 522.20,424.46 522.70,424.97 523.20,424.57 523.70,424.60 524.20,424.98 524.70,424.42 525.20,424.74 525.70,424.87 526.20,424.51 526.70,424.47 527.20,424.72 527.70,424.79 528.20,424.82 528.70,424.69 529.20,424.82 529.70,424.78 530.20,424.90 530.70,424.74 531.20,424.33 531.70,424.66 532.20,424.59 532.70,424.50 533.20,424.91 533.70,425.08 534.20,425.05 534.70,424.79 535.20,424.98 535.70,424.69 536.20,424.79 536.70,424.78 537.20,425.12 537.70,425.00 538.20,424.86 538.70,425.08 539.20,425.27 539.70,425.29 540.20,425.09 540.70,425.35 541.20,425.30 541.70,425.06 542.20,425.13 542.70,425.21 543.20,425.50 543.70,425.31 544.20,425.40 544.70,425.12 545.20,425.33 545.70,425.54 546.20,425.36 546.70,425.00 547.20,425.15 547.70,425.53 548.20,425.12 548.70,424.66 549.20,425.47 549.70,425.08 550.20,425.05 550.70,425.25 551.20,425.78 551.70,425.53 552.20,425.39 552.70,425.36 553.20,425.52 553.70,425.25 554.20,425.51 554.70,425.62 555.20,425.42 555.70,425.87 556.20,424.93 556.70,425.39 557.20,425.38 557.70,425.48 558.20,425.24 558.70,425.39 559.20,425.43 559.70,425.64 560.20,426.07 560.70,425.82 561.20,425.58 561.70,425.75 562.20,426.03 562.70,425.49 563.20,425.44 563.70,425.77 564.20,425.67 564.70,425.64 565.20,425.89 565.70,425.38 566.20,425.47 566.70,425.57 567.20,425.64 567.70,425.62 568.20,425.46 568.70,425.30 569.20,425.51 569.70,425.38 570.20,425.37 570.70,425.69 571.20,425.63 571.70,425.67 572.20,425.84 572.70,425.64 573.20,425.83 573.70,425.58 574.20,425.35 574.70,425.49 575.20,425.78 575.70,425.35 576.20,425.61 576.70,425.16 577.20,425.97 577.70,425.51 578.20,425.76 578.70,425.62 579.20,425.75 579.70,425.54 580.20,425.79 580.70,425.64 581.20,425.68 581.70,424.89 582.20,425.37 582.70,425.65 583.20,425.94 583.70,425.75 584.20,425.74 584.70,425.75 585.20,425.96 585.70,425.61 586.20,425.41 586.70,425.52 587.20,425.38 587.70,425.47 588.20,425.39 588.70,425.56 589.20,425.48 589.70,425.47 590.20,425.46 590.70,425.62 591.20,425.85 591.70,425.34 592.20,425.56 592.70,425.46 593.20,425.84 593.70,425.47 594.20,425.56 594.70,425.45 595.20,425.45 595.70,425.54 596.20,425.81 596.70,425.43 597.20,425.67 597.70,425.37 598.20,425.56 598.70,425.76 599.20,425.67 599.70,425.93 600.20,425.31 600.70,425.75 601.20,425.79 601.70,425.82 602.20,425.91 602.70,425.31 603.20,425.53 603.70,425.42 604.20,425.43 604.70,425.43 605.20,425.36 605.70,425.76 606.20,425.19 606.70,425.56 607.20,425.48 607.70,425.55 608.20,425.64 608.70,425.59 609.20,425.52 609.70,425.89 610.20,425.32 610.70,425.66 611.20,425.73 611.70,425.54 612.20,425.72 612.70,425.34 613.20,425.54 613.70,425.71 614.20,425.89 614.70,425.65 615.20,425.56 615.70,425.29 616.20,425.64 616.70,425.42 617.20,425.46 617.70,425.13 618.20,425.43 618.70,425.56 619.20,425.78 619.70,425.75 620.20,425.56 620.70,425.37 621.20,425.85 621.70,425.56 622.20,425.71 622.70,425.56 623.20,425.66 623.70,425.77 624.20,425.54 624.70,425.77 625.20,425.50 625.70,425.71 626.20,425.92 626.70,426.03 627.20,425.71 627.70,425.26 628.20,425.62 628.70,425.61 629.20,425.76 629.70,425.70 630.20,425.27 630.70,425.45 631.20,425.75 631.70,426.04 632.20,425.47 632.70,425.46 633.20,425.76 633.70,425.68 634.20,425.46 634.70,425.46 635.20,425.81 635.70,425.50 636.20,425.79 636.70,425.52 637.20,425.90 637.70,425.60 638.20,425.60 638.70,425.37 639.20,425.41 639.70,425.89 640.20,425.50 640.70,426.05 641.20,425.98 641.70,425.57 642.20,425.55 642.70,425.78 643.20,425.58 643.70,425.83 644.20,425.71 644.70,425.65 645.20,425.62 645.70,425.78 646.20,425.82 646.70,425.50 647.20,425.56 647.70,426.15 648.20,425.40 648.70,425.82 649.20,425.67 649.70,425.36 650.20,425.73 650.70,425.73 651.20,425.46 651.70,425.69 652.20,426.13 652.70,425.69 653.20,425.55 653.70,425.40 654.20,425.19 654.70,425.83 655.20,425.89 655.70,425.49 656.20,425.68 656.70,425.64 657.20,425.25 657.70,425.81 658.20,425.48 658.70,425.67 659.20,425.96 659.70,425.71 660.20,425.35 660.70,425.91 661.20,425.31 661.70,425.50 662.20,425.66 662.70,425.51 663.20,425.68 663.70,425.60 664.20,425.67 664.70,425.40 665.20,425.74 665.70,425.50 666.20,425.84 666.70,425.58 667.20,425.52 667.70,425.48 668.20,425.62 668.70,425.56" fill="none" stroke="#111" stroke-width="1.2" stroke-linejoin="round"/>
<line x1="347.00" y1="430.80" x2="668.40" y2="430.80" stroke="#111" stroke-width="1.0"/>
<line x1="348.54" y1="430.80" x2="348.54" y2="432.90" stroke="#111" stroke-width="0.9"/>
<line x1="366.30" y1="430.80" x2="366.30" y2="432.90" stroke="#111" stroke-width="0.9"/>
<line x1="384.06" y1="430.80" x2="384.06" y2="432.90" stroke="#111" stroke-width="0.9"/>
<line x1="401.82" y1="430.80" x2="401.82" y2="432.90" stroke="#111" stroke-width="0.9"/>
<line x1="419.58" y1="430.80" x2="419.58" y2="432.90" stroke="#111" stroke-width="0.9"/>
<line x1="437.34" y1="430.80" x2="437.34" y2="432.90" stroke="#111" stroke-width="0.9"/>
<line x1="455.10" y1="430.80" x2="455.10" y2="432.90" stroke="#111" stroke-width="0.9"/>
<line x1="472.86" y1="430.80" x2="472.86" y2="432.90" stroke="#111" stroke-width="0.9"/>
<line x1="490.62" y1="430.80" x2="490.62" y2="432.90" stroke="#111" stroke-width="0.9"/>
<line x1="508.38" y1="430.80" x2="508.38" y2="432.90" stroke="#111" stroke-width="0.9"/>
<line x1="526.14" y1="430.80" x2="526.14" y2="432.90" stroke="#111" stroke-width="0.9"/>
<line x1="543.90" y1="430.80" x2="543.90" y2="432.90" stroke="#111" stroke-width="0.9"/>
<line x1="561.66" y1="430.80" x2="561.66" y2="432.90" stroke="#111" stroke-width="0.9"/>
<line x1="579.42" y1="430.80" x2="579.42" y2="432.90" stroke="#111" stroke-width="0.9"/>
<line x1="597.18" y1="430.80" x2="597.18" y2="432.90" stroke="#111" stroke-width="0.9"/>
<line x1="614.94" y1="430.80" x2="614.94" y2="432.90" stroke="#111" stroke-width="0.9"/>
<line x1="632.70" y1="430.80" x2="632.70" y2="432.90" stroke="#111" stroke-width="0.9"/>
<line x1="650.46" y1="430.80" x2="650.46" y2="432.90" stroke="#111" stroke-width="0.9"/>
<line x1="668.22" y1="430.80" x2="668.22" y2="432.90" stroke="#111" stroke-width="0.9"/>
<text x="367.80" y="441.60" font-size="7.4" font-weight="bold" fill="#111" stroke="#111" stroke-width="0.22" text-anchor="middle" >8.0</text>
<text x="403.32" y="441.60" font-size="7.4" font-weight="bold" fill="#111" stroke="#111" stroke-width="0.22" text-anchor="middle" >10.0</text>
<text x="438.84" y="441.60" font-size="7.4" font-weight="bold" fill="#111" stroke="#111" stroke-width="0.22" text-anchor="middle" >12.0</text>
<text x="474.36" y="441.60" font-size="7.4" font-weight="bold" fill="#111" stroke="#111" stroke-width="0.22" text-anchor="middle" >14.0</text>
<text x="509.88" y="441.60" font-size="7.4" font-weight="bold" fill="#111" stroke="#111" stroke-width="0.22" text-anchor="middle" >16.0</text>
<text x="545.40" y="441.60" font-size="7.4" font-weight="bold" fill="#111" stroke="#111" stroke-width="0.22" text-anchor="middle" >18.0</text>
<text x="580.92" y="441.60" font-size="7.4" font-weight="bold" fill="#111" stroke="#111" stroke-width="0.22" text-anchor="middle" >20.0</text>
<text x="616.44" y="441.60" font-size="7.4" font-weight="bold" fill="#111" stroke="#111" stroke-width="0.22" text-anchor="middle" >22.0</text>
<text x="651.96" y="441.60" font-size="7.4" font-weight="bold" fill="#111" stroke="#111" stroke-width="0.22" text-anchor="middle" >24.0</text>
<text x="664.20" y="441.60" font-size="7.4" font-weight="bold" fill="#111" stroke="#111" stroke-width="0.22" text-anchor="start" >min</text>
<text x="368.50" y="247.30" font-size="7.7" font-weight="normal" fill="#111" stroke="#111" stroke-width="0.22" text-anchor="start" >PREG</text>
<text x="386.60" y="234.60" font-size="7.7" font-weight="normal" fill="#111" stroke="#111" stroke-width="0.22" text-anchor="start" >20R,22R-DHC</text>
<text x="435.80" y="242.40" font-size="7.7" font-weight="normal" fill="#111" stroke="#111" stroke-width="0.22" text-anchor="start" >22S-HC</text>
<text x="455.30" y="260.10" font-size="7.7" font-weight="normal" fill="#111" stroke="#111" stroke-width="0.22" text-anchor="start" >20S-HC</text>
<text x="422.50" y="274.80" font-size="7.7" font-weight="normal" fill="#111" stroke="#111" stroke-width="0.22" text-anchor="start" >22R-HC</text>
<text x="464.50" y="274.80" font-size="7.7" font-weight="normal" fill="#111" stroke="#111" stroke-width="0.22" text-anchor="start" >20R-HC</text>
<text x="668.40" y="280.70" font-size="9.2" font-weight="normal" fill="#111" stroke="#111" stroke-width="0.22" text-anchor="end" >CYP204A5 + 20R, 22R-DHC</text>
<text x="668.40" y="308.20" font-size="9.2" font-weight="normal" fill="#111" stroke="#111" stroke-width="0.22" text-anchor="end" >CYP204A5 + 22S-HC</text>
<text x="668.40" y="338.00" font-size="9.2" font-weight="normal" fill="#111" stroke="#111" stroke-width="0.22" text-anchor="end" >CYP204A5 + 22R-HC</text>
<text x="668.40" y="363.70" font-size="9.2" font-weight="normal" fill="#111" stroke="#111" stroke-width="0.22" text-anchor="end" >CYP204A5 + 20R-HC</text>
<text x="668.40" y="396.70" font-size="9.2" font-weight="normal" fill="#111" stroke="#111" stroke-width="0.22" text-anchor="end" >CYP204A5 + 20S-HC</text>
<text x="668.40" y="422.90" font-size="9.2" font-weight="normal" fill="#111" stroke="#111" stroke-width="0.22" text-anchor="end" >Control</text>
<text x="589.00" y="240.60" font-size="8.6" font-weight="bold" fill="#111" stroke="#111" stroke-width="0.22" text-anchor="start" >EIC</text>
<text x="606.60" y="240.00" font-size="8.0" font-weight="bold" fill="#111" stroke="#111" stroke-width="0.22" text-anchor="start" >:</text>
<text x="618.50" y="240.60" font-size="8.6" font-weight="bold" fill="#ff2020" stroke="#ff2020" stroke-width="0.22" text-anchor="start" >m/z 317</text>
<text x="619.70" y="251.40" font-size="8.6" font-weight="bold" fill="#44cc44" stroke="#44cc44" stroke-width="0.22" text-anchor="start" >m/z 403</text>
<text x="619.70" y="262.40" font-size="8.6" font-weight="bold" fill="#22aaee" stroke="#22aaee" stroke-width="0.22" text-anchor="start" >m/z 419</text>
<line x1="370.50" y1="299.20" x2="370.50" y2="304.60" stroke="#2828ff" stroke-width="1.0"/>
<line x1="368.16" y1="300.55" x2="372.84" y2="303.25" stroke="#2828ff" stroke-width="1.0"/>
<line x1="372.84" y1="300.55" x2="368.16" y2="303.25" stroke="#2828ff" stroke-width="1.0"/>
<line x1="387.50" y1="301.80" x2="387.50" y2="307.20" stroke="#2828ff" stroke-width="1.0"/>
<line x1="385.16" y1="303.15" x2="389.84" y2="305.85" stroke="#2828ff" stroke-width="1.0"/>
<line x1="389.84" y1="303.15" x2="385.16" y2="305.85" stroke="#2828ff" stroke-width="1.0"/>
<line x1="406.40" y1="303.60" x2="406.40" y2="309.00" stroke="#2828ff" stroke-width="1.0"/>
<line x1="404.06" y1="304.95" x2="408.74" y2="307.65" stroke="#2828ff" stroke-width="1.0"/>
<line x1="408.74" y1="304.95" x2="404.06" y2="307.65" stroke="#2828ff" stroke-width="1.0"/>
</svg></body></html>
